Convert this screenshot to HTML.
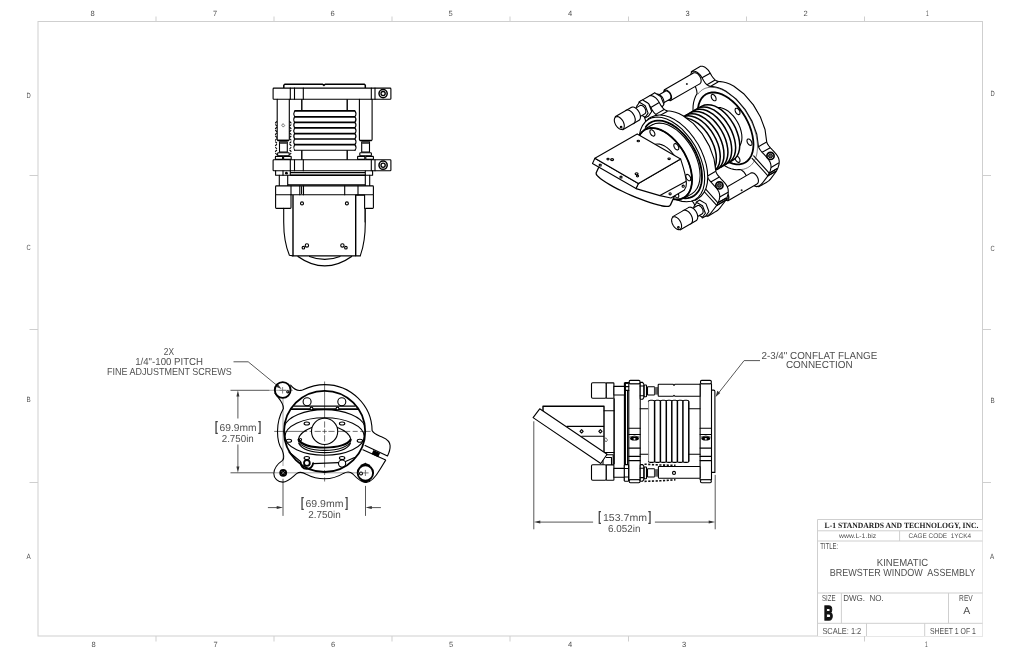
<!DOCTYPE html>
<html lang="en"><head><meta charset="utf-8"><title>Kinematic Brewster Window Assembly</title>
<style>
html,body{margin:0;padding:0;background:#fff;}
body{width:1020px;height:660px;overflow:hidden;}
svg{display:block;will-change:transform;}
text{font-family:"Liberation Sans",sans-serif;fill:#505050;text-rendering:geometricPrecision;}
text.b{font-weight:bold;fill:#111;}
text.br{fill:#333;stroke:#333;stroke-width:0.35;}
text.serif{font-family:"Liberation Serif",serif;font-weight:bold;fill:#222;}
.k{fill:none;stroke:#000;stroke-width:1.1;stroke-linecap:round;stroke-linejoin:round;}
.k2{fill:none;stroke:#000;stroke-width:1.8;stroke-linecap:round;stroke-linejoin:round;}
.t{fill:none;stroke:#222;stroke-width:0.6;stroke-linecap:round;stroke-linejoin:round;}
.w{fill:#fff;stroke:#000;stroke-width:1.1;stroke-linecap:round;stroke-linejoin:round;}
.d{fill:none;stroke:#444;stroke-width:0.9;}
.f{fill:none;stroke:#cfcfcf;stroke-width:1;}
.a{fill:#333;stroke:none;}
</style></head>
<body>
<svg width="1020" height="660" viewBox="0 0 1020 660">
<rect x="0" y="0" width="1020" height="660" fill="#fff"/>
<g id="frame">
<rect class="f" x="38" y="21.5" width="944.5" height="614.5"/>
<path class="f" d="M156 16.5V21.5M274 16.5V21.5M392 16.5V21.5M510 16.5V21.5M628.5 16.5V21.5M746.5 16.5V21.5M864.5 16.5V21.5"/>
<path class="f" d="M156 636V641.5M274 636V641.5M392 636V641.5M510 636V641.5M628.5 636V641.5M864.5 636V641.5"/>
<path class="f" d="M29.5 175.5H38M29.5 329.5H38M29.5 482.5H38M982.5 175.5H991M982.5 329.5H991M982.5 482.5H991"/>
<g>
<text transform="translate(90.40 15.70) scale(0.7554 0.7558)" font-size="10" xml:space="preserve">8</text><text transform="translate(212.90 15.70) scale(0.7554 0.7558)" font-size="10" xml:space="preserve">7</text><text transform="translate(330.40 15.70) scale(0.7554 0.7558)" font-size="10" xml:space="preserve">6</text><text transform="translate(448.40 15.70) scale(0.7554 0.7558)" font-size="10" xml:space="preserve">5</text>
<text transform="translate(567.90 15.70) scale(0.7554 0.7558)" font-size="10" xml:space="preserve">4</text><text transform="translate(685.40 15.70) scale(0.7554 0.7558)" font-size="10" xml:space="preserve">3</text><text transform="translate(803.40 15.70) scale(0.7554 0.7558)" font-size="10" xml:space="preserve">2</text><text transform="translate(926.10 15.90) scale(0.4856 0.7849)" font-size="10" xml:space="preserve">1</text>
<text transform="translate(91.40 646.70) scale(0.7554 0.7558)" font-size="10" xml:space="preserve">8</text><text transform="translate(213.40 646.70) scale(0.7554 0.7558)" font-size="10" xml:space="preserve">7</text><text transform="translate(330.90 646.70) scale(0.7554 0.7558)" font-size="10" xml:space="preserve">6</text><text transform="translate(448.90 646.70) scale(0.7554 0.7558)" font-size="10" xml:space="preserve">5</text>
<text transform="translate(567.90 646.70) scale(0.7554 0.7558)" font-size="10" xml:space="preserve">4</text><text transform="translate(681.90 646.70) scale(0.7554 0.7558)" font-size="10" xml:space="preserve">3</text><text transform="translate(925.10 647.30) scale(0.4856 0.7849)" font-size="10" xml:space="preserve">1</text>
<text transform="translate(26.40 97.70) scale(0.5817 0.7558)" font-size="10" xml:space="preserve">D</text><text transform="translate(26.40 250.20) scale(0.5817 0.7558)" font-size="10" xml:space="preserve">C</text><text transform="translate(26.40 401.70) scale(0.6297 0.7558)" font-size="10" xml:space="preserve">B</text><text transform="translate(26.40 559.20) scale(0.6297 0.7558)" font-size="10" xml:space="preserve">A</text>
<text transform="translate(990.40 95.70) scale(0.5817 0.7558)" font-size="10" xml:space="preserve">D</text><text transform="translate(990.40 251.20) scale(0.5817 0.7558)" font-size="10" xml:space="preserve">C</text><text transform="translate(990.40 402.70) scale(0.6297 0.7558)" font-size="10" xml:space="preserve">B</text><text transform="translate(989.90 558.70) scale(0.6297 0.7558)" font-size="10" xml:space="preserve">A</text>
</g>

</g>
<g id="title">
<rect x="817.5" y="519.5" width="165" height="116.5" fill="#fff" stroke="none"/>
<path class="f" d="M817.5 636V519.5H982.5M817.5 530.8H982.5M817.5 541H982.5M817.5 593H982.5M817.5 623.3H982.5M899.6 530.8V541M841.4 593V623.3M948.5 593V623.3M866.5 623.3V636M924.7 623.3V636"/>
<text class="serif" transform="translate(824.60 528.00) scale(0.7637 0.8092)" font-size="10" xml:space="preserve">L-1 STANDARDS AND TECHNOLOGY, INC.</text>
<text transform="translate(839.01 538.20) scale(0.6898 0.6686)" font-size="10" xml:space="preserve">www.L-1.biz</text>
<text transform="translate(908.50 538.20) scale(0.6427 0.6686)" font-size="10" xml:space="preserve">CAGE CODE  1YCK4</text>
<text transform="translate(820.20 548.80) scale(0.5998 0.8721)" font-size="10" xml:space="preserve">TITLE:</text>
<text transform="translate(876.80 565.90) scale(0.9570 1.0320)" font-size="10" xml:space="preserve">KINEMATIC</text>
<text transform="translate(829.70 575.80) scale(0.9015 1.0320)" font-size="10" xml:space="preserve">BREWSTER WINDOW  ASSEMBLY</text>
<text transform="translate(822.00 601.40) scale(0.6118 0.8721)" font-size="10" xml:space="preserve">SIZE</text>
<text class="b" transform="translate(824.10 620.30) scale(1.2327 2.0349)" font-size="10" xml:space="preserve" stroke="#111" stroke-width="0.7">B</text>
<text transform="translate(843.20 601.40) scale(0.8032 0.8721)" font-size="10" xml:space="preserve">DWG.  NO.</text>
<text transform="translate(959.10 601.40) scale(0.6615 0.8721)" font-size="10" xml:space="preserve">REV</text>
<text transform="translate(963.20 613.80) scale(1.0495 1.0174)" font-size="10" xml:space="preserve">A</text>
<text transform="translate(822.40 633.50) scale(0.7426 0.8721)" font-size="10" xml:space="preserve">SCALE: 1:2</text>
<text transform="translate(930.00 633.50) scale(0.6902 0.8721)" font-size="10" xml:space="preserve">SHEET 1 OF 1</text>

</g>
<g id="top">
<path d="M283.8 87.9V85.2L284.8 84.3H322.6L323.9 85.4L325.2 84.3H364.4L365.3 85.2V87.9" fill="none" stroke="#000" stroke-width="1.5" stroke-linejoin="round"/>
<rect class="w" x="273.1" y="88.1" width="117.8" height="11.1" rx="0.8"/>
<path class="k" d="M290.3 88.1v11.1M294.5 88.1v11.1M303.3 88.1v11.1M371.3 88.1v11.1M375 88.1v11.1"/>
<circle cx="383.1" cy="93.6" r="4.1" fill="#fff" stroke="#000" stroke-width="1.5"/>
<circle cx="383.1" cy="93.6" r="2.1" fill="#fff" stroke="#000" stroke-width="1.3"/>
<rect class="w" x="273.1" y="159.7" width="117.8" height="11.1" rx="0.8"/>
<path class="k" d="M290.3 159.7v11.1M294.5 159.7v11.1M303.3 159.7v11.1M371.3 159.7v11.1M375 159.7v11.1"/>
<circle cx="383.1" cy="165.2" r="4.1" fill="#fff" stroke="#000" stroke-width="1.5"/>
<circle cx="383.1" cy="165.2" r="2.1" fill="#fff" stroke="#000" stroke-width="1.3"/>
<path class="k" d="M277.2 99.2V139.6Q277.2 140.4 278 140.4H288.5Q289.3 140.4 289.3 139.6V99.2"/>
<path d="M277.6 140.4H288.9M359.8 140.5H371.7" fill="none" stroke="#000" stroke-width="1.5"/>
<path class="k" d="M359.4 99.2V139.6Q359.4 140.5 360.2 140.5H371.3Q372.1 140.5 372.1 139.6V99.2"/>
<path class="t" d="M283.3 123.9L284.7 125.5L283.3 127.1L281.9 125.5Z"/>
<path d="M301.8 99.2V110.9M347.2 99.2V110.9M301.8 150.3V159.7M347.2 150.3V159.7" fill="none" stroke="#000" stroke-width="1.4"/>
<path d="M294.6 110.9H355" fill="none" stroke="#000" stroke-width="1.7"/>
<path d="M294.6 116.8H355" fill="none" stroke="#000" stroke-width="1.7"/>
<path d="M294.6 122.4H355" fill="none" stroke="#000" stroke-width="1.7"/>
<path d="M294.6 127.9H355" fill="none" stroke="#000" stroke-width="1.7"/>
<path d="M294.6 133.6H355" fill="none" stroke="#000" stroke-width="1.7"/>
<path d="M294.6 139H355" fill="none" stroke="#000" stroke-width="1.7"/>
<path d="M294.6 144.6H355" fill="none" stroke="#000" stroke-width="1.7"/>
<path class="k" d="M295 150.3H355"/>
<path class="k" d="M294.6 110.9Q292.9 113.85 294.6 116.8M294.6 116.8Q292.9 119.6 294.6 122.4M294.6 122.4Q292.9 125.15 294.6 127.9M294.6 127.9Q292.9 130.75 294.6 133.6M294.6 133.6Q292.9 136.3 294.6 139M294.6 139Q292.9 141.8 294.6 144.6M294.6 144.6Q292.9 147.45 294.6 150.3"/>
<path class="k" d="M355 110.9Q357 113.85 355 116.8M355 116.8Q357 119.6 355 122.4M355 122.4Q357 125.15 355 127.9M355 127.9Q357 130.75 355 133.6M355 133.6Q357 136.3 355 139M355 139Q357 141.8 355 144.6M355 144.6Q357 147.45 355 150.3"/>
<rect class="k" x="279.5" y="141.7" width="7.8" height="10.3"/>
<rect x="279.79999999999995" y="141.5" width="7.2" height="2.4" fill="#444"/>
<rect class="k" x="277.59999999999997" y="152.7" width="11.6" height="3.2" rx="0.8"/>
<rect class="k" x="275.4" y="156.4" width="7.2" height="3" rx="0.5"/>
<rect class="k" x="283.59999999999997" y="156.4" width="7.6" height="3" rx="0.5"/>
<rect class="k" x="361.70000000000005" y="141.7" width="7.8" height="10.3"/>
<rect x="362.0" y="141.5" width="7.2" height="2.4" fill="#444"/>
<rect class="k" x="359.8" y="152.7" width="11.6" height="3.2" rx="0.8"/>
<rect class="k" x="357.6" y="156.4" width="7.2" height="3" rx="0.5"/>
<rect class="k" x="365.8" y="156.4" width="7.6" height="3" rx="0.5"/>
<path d="M277 121.5Q273.6 123.7 277 126.1M289.5 121.5Q293 123.7 289.5 126.1M277 127.2Q273.6 129.4 277 131.8M289.5 127.2Q293 129.4 289.5 131.8M277 132.9Q273.6 135.1 277 137.5M289.5 132.9Q293 135.1 289.5 137.5M277 138.6Q273.6 140.79999999999998 277 143.2M289.5 138.6Q293 140.79999999999998 289.5 143.2M277 144.3Q273.6 146.5 277 148.9M289.5 144.3Q293 146.5 289.5 148.9M277 150.0Q273.6 152.2 277 154.6M289.5 150.0Q293 152.2 289.5 154.6" fill="none" stroke="#000" stroke-width="1.1" stroke-dasharray="2.4 1.2"/>
<path class="k" d="M275.6 170.9V175.3H372.6V170.9"/>
<path class="k" d="M283 170.9V175.3M290.3 170.9V175.3M365.3 170.9V175.3M291 172.6H365.3"/>
<path d="M290.5 175.2H365.5" fill="none" stroke="#000" stroke-width="1.6"/>
<circle cx="286.4" cy="173.2" r="1.4" fill="#000"/>
<path class="k" d="M279.3 175.3V185.9M287.7 175.3V185.9M369.7 175.3V185.9M365.3 175.3V185.9M288.3 184.9H365.3"/>
<rect class="w" x="275.6" y="185.9" width="97.8" height="8.8" rx="0.8"/>
<path class="k" d="M291 185.9V194.7M299.8 185.9V194.7M303.5 185.9V194.7M344.7 185.9V194.7M358 185.9V194.7"/>
<path class="k" d="M301.6 186.5V193.5"/>
<path class="k" d="M275.6 194.7V207.6Q275.6 208.4 276.4 208.4H290.2Q291 208.4 291 207.6V194.7"/>
<path class="k" d="M373.4 194.7V207.6Q373.4 208.4 372.6 208.4H366"/>
<path d="M293 195.1V255.9H355.7M355.7 195.1V255.9" fill="none" stroke="#000" stroke-width="1.4"/>
<path class="k" d="M355.7 195.1H364.6V208.4"/>
<path class="k" d="M355.7 255.9H360.3"/>
<path class="k" d="M283.7 208.4V222Q283.7 242 289.4 255.2L293 255.9"/>
<path class="k" d="M365.3 208.4V222Q365.3 242 360.4 255.4"/>
<path class="t" d="M364.6 208.4V222"/>
<path d="M297.6 256.2Q324.8 275.6 352 256.2" fill="none" stroke="#000" stroke-width="1.4"/>
<path class="k" d="M309.5 256.4Q324.8 262.4 340 256.4"/>
<circle class="k" cx="302" cy="203.4" r="1.5"/>
<circle class="k" cx="346.9" cy="203.4" r="1.5"/>
<circle class="k" cx="306.9" cy="245.4" r="1.7"/>
<circle class="k" cx="303.4" cy="247.7" r="1.3"/>
<circle class="k" cx="342.40000000000003" cy="245.4" r="1.7"/>
<circle class="k" cx="345.90000000000003" cy="247.7" r="1.3"/>
</g>
<g id="iso">
<path d="M764.1 138.7L763.8 133.4L762.7 127.9L761.0 122.2L758.7 116.5L755.9 110.9L752.5 105.7L748.7 100.8L744.6 96.5L740.3 92.8L735.9 89.9L731.5 87.7L727.2 86.4L723.1 86.0L719.3 86.5L716.0 87.9L713.1 90.1L710.8 93.2L709.1 96.9L708.1 101.3L707.7 106.2L708.1 111.5L709.1 117.0L710.8 122.7L713.1 128.4L716.0 134.0L719.3 139.2L723.1 144.1L727.2 148.4L731.5 152.1L735.9 155.0L740.3 157.1L744.6 158.4L748.7 158.8L752.5 158.4L755.9 157.0L758.7 154.7L761.0 151.7L762.7 148.0L763.8 143.6ZM716.0 87.9L713.4 89.4M755.9 157.0L753.2 158.5" fill="none" stroke="#000" stroke-width="2.2" stroke-linejoin="round" stroke-linecap="round"/>
<path d="M761.5 140.2L761.1 134.9L763.8 133.4L764.1 138.7ZM761.1 134.9L760.1 129.4L762.7 127.9L763.8 133.4ZM760.1 129.4L758.4 123.7L761.0 122.2L762.7 127.9ZM758.4 123.7L756.1 118.0L758.7 116.5L761.0 122.2ZM756.1 118.0L753.2 112.4L755.9 110.9L758.7 116.5ZM753.2 112.4L749.9 107.2L752.5 105.7L755.9 110.9ZM749.9 107.2L746.1 102.3L748.7 100.8L752.5 105.7ZM746.1 102.3L742.0 98.0L744.6 96.5L748.7 100.8ZM742.0 98.0L737.7 94.3L740.3 92.8L744.6 96.5ZM737.7 94.3L733.3 91.4L735.9 89.9L740.3 92.8ZM733.3 91.4L728.9 89.3L731.5 87.7L735.9 89.9ZM728.9 89.3L724.6 88.0L727.2 86.4L731.5 87.7ZM724.6 88.0L720.5 87.6L723.1 86.0L727.2 86.4ZM720.5 87.6L716.7 88.0L719.3 86.5L723.1 86.0ZM716.7 88.0L713.4 89.4L716.0 87.9L719.3 86.5ZM716.0 87.9L713.1 90.1L710.5 91.7L713.4 89.4ZM713.1 90.1L710.8 93.2L708.2 94.7L710.5 91.7ZM710.8 93.2L709.1 96.9L706.5 98.4L708.2 94.7ZM709.1 96.9L708.1 101.3L705.4 102.8L706.5 98.4ZM708.1 101.3L707.7 106.2L705.1 107.7L705.4 102.8ZM707.7 106.2L708.1 111.5L705.4 113.0L705.1 107.7ZM708.1 111.5L709.1 117.0L706.5 118.5L705.4 113.0ZM709.1 117.0L710.8 122.7L708.2 124.2L706.5 118.5ZM710.8 122.7L713.1 128.4L710.5 129.9L708.2 124.2ZM713.1 128.4L716.0 134.0L713.4 135.5L710.5 129.9ZM716.0 134.0L719.3 139.2L716.7 140.7L713.4 135.5ZM719.3 139.2L723.1 144.1L720.5 145.6L716.7 140.7ZM723.1 144.1L727.2 148.4L724.6 149.9L720.5 145.6ZM727.2 148.4L731.5 152.1L728.9 153.6L724.6 149.9ZM731.5 152.1L735.9 155.0L733.3 156.5L728.9 153.6ZM735.9 155.0L740.3 157.1L737.7 158.7L733.3 156.5ZM740.3 157.1L744.6 158.4L742.0 160.0L737.7 158.7ZM744.6 158.4L748.7 158.8L746.1 160.4L742.0 160.0ZM748.7 158.8L752.5 158.4L749.9 159.9L746.1 160.4ZM752.5 158.4L755.9 157.0L753.2 158.5L749.9 159.9ZM753.2 158.5L756.1 156.3L758.7 154.7L755.9 157.0ZM756.1 156.3L758.4 153.2L761.0 151.7L758.7 154.7ZM758.4 153.2L760.1 149.5L762.7 148.0L761.0 151.7ZM760.1 149.5L761.1 145.1L763.8 143.6L762.7 148.0ZM761.1 145.1L761.5 140.2L764.1 138.7L763.8 143.6ZM763.8 143.6L762.7 148.0L761.0 151.7L758.7 154.7L755.9 157.0L752.5 158.4L748.7 158.8L744.6 158.4L740.3 157.1L735.9 155.0L731.5 152.1L727.2 148.4L723.1 144.1L719.3 139.2L716.0 134.0L713.1 128.4L710.8 122.7L709.1 117.0L708.1 111.5L707.7 106.2L708.1 101.3L709.1 96.9L710.8 93.2L713.1 90.1L716.0 87.9L719.3 86.5L723.1 86.0L727.2 86.4L731.5 87.7L735.9 89.9L740.3 92.8L744.6 96.5L748.7 100.8L752.5 105.7L755.9 110.9L758.7 116.5L761.0 122.2L762.7 127.9L763.8 133.4L764.1 138.7ZM761.1 145.1L760.1 149.5L758.4 153.2L756.1 156.3L753.2 158.5L749.9 159.9L746.1 160.4L742.0 160.0L737.7 158.7L733.3 156.5L728.9 153.6L724.6 149.9L720.5 145.6L716.7 140.7L713.4 135.5L710.5 129.9L708.2 124.2L706.5 118.5L705.4 113.0L705.1 107.7L705.4 102.8L706.5 98.4L708.2 94.7L710.5 91.7L713.4 89.4L716.7 88.0L720.5 87.6L724.6 88.0L728.9 89.3L733.3 91.4L737.7 94.3L742.0 98.0L746.1 102.3L749.9 107.2L753.2 112.4L756.1 118.0L758.4 123.7L760.1 129.4L761.1 134.9L761.5 140.2Z" fill="#fff" stroke="none" fill-rule="nonzero"/>
<path d="M761.5 140.2L761.1 134.9L760.1 129.4L758.4 123.7L756.1 118.0L753.2 112.4L749.9 107.2L746.1 102.3L742.0 98.0L737.7 94.3L733.3 91.4L728.9 89.3L724.6 88.0L720.5 87.6L716.7 88.0L713.4 89.4L710.5 91.7L708.2 94.7L706.5 98.4L705.4 102.8L705.1 107.7L705.4 113.0L706.5 118.5L708.2 124.2L710.5 129.9L713.4 135.5L716.7 140.7L720.5 145.6L724.6 149.9L728.9 153.6L733.3 156.5L737.7 158.7L742.0 160.0L746.1 160.4L749.9 159.9L753.2 158.5L756.1 156.3L758.4 153.2L760.1 149.5L761.1 145.1Z" fill="#fff" stroke="#000" stroke-width="1.1" stroke-linejoin="round"/>
<path d="M698.9 73.6L700.4 76.9L702.0 80.1L703.5 83.3L704.4 86.3L704.7 89.2L703.3 91.8L702.1 94.7L701.3 97.9L700.8 101.4L700.7 105.1L700.8 108.8L701.3 112.4L701.9 115.8L702.8 118.8L703.7 121.3L704.3 123.7L704.7 125.9L704.9 127.9L704.7 129.5L704.2 130.4L702.4 130.9L700.8 131.7L699.5 133.0L698.5 134.8L698.1 137.2L698.4 139.7L699.3 142.1L700.6 144.4L702.4 146.3L704.3 147.8L706.5 148.6L708.5 148.7L710.3 148.1L712.1 147.3L713.9 146.5L715.1 146.5L716.5 147.0L717.8 148.0L719.2 149.3L720.5 150.8L723.0 153.5L725.4 156.0L728.0 158.2L730.6 160.2L733.3 161.9L736.1 163.3L738.9 164.4L741.5 165.0L744.0 165.2L746.3 165.1L747.7 165.2L749.0 165.6L750.4 166.5L751.7 167.8L752.9 169.4L754.5 172.2L756.2 175.1L758.0 177.7L760.0 179.9L762.1 181.5L764.4 182.1L766.5 181.7L768.4 180.4L770.2 178.6L771.7 176.5L775.6 171.4L776.9 168.8L777.5 167.5L778.0 166.0L778.4 164.5L778.6 163.0L778.7 161.4L778.4 159.5L777.8 157.7L776.7 155.8L775.3 153.9L773.4 151.8L771.5 149.8L769.8 147.9L768.3 146.1L767.0 144.2L766.2 142.2L764.5 129.7L759.8 117.0L752.7 104.9L743.7 94.4L733.3 86.5L729.5 84.6L726.1 83.3L723.1 82.6L720.4 82.2L718.0 82.0L716.3 81.4L714.7 80.3L713.0 78.6L711.4 76.3L709.7 73.4L708.7 71.7L707.6 70.3L706.5 69.2L705.4 68.3L704.3 67.5L702.4 66.8L700.8 66.8L699.6 67.5L698.8 68.9L698.5 70.8L698.5 71.3L698.6 71.9L698.6 72.5L698.7 73.0ZM704.2 130.4L696.5 134.8M700.8 131.7L693.1 136.2M766.5 181.7L758.8 186.1M699.6 67.5L691.9 72.0M709.7 73.4L702.0 77.8M714.7 80.3L707.0 84.8M718.0 82.0L710.3 86.4M766.2 142.2L758.5 146.7M769.8 147.9L762.1 152.3M778.6 163.0L771.0 167.4M776.9 168.8L769.2 173.2M775.6 171.4L767.9 175.8" fill="none" stroke="#000" stroke-width="2.2" stroke-linejoin="round" stroke-linecap="round"/>
<path d="M698.9 73.6L700.4 76.9L692.8 81.4L691.2 78.0ZM700.4 76.9L702.0 80.1L694.4 84.6L692.8 81.4ZM702.0 80.1L703.5 83.3L695.8 87.7L694.4 84.6ZM703.5 83.3L704.4 86.3L696.7 90.7L695.8 87.7ZM704.4 86.3L704.7 89.2L697.1 93.6L696.7 90.7ZM704.7 89.2L703.3 91.8L695.6 96.2L697.1 93.6ZM703.3 91.8L702.1 94.7L694.5 99.1L695.6 96.2ZM702.1 94.7L701.3 97.9L693.6 102.4L694.5 99.1ZM701.3 97.9L700.8 101.4L693.1 105.9L693.6 102.4ZM700.8 101.4L700.7 105.1L693.0 109.6L693.1 105.9ZM700.7 105.1L700.8 108.8L693.1 113.2L693.0 109.6ZM700.8 108.8L701.3 112.4L693.6 116.8L693.1 113.2ZM701.3 112.4L701.9 115.8L694.2 120.2L693.6 116.8ZM701.9 115.8L702.8 118.8L695.1 123.2L694.2 120.2ZM702.8 118.8L703.7 121.3L696.0 125.7L695.1 123.2ZM703.7 121.3L704.3 123.7L696.6 128.1L696.0 125.7ZM704.3 123.7L704.7 125.9L697.0 130.4L696.6 128.1ZM704.7 125.9L704.9 127.9L697.2 132.4L697.0 130.4ZM704.9 127.9L704.7 129.5L697.0 133.9L697.2 132.4ZM704.7 129.5L704.2 130.4L696.5 134.8L697.0 133.9ZM696.5 134.8L694.7 135.3L702.4 130.9L704.2 130.4ZM694.7 135.3L693.1 136.2L700.8 131.7L702.4 130.9ZM700.8 131.7L699.5 133.0L691.8 137.5L693.1 136.2ZM699.5 133.0L698.5 134.8L690.9 139.3L691.8 137.5ZM698.5 134.8L698.1 137.2L690.4 141.7L690.9 139.3ZM698.1 137.2L698.4 139.7L690.7 144.2L690.4 141.7ZM698.4 139.7L699.3 142.1L691.6 146.6L690.7 144.2ZM699.3 142.1L700.6 144.4L692.9 148.8L691.6 146.6ZM700.6 144.4L702.4 146.3L694.7 150.8L692.9 148.8ZM702.4 146.3L704.3 147.8L696.6 152.2L694.7 150.8ZM704.3 147.8L706.5 148.6L698.9 153.1L696.6 152.2ZM706.5 148.6L708.5 148.7L700.8 153.1L698.9 153.1ZM708.5 148.7L710.3 148.1L702.7 152.6L700.8 153.1ZM710.3 148.1L712.1 147.3L704.4 151.7L702.7 152.6ZM712.1 147.3L713.9 146.5L706.2 151.0L704.4 151.7ZM713.9 146.5L715.1 146.5L707.5 151.0L706.2 151.0ZM715.1 146.5L716.5 147.0L708.8 151.5L707.5 151.0ZM716.5 147.0L717.8 148.0L710.1 152.4L708.8 151.5ZM717.8 148.0L719.2 149.3L711.5 153.7L710.1 152.4ZM719.2 149.3L720.5 150.8L712.9 155.3L711.5 153.7ZM720.5 150.8L723.0 153.5L715.3 158.0L712.9 155.3ZM723.0 153.5L725.4 156.0L717.8 160.4L715.3 158.0ZM725.4 156.0L728.0 158.2L720.3 162.7L717.8 160.4ZM728.0 158.2L730.6 160.2L722.9 164.6L720.3 162.7ZM730.6 160.2L733.3 161.9L725.6 166.3L722.9 164.6ZM733.3 161.9L736.1 163.3L728.4 167.8L725.6 166.3ZM736.1 163.3L738.9 164.4L731.2 168.8L728.4 167.8ZM738.9 164.4L741.5 165.0L733.8 169.4L731.2 168.8ZM741.5 165.0L744.0 165.2L736.3 169.7L733.8 169.4ZM744.0 165.2L746.3 165.1L738.6 169.5L736.3 169.7ZM746.3 165.1L747.7 165.2L740.0 169.6L738.6 169.5ZM747.7 165.2L749.0 165.6L741.4 170.1L740.0 169.6ZM749.0 165.6L750.4 166.5L742.7 171.0L741.4 170.1ZM750.4 166.5L751.7 167.8L744.0 172.2L742.7 171.0ZM751.7 167.8L752.9 169.4L745.2 173.8L744.0 172.2ZM752.9 169.4L754.5 172.2L746.8 176.7L745.2 173.8ZM754.5 172.2L756.2 175.1L748.5 179.5L746.8 176.7ZM756.2 175.1L758.0 177.7L750.4 182.1L748.5 179.5ZM758.0 177.7L760.0 179.9L752.3 184.3L750.4 182.1ZM760.0 179.9L762.1 181.5L754.4 185.9L752.3 184.3ZM762.1 181.5L764.4 182.1L756.7 186.6L754.4 185.9ZM764.4 182.1L766.5 181.7L758.8 186.1L756.7 186.6ZM758.8 186.1L760.7 184.8L768.4 180.4L766.5 181.7ZM760.7 184.8L762.5 183.0L770.2 178.6L768.4 180.4ZM762.5 183.0L764.1 180.9L771.7 176.5L770.2 178.6ZM764.1 180.9L767.9 175.8L775.6 171.4L771.7 176.5ZM767.9 175.8L769.2 173.2L776.9 168.8L775.6 171.4ZM769.2 173.2L769.8 171.9L777.5 167.5L776.9 168.8ZM769.8 171.9L770.4 170.4L778.0 166.0L777.5 167.5ZM770.4 170.4L770.7 168.9L778.4 164.5L778.0 166.0ZM770.7 168.9L771.0 167.4L778.6 163.0L778.4 164.5ZM771.0 167.4L771.0 165.9L778.7 161.4L778.6 163.0ZM771.0 165.9L770.7 164.0L778.4 159.5L778.7 161.4ZM770.7 164.0L770.1 162.1L777.8 157.7L778.4 159.5ZM770.1 162.1L769.0 160.3L776.7 155.8L777.8 157.7ZM769.0 160.3L767.6 158.3L775.3 153.9L776.7 155.8ZM767.6 158.3L765.7 156.2L773.4 151.8L775.3 153.9ZM765.7 156.2L763.9 154.2L771.5 149.8L773.4 151.8ZM763.9 154.2L762.1 152.3L769.8 147.9L771.5 149.8ZM762.1 152.3L760.6 150.5L768.3 146.1L769.8 147.9ZM760.6 150.5L759.3 148.6L767.0 144.2L768.3 146.1ZM759.3 148.6L758.5 146.7L766.2 142.2L767.0 144.2ZM758.5 146.7L756.8 134.2L764.5 129.7L766.2 142.2ZM756.8 134.2L752.1 121.4L759.8 117.0L764.5 129.7ZM752.1 121.4L745.0 109.3L752.7 104.9L759.8 117.0ZM745.0 109.3L736.0 98.9L743.7 94.4L752.7 104.9ZM736.0 98.9L725.6 91.0L733.3 86.5L743.7 94.4ZM725.6 91.0L721.8 89.0L729.5 84.6L733.3 86.5ZM721.8 89.0L718.4 87.8L726.1 83.3L729.5 84.6ZM718.4 87.8L715.4 87.0L723.1 82.6L726.1 83.3ZM715.4 87.0L712.7 86.6L720.4 82.2L723.1 82.6ZM712.7 86.6L710.3 86.4L718.0 82.0L720.4 82.2ZM710.3 86.4L708.6 85.9L716.3 81.4L718.0 82.0ZM708.6 85.9L707.0 84.8L714.7 80.3L716.3 81.4ZM707.0 84.8L705.3 83.1L713.0 78.6L714.7 80.3ZM705.3 83.1L703.7 80.8L711.4 76.3L713.0 78.6ZM703.7 80.8L702.0 77.8L709.7 73.4L711.4 76.3ZM702.0 77.8L701.0 76.1L708.7 71.7L709.7 73.4ZM701.0 76.1L699.9 74.7L707.6 70.3L708.7 71.7ZM699.9 74.7L698.8 73.6L706.5 69.2L707.6 70.3ZM698.8 73.6L697.7 72.7L705.4 68.3L706.5 69.2ZM697.7 72.7L696.6 72.0L704.3 67.5L705.4 68.3ZM696.6 72.0L694.7 71.2L702.4 66.8L704.3 67.5ZM694.7 71.2L693.1 71.3L700.8 66.8L702.4 66.8ZM699.6 67.5L698.8 68.9L691.1 73.3L691.9 72.0ZM698.8 68.9L698.5 70.8L690.8 75.2L691.1 73.3ZM698.5 70.8L698.5 71.3L690.8 75.8L690.8 75.2ZM698.5 71.3L698.6 71.9L690.9 76.3L690.8 75.8ZM698.6 71.9L698.6 72.5L691.0 76.9L690.9 76.3ZM698.6 72.5L698.7 73.0L691.1 77.5L691.0 76.9ZM698.7 73.0L698.9 73.6L691.2 78.0L691.1 77.5ZM698.7 73.0L698.6 72.5L698.6 71.9L698.5 71.3L698.5 70.8L698.8 68.9L699.6 67.5L700.8 66.8L702.4 66.8L704.3 67.5L705.4 68.3L706.5 69.2L707.6 70.3L708.7 71.7L709.7 73.4L711.4 76.3L713.0 78.6L714.7 80.3L716.3 81.4L718.0 82.0L720.4 82.2L723.1 82.6L726.1 83.3L729.5 84.6L733.3 86.5L743.7 94.4L752.7 104.9L759.8 117.0L764.5 129.7L766.2 142.2L767.0 144.2L768.3 146.1L769.8 147.9L771.5 149.8L773.4 151.8L775.3 153.9L776.7 155.8L777.8 157.7L778.4 159.5L778.7 161.4L778.6 163.0L778.4 164.5L778.0 166.0L777.5 167.5L776.9 168.8L775.6 171.4L771.7 176.5L770.2 178.6L768.4 180.4L766.5 181.7L764.4 182.1L762.1 181.5L760.0 179.9L758.0 177.7L756.2 175.1L754.5 172.2L752.9 169.4L751.7 167.8L750.4 166.5L749.0 165.6L747.7 165.2L746.3 165.1L744.0 165.2L741.5 165.0L738.9 164.4L736.1 163.3L733.3 161.9L730.6 160.2L728.0 158.2L725.4 156.0L723.0 153.5L720.5 150.8L719.2 149.3L717.8 148.0L716.5 147.0L715.1 146.5L713.9 146.5L712.1 147.3L710.3 148.1L708.5 148.7L706.5 148.6L704.3 147.8L702.4 146.3L700.6 144.4L699.3 142.1L698.4 139.7L698.1 137.2L698.5 134.8L699.5 133.0L700.8 131.7L702.4 130.9L704.2 130.4L704.7 129.5L704.9 127.9L704.7 125.9L704.3 123.7L703.7 121.3L702.8 118.8L701.9 115.8L701.3 112.4L700.8 108.8L700.7 105.1L700.8 101.4L701.3 97.9L702.1 94.7L703.3 91.8L704.7 89.2L704.4 86.3L703.5 83.3L702.0 80.1L700.4 76.9L698.9 73.6ZM691.1 77.5L691.0 76.9L690.9 76.3L690.8 75.8L690.8 75.2L691.1 73.3L691.9 72.0L693.1 71.3L694.7 71.2L696.6 72.0L697.7 72.7L698.8 73.6L699.9 74.7L701.0 76.1L702.0 77.8L703.7 80.8L705.3 83.1L707.0 84.8L708.6 85.9L710.3 86.4L712.7 86.6L715.4 87.0L718.4 87.8L721.8 89.0L725.6 91.0L736.0 98.9L745.0 109.3L752.1 121.4L756.8 134.2L758.5 146.7L759.3 148.6L760.6 150.5L762.1 152.3L763.9 154.2L765.7 156.2L767.6 158.3L769.0 160.3L770.1 162.1L770.7 164.0L771.0 165.9L771.0 167.4L770.7 168.9L770.4 170.4L769.8 171.9L769.2 173.2L767.9 175.8L764.1 180.9L762.5 183.0L760.7 184.8L758.8 186.1L756.7 186.6L754.4 185.9L752.3 184.3L750.4 182.1L748.5 179.5L746.8 176.7L745.2 173.8L744.0 172.2L742.7 171.0L741.4 170.1L740.0 169.6L738.6 169.5L736.3 169.7L733.8 169.4L731.2 168.8L728.4 167.8L725.6 166.3L722.9 164.6L720.3 162.7L717.8 160.4L715.3 158.0L712.9 155.3L711.5 153.7L710.1 152.4L708.8 151.5L707.5 151.0L706.2 151.0L704.4 151.7L702.7 152.6L700.8 153.1L698.9 153.1L696.6 152.2L694.7 150.8L692.9 148.8L691.6 146.6L690.7 144.2L690.4 141.7L690.9 139.3L691.8 137.5L693.1 136.2L694.7 135.3L696.5 134.8L697.0 133.9L697.2 132.4L697.0 130.4L696.6 128.1L696.0 125.7L695.1 123.2L694.2 120.2L693.6 116.8L693.1 113.2L693.0 109.6L693.1 105.9L693.6 102.4L694.5 99.1L695.6 96.2L697.1 93.6L696.7 90.7L695.8 87.7L694.4 84.6L692.8 81.4L691.2 78.0Z" fill="#fff" stroke="none" fill-rule="nonzero"/>
<path class="k" d="M709.7 73.4L702.0 77.8M714.7 80.3L707.0 84.8M718.0 82.0L710.3 86.4M766.2 142.2L758.5 146.7M769.8 147.9L762.1 152.3M778.6 163.0L771.0 167.4M776.9 168.8L769.2 173.2M775.6 171.4L767.9 175.8"/>
<path d="M691.2 78.0L692.8 81.4L694.4 84.6L695.8 87.7L696.7 90.7L697.1 93.6L695.6 96.2L694.5 99.1L693.6 102.4L693.1 105.9L693.0 109.6L693.1 113.2L693.6 116.8L694.2 120.2L695.1 123.2L696.0 125.7L696.6 128.1L697.0 130.4L697.2 132.4L697.0 133.9L696.5 134.8L694.7 135.3L693.1 136.2L691.8 137.5L690.9 139.3L690.4 141.7L690.7 144.2L691.6 146.6L692.9 148.8L694.7 150.8L696.6 152.2L698.9 153.1L700.8 153.1L702.7 152.6L704.4 151.7L706.2 151.0L707.5 151.0L708.8 151.5L710.1 152.4L711.5 153.7L712.9 155.3L715.3 158.0L717.8 160.4L720.3 162.7L722.9 164.6L725.6 166.3L728.4 167.8L731.2 168.8L733.8 169.4L736.3 169.7L738.6 169.5L740.0 169.6L741.4 170.1L742.7 171.0L744.0 172.2L745.2 173.8L746.8 176.7L748.5 179.5L750.4 182.1L752.3 184.3L754.4 185.9L756.7 186.6L758.8 186.1L760.7 184.8L762.5 183.0L764.1 180.9L767.9 175.8L769.2 173.2L769.8 171.9L770.4 170.4L770.7 168.9L771.0 167.4L771.0 165.9L770.7 164.0L770.1 162.1L769.0 160.3L767.6 158.3L765.7 156.2L763.9 154.2L762.1 152.3L760.6 150.5L759.3 148.6L758.5 146.7L756.8 134.2L752.1 121.4L745.0 109.3L736.0 98.9L725.6 91.0L721.8 89.0L718.4 87.8L715.4 87.0L712.7 86.6L710.3 86.4L708.6 85.9L707.0 84.8L705.3 83.1L703.7 80.8L702.0 77.8L701.0 76.1L699.9 74.7L698.8 73.6L697.7 72.7L696.6 72.0L694.7 71.2L693.1 71.3L691.9 72.0L691.1 73.3L690.8 75.2L690.8 75.8L690.9 76.3L691.0 76.9L691.1 77.5Z" fill="#fff" stroke="#000" stroke-width="1.1" stroke-linejoin="round"/>
<path class="k" d="M753.7 155.8L769.2 173.2"/>
<path class="k" d="M752.1 158.4L767.9 175.8"/>
<path class="k" d="M769.2 173.2L776.9 168.8"/>
<path class="k" d="M767.9 175.8L775.6 171.4"/>
<circle cx="770.5" cy="155.9" r="3.6" fill="#fff" stroke="#000" stroke-width="1.7"/>
<circle cx="770.5" cy="155.9" r="2.0" fill="#555" stroke="#000" stroke-width="0.9"/>
<path class="t" d="M741.5 169.5L743.6 169.2L745.5 168.6L747.4 167.8L749.1 166.8L750.7 165.6L752.1 164.1L753.4 162.5L754.5 160.6L755.4 158.6L756.2 156.4L756.8 154.0L757.2 151.4L757.4 148.8L757.5 146.0L757.3 143.1L757.0 140.1L756.5 137.1L755.8 134.0L754.9 130.9L753.9 127.7L752.7 124.6L751.3 121.5L749.8 118.4L748.1 115.4L746.3 112.4L744.4 109.6L742.4 106.9L740.3 104.3L738.1 101.8L735.8 99.5L733.5 97.3L731.1 95.4L728.7 93.6L726.3 92.0L723.9 90.7L721.4 89.5L719.0 88.6L716.7 87.9L714.4 87.5L712.1 87.3L710.0 87.3L707.9 87.6L705.9 88.1L704.1 88.8L702.3 89.8L700.7 91.0L699.3 92.4L698.0 94.1"/>
<path class="k2" d="M753.5 144.5L753.2 140.1L752.5 135.6L751.3 130.9L749.7 126.2L747.7 121.6L745.3 117.0L742.6 112.7L739.5 108.6L736.3 104.8L732.8 101.5L729.2 98.6L725.6 96.2L722.0 94.4L718.4 93.2L714.9 92.5L711.7 92.5L708.6 93.1L705.9 94.3L703.5 96.1L701.5 98.4L699.9 101.2L698.7 104.5L698.0 108.3L697.7 112.3L698.0 116.7L698.7 121.2L699.9 125.9L701.5 130.6L703.5 135.2L705.9 139.8L708.6 144.1L711.7 148.2L714.9 152.0L718.4 155.3L722.0 158.2L725.6 160.6L729.2 162.4L732.8 163.6L736.3 164.3L739.5 164.3L742.6 163.7L745.3 162.5L747.7 160.7L749.7 158.4L751.3 155.6L752.5 152.3L753.2 148.5L753.5 144.5Z"/>
<path class="w" d="M752.0 143.6L751.9 142.7L751.5 141.7L751.0 140.7L750.3 139.9L749.5 139.3L748.7 139.0L748.0 139.0L747.5 139.3L747.1 139.9L747.0 140.8L747.1 141.7L747.5 142.7L748.0 143.7L748.7 144.5L749.5 145.1L750.3 145.4L751.0 145.4L751.5 145.1L751.9 144.5L752.0 143.6Z"/>
<path class="w" d="M740.0 112.8L739.9 111.9L739.6 110.9L739.0 109.9L738.3 109.1L737.6 108.5L736.8 108.2L736.1 108.2L735.5 108.5L735.2 109.1L735.1 110.0L735.2 110.9L735.5 111.9L736.1 112.9L736.8 113.7L737.6 114.3L738.3 114.6L739.0 114.6L739.6 114.3L739.9 113.7L740.0 112.8Z"/>
<path class="w" d="M716.1 99.0L716.0 98.1L715.7 97.1L715.1 96.1L714.4 95.3L713.6 94.7L712.9 94.4L712.2 94.4L711.6 94.7L711.3 95.3L711.2 96.2L711.3 97.1L711.6 98.1L712.2 99.1L712.9 99.9L713.6 100.5L714.4 100.8L715.1 100.8L715.7 100.5L716.0 99.9L716.1 99.0Z"/>
<path class="w" d="M704.2 116.0L704.1 115.1L703.7 114.1L703.2 113.1L702.5 112.3L701.7 111.7L700.9 111.4L700.2 111.4L699.7 111.7L699.3 112.3L699.2 113.2L699.3 114.1L699.7 115.1L700.2 116.1L700.9 116.9L701.7 117.5L702.5 117.8L703.2 117.8L703.7 117.5L704.1 116.9L704.2 116.0Z"/>
<path class="w" d="M716.1 146.8L716.0 145.9L715.7 144.9L715.1 143.9L714.4 143.1L713.6 142.5L712.9 142.2L712.2 142.2L711.6 142.5L711.3 143.1L711.2 144.0L711.3 144.9L711.6 145.9L712.2 146.9L712.9 147.7L713.6 148.3L714.4 148.6L715.1 148.6L715.7 148.3L716.0 147.7L716.1 146.8Z"/>
<path class="w" d="M740.0 160.6L739.9 159.7L739.6 158.7L739.0 157.7L738.3 156.9L737.6 156.3L736.8 156.0L736.1 156.0L735.5 156.3L735.2 156.9L735.1 157.8L735.2 158.7L735.5 159.7L736.1 160.7L736.8 161.5L737.6 162.1L738.3 162.4L739.0 162.4L739.6 162.1L739.9 161.5L740.0 160.6Z"/>
<path d="M700.0 146.8L699.9 145.8L699.6 144.7L699.1 143.7L698.5 142.7L697.7 141.9L696.9 141.4L696.1 141.0L695.4 140.9L694.7 141.1L694.2 141.6L693.9 142.3L693.8 143.2L693.9 144.2L694.2 145.2L694.7 146.2L695.4 147.2L696.1 148.0L696.9 148.6L697.7 148.9L698.5 149.0L699.1 148.8L699.6 148.3L699.9 147.6ZM694.7 141.1L651.5 166.1M699.1 148.8L655.9 173.7" fill="none" stroke="#000" stroke-width="2.2" stroke-linejoin="round" stroke-linecap="round"/>
<path d="M656.8 171.7L656.7 170.7L699.9 145.8L700.0 146.8ZM656.7 170.7L656.4 169.7L699.6 144.7L699.9 145.8ZM656.4 169.7L655.9 168.6L699.1 143.7L699.6 144.7ZM655.9 168.6L655.2 167.7L698.5 142.7L699.1 143.7ZM655.2 167.7L654.5 166.9L697.7 141.9L698.5 142.7ZM654.5 166.9L653.7 166.3L696.9 141.4L697.7 141.9ZM653.7 166.3L652.9 166.0L696.1 141.0L696.9 141.4ZM652.9 166.0L652.1 165.9L695.4 140.9L696.1 141.0ZM652.1 165.9L651.5 166.1L694.7 141.1L695.4 140.9ZM694.7 141.1L694.2 141.6L651.0 166.6L651.5 166.1ZM694.2 141.6L693.9 142.3L650.7 167.2L651.0 166.6ZM693.9 142.3L693.8 143.2L650.6 168.1L650.7 167.2ZM693.8 143.2L693.9 144.2L650.7 169.1L650.6 168.1ZM693.9 144.2L694.2 145.2L651.0 170.2L650.7 169.1ZM694.2 145.2L694.7 146.2L651.5 171.2L651.0 170.2ZM694.7 146.2L695.4 147.2L652.1 172.1L651.5 171.2ZM695.4 147.2L696.1 148.0L652.9 172.9L652.1 172.1ZM696.1 148.0L696.9 148.6L653.7 173.5L652.9 172.9ZM696.9 148.6L697.7 148.9L654.5 173.9L653.7 173.5ZM697.7 148.9L698.5 149.0L655.2 173.9L654.5 173.9ZM698.5 149.0L699.1 148.8L655.9 173.7L655.2 173.9ZM655.9 173.7L656.4 173.3L699.6 148.3L699.1 148.8ZM656.4 173.3L656.7 172.6L699.9 147.6L699.6 148.3ZM656.7 172.6L656.8 171.7L700.0 146.8L699.9 147.6ZM699.9 147.6L699.6 148.3L699.1 148.8L698.5 149.0L697.7 148.9L696.9 148.6L696.1 148.0L695.4 147.2L694.7 146.2L694.2 145.2L693.9 144.2L693.8 143.2L693.9 142.3L694.2 141.6L694.7 141.1L695.4 140.9L696.1 141.0L696.9 141.4L697.7 141.9L698.5 142.7L699.1 143.7L699.6 144.7L699.9 145.8L700.0 146.8ZM656.7 172.6L656.4 173.3L655.9 173.7L655.2 173.9L654.5 173.9L653.7 173.5L652.9 172.9L652.1 172.1L651.5 171.2L651.0 170.2L650.7 169.1L650.6 168.1L650.7 167.2L651.0 166.6L651.5 166.1L652.1 165.9L652.9 166.0L653.7 166.3L654.5 166.9L655.2 167.7L655.9 168.6L656.4 169.7L656.7 170.7L656.8 171.7Z" fill="#fff" stroke="none" fill-rule="nonzero"/>
<path d="M656.8 171.7L656.7 170.7L656.4 169.7L655.9 168.6L655.2 167.7L654.5 166.9L653.7 166.3L652.9 166.0L652.1 165.9L651.5 166.1L651.0 166.6L650.7 167.2L650.6 168.1L650.7 169.1L651.0 170.2L651.5 171.2L652.1 172.1L652.9 172.9L653.7 173.5L654.5 173.9L655.2 173.9L655.9 173.7L656.4 173.3L656.7 172.6Z" fill="#fff" stroke="#000" stroke-width="1.1" stroke-linejoin="round"/>
<path d="M700.6 80.8L700.5 79.8L700.3 78.8L699.9 77.8L699.4 76.8L698.8 75.9L698.1 75.0L697.4 74.3L696.6 73.8L695.8 73.4L695.0 73.3L694.3 73.3L693.7 73.5L693.2 73.9L692.9 74.5L692.6 75.3L692.6 76.1L692.6 77.1L692.9 78.1L693.2 79.1L693.7 80.1L694.3 81.0L695.0 81.8L695.8 82.5L696.6 83.1L697.4 83.4L698.1 83.6L698.8 83.6L699.4 83.4L699.9 82.9L700.3 82.4L700.5 81.6ZM693.7 73.5L664.7 90.3M699.4 83.4L670.4 100.1" fill="none" stroke="#000" stroke-width="2.2" stroke-linejoin="round" stroke-linecap="round"/>
<path d="M671.6 97.5L671.5 96.6L700.5 79.8L700.6 80.8ZM671.5 96.6L671.3 95.6L700.3 78.8L700.5 79.8ZM671.3 95.6L670.9 94.6L699.9 77.8L700.3 78.8ZM670.9 94.6L670.4 93.6L699.4 76.8L699.9 77.8ZM670.4 93.6L669.8 92.6L698.8 75.9L699.4 76.8ZM669.8 92.6L669.1 91.8L698.1 75.0L698.8 75.9ZM669.1 91.8L668.3 91.1L697.4 74.3L698.1 75.0ZM668.3 91.1L667.5 90.6L696.6 73.8L697.4 74.3ZM667.5 90.6L666.8 90.2L695.8 73.4L696.6 73.8ZM666.8 90.2L666.0 90.0L695.0 73.3L695.8 73.4ZM666.0 90.0L665.3 90.1L694.3 73.3L695.0 73.3ZM665.3 90.1L664.7 90.3L693.7 73.5L694.3 73.3ZM693.7 73.5L693.2 73.9L664.2 90.7L664.7 90.3ZM693.2 73.9L692.9 74.5L663.8 91.3L664.2 90.7ZM692.9 74.5L692.6 75.3L663.6 92.0L663.8 91.3ZM692.6 75.3L692.6 76.1L663.5 92.9L663.6 92.0ZM692.6 76.1L692.6 77.1L663.6 93.8L663.5 92.9ZM692.6 77.1L692.9 78.1L663.8 94.8L663.6 93.8ZM692.9 78.1L693.2 79.1L664.2 95.8L663.8 94.8ZM693.2 79.1L693.7 80.1L664.7 96.8L664.2 95.8ZM693.7 80.1L694.3 81.0L665.3 97.8L664.7 96.8ZM694.3 81.0L695.0 81.8L666.0 98.6L665.3 97.8ZM695.0 81.8L695.8 82.5L666.8 99.3L666.0 98.6ZM695.8 82.5L696.6 83.1L667.5 99.8L666.8 99.3ZM696.6 83.1L697.4 83.4L668.3 100.2L667.5 99.8ZM697.4 83.4L698.1 83.6L669.1 100.4L668.3 100.2ZM698.1 83.6L698.8 83.6L669.8 100.3L669.1 100.4ZM698.8 83.6L699.4 83.4L670.4 100.1L669.8 100.3ZM670.4 100.1L670.9 99.7L699.9 82.9L699.4 83.4ZM670.9 99.7L671.3 99.1L700.3 82.4L699.9 82.9ZM671.3 99.1L671.5 98.4L700.5 81.6L700.3 82.4ZM671.5 98.4L671.6 97.5L700.6 80.8L700.5 81.6ZM700.5 81.6L700.3 82.4L699.9 82.9L699.4 83.4L698.8 83.6L698.1 83.6L697.4 83.4L696.6 83.1L695.8 82.5L695.0 81.8L694.3 81.0L693.7 80.1L693.2 79.1L692.9 78.1L692.6 77.1L692.6 76.1L692.6 75.3L692.9 74.5L693.2 73.9L693.7 73.5L694.3 73.3L695.0 73.3L695.8 73.4L696.6 73.8L697.4 74.3L698.1 75.0L698.8 75.9L699.4 76.8L699.9 77.8L700.3 78.8L700.5 79.8L700.6 80.8ZM671.5 98.4L671.3 99.1L670.9 99.7L670.4 100.1L669.8 100.3L669.1 100.4L668.3 100.2L667.5 99.8L666.8 99.3L666.0 98.6L665.3 97.8L664.7 96.8L664.2 95.8L663.8 94.8L663.6 93.8L663.5 92.9L663.6 92.0L663.8 91.3L664.2 90.7L664.7 90.3L665.3 90.1L666.0 90.0L666.8 90.2L667.5 90.6L668.3 91.1L669.1 91.8L669.8 92.6L670.4 93.6L670.9 94.6L671.3 95.6L671.5 96.6L671.6 97.5Z" fill="#fff" stroke="none" fill-rule="nonzero"/>
<path d="M671.6 97.5L671.5 96.6L671.3 95.6L670.9 94.6L670.4 93.6L669.8 92.6L669.1 91.8L668.3 91.1L667.5 90.6L666.8 90.2L666.0 90.0L665.3 90.1L664.7 90.3L664.2 90.7L663.8 91.3L663.6 92.0L663.5 92.9L663.6 93.8L663.8 94.8L664.2 95.8L664.7 96.8L665.3 97.8L666.0 98.6L666.8 99.3L667.5 99.8L668.3 100.2L669.1 100.4L669.8 100.3L670.4 100.1L670.9 99.7L671.3 99.1L671.5 98.4Z" fill="#fff" stroke="#000" stroke-width="1.1" stroke-linejoin="round"/>
<path d="M670.4 96.8L670.3 95.9L670.0 95.0L669.6 94.0L669.0 93.2L668.3 92.5L667.5 91.9L666.8 91.6L666.1 91.5L665.5 91.7L665.1 92.1L664.8 92.8L664.7 93.6L664.8 94.5L665.1 95.4L665.5 96.4L666.1 97.2L666.8 97.9L667.5 98.5L668.3 98.8L669.0 98.9L669.6 98.7L670.0 98.3L670.3 97.6ZM665.5 91.7L658.1 96.0M669.6 98.7L662.1 103.0" fill="none" stroke="#000" stroke-width="2.2" stroke-linejoin="round" stroke-linecap="round"/>
<path d="M663.0 101.1L662.9 100.2L670.3 95.9L670.4 96.8ZM662.9 100.2L662.6 99.3L670.0 95.0L670.3 95.9ZM662.6 99.3L662.1 98.3L669.6 94.0L670.0 95.0ZM662.1 98.3L661.6 97.5L669.0 93.2L669.6 94.0ZM661.6 97.5L660.9 96.7L668.3 92.5L669.0 93.2ZM660.9 96.7L660.1 96.2L667.5 91.9L668.3 92.5ZM660.1 96.2L659.4 95.9L666.8 91.6L667.5 91.9ZM659.4 95.9L658.7 95.8L666.1 91.5L666.8 91.6ZM658.7 95.8L658.1 96.0L665.5 91.7L666.1 91.5ZM665.5 91.7L665.1 92.1L657.7 96.4L658.1 96.0ZM665.1 92.1L664.8 92.8L657.4 97.0L657.7 96.4ZM664.8 92.8L664.7 93.6L657.3 97.8L657.4 97.0ZM664.7 93.6L664.8 94.5L657.4 98.7L657.3 97.8ZM664.8 94.5L665.1 95.4L657.7 99.7L657.4 98.7ZM665.1 95.4L665.5 96.4L658.1 100.6L657.7 99.7ZM665.5 96.4L666.1 97.2L658.7 101.5L658.1 100.6ZM666.1 97.2L666.8 97.9L659.4 102.2L658.7 101.5ZM666.8 97.9L667.5 98.5L660.1 102.8L659.4 102.2ZM667.5 98.5L668.3 98.8L660.9 103.1L660.1 102.8ZM668.3 98.8L669.0 98.9L661.6 103.1L660.9 103.1ZM669.0 98.9L669.6 98.7L662.1 103.0L661.6 103.1ZM662.1 103.0L662.6 102.5L670.0 98.3L669.6 98.7ZM662.6 102.5L662.9 101.9L670.3 97.6L670.0 98.3ZM662.9 101.9L663.0 101.1L670.4 96.8L670.3 97.6ZM670.3 97.6L670.0 98.3L669.6 98.7L669.0 98.9L668.3 98.8L667.5 98.5L666.8 97.9L666.1 97.2L665.5 96.4L665.1 95.4L664.8 94.5L664.7 93.6L664.8 92.8L665.1 92.1L665.5 91.7L666.1 91.5L666.8 91.6L667.5 91.9L668.3 92.5L669.0 93.2L669.6 94.0L670.0 95.0L670.3 95.9L670.4 96.8ZM662.9 101.9L662.6 102.5L662.1 103.0L661.6 103.1L660.9 103.1L660.1 102.8L659.4 102.2L658.7 101.5L658.1 100.6L657.7 99.7L657.4 98.7L657.3 97.8L657.4 97.0L657.7 96.4L658.1 96.0L658.7 95.8L659.4 95.9L660.1 96.2L660.9 96.7L661.6 97.5L662.1 98.3L662.6 99.3L662.9 100.2L663.0 101.1Z" fill="#fff" stroke="none" fill-rule="nonzero"/>
<path d="M663.0 101.1L662.9 100.2L662.6 99.3L662.1 98.3L661.6 97.5L660.9 96.7L660.1 96.2L659.4 95.9L658.7 95.8L658.1 96.0L657.7 96.4L657.4 97.0L657.3 97.8L657.4 98.7L657.7 99.7L658.1 100.6L658.7 101.5L659.4 102.2L660.1 102.8L660.9 103.1L661.6 103.1L662.1 103.0L662.6 102.5L662.9 101.9Z" fill="#fff" stroke="#000" stroke-width="1.1" stroke-linejoin="round"/>
<path d="M663.5 102.3L663.3 101.0L662.9 99.6L662.3 98.3L661.4 97.0L660.4 96.0L659.4 95.2L658.3 94.8L657.3 94.7L656.5 94.9L655.8 95.5L655.4 96.4L655.3 97.6L655.4 98.9L655.8 100.2L656.5 101.6L657.3 102.8L658.3 103.9L659.4 104.6L660.4 105.1L661.4 105.2L662.3 104.9L662.9 104.3L663.3 103.4ZM656.5 94.9L655.0 95.8M662.3 104.9L660.7 105.8" fill="none" stroke="#000" stroke-width="2.2" stroke-linejoin="round" stroke-linecap="round"/>
<path d="M661.9 103.2L661.8 101.9L663.3 101.0L663.5 102.3ZM661.8 101.9L661.4 100.5L662.9 99.6L663.3 101.0ZM661.4 100.5L660.7 99.1L662.3 98.3L662.9 99.6ZM660.7 99.1L659.9 97.9L661.4 97.0L662.3 98.3ZM659.9 97.9L658.9 96.9L660.4 96.0L661.4 97.0ZM658.9 96.9L657.8 96.1L659.4 95.2L660.4 96.0ZM657.8 96.1L656.8 95.6L658.3 94.8L659.4 95.2ZM656.8 95.6L655.8 95.5L657.3 94.7L658.3 94.8ZM655.8 95.5L655.0 95.8L656.5 94.9L657.3 94.7ZM656.5 94.9L655.8 95.5L654.3 96.4L655.0 95.8ZM655.8 95.5L655.4 96.4L653.9 97.3L654.3 96.4ZM655.4 96.4L655.3 97.6L653.8 98.4L653.9 97.3ZM655.3 97.6L655.4 98.9L653.9 99.7L653.8 98.4ZM655.4 98.9L655.8 100.2L654.3 101.1L653.9 99.7ZM655.8 100.2L656.5 101.6L655.0 102.5L654.3 101.1ZM656.5 101.6L657.3 102.8L655.8 103.7L655.0 102.5ZM657.3 102.8L658.3 103.9L656.8 104.7L655.8 103.7ZM658.3 103.9L659.4 104.6L657.8 105.5L656.8 104.7ZM659.4 104.6L660.4 105.1L658.9 106.0L657.8 105.5ZM660.4 105.1L661.4 105.2L659.9 106.1L658.9 106.0ZM661.4 105.2L662.3 104.9L660.7 105.8L659.9 106.1ZM660.7 105.8L661.4 105.2L662.9 104.3L662.3 104.9ZM661.4 105.2L661.8 104.3L663.3 103.4L662.9 104.3ZM661.8 104.3L661.9 103.2L663.5 102.3L663.3 103.4ZM663.3 103.4L662.9 104.3L662.3 104.9L661.4 105.2L660.4 105.1L659.4 104.6L658.3 103.9L657.3 102.8L656.5 101.6L655.8 100.2L655.4 98.9L655.3 97.6L655.4 96.4L655.8 95.5L656.5 94.9L657.3 94.7L658.3 94.8L659.4 95.2L660.4 96.0L661.4 97.0L662.3 98.3L662.9 99.6L663.3 101.0L663.5 102.3ZM661.8 104.3L661.4 105.2L660.7 105.8L659.9 106.1L658.9 106.0L657.8 105.5L656.8 104.7L655.8 103.7L655.0 102.5L654.3 101.1L653.9 99.7L653.8 98.4L653.9 97.3L654.3 96.4L655.0 95.8L655.8 95.5L656.8 95.6L657.8 96.1L658.9 96.9L659.9 97.9L660.7 99.1L661.4 100.5L661.8 101.9L661.9 103.2Z" fill="#fff" stroke="none" fill-rule="nonzero"/>
<path d="M661.9 103.2L661.8 101.9L661.4 100.5L660.7 99.1L659.9 97.9L658.9 96.9L657.8 96.1L656.8 95.6L655.8 95.5L655.0 95.8L654.3 96.4L653.9 97.3L653.8 98.4L653.9 99.7L654.3 101.1L655.0 102.5L655.8 103.7L656.8 104.7L657.8 105.5L658.9 106.0L659.9 106.1L660.7 105.8L661.4 105.2L661.8 104.3Z" fill="#fff" stroke="#000" stroke-width="1.1" stroke-linejoin="round"/>
<path d="M663.3 104.3L660.4 96.9L654.7 93.5L651.8 97.6L654.7 105.1L660.4 108.4ZM654.7 93.5L650.5 96.0M660.4 108.4L656.2 110.8" fill="none" stroke="#000" stroke-width="2.2" stroke-linejoin="round" stroke-linecap="round"/>
<path d="M659.1 106.7L656.2 99.3L660.4 96.9L663.3 104.3ZM656.2 99.3L650.5 96.0L654.7 93.5L660.4 96.9ZM654.7 93.5L651.8 97.6L647.6 100.1L650.5 96.0ZM651.8 97.6L654.7 105.1L650.5 107.5L647.6 100.1ZM654.7 105.1L660.4 108.4L656.2 110.8L650.5 107.5ZM656.2 110.8L659.1 106.7L663.3 104.3L660.4 108.4ZM660.4 108.4L654.7 105.1L651.8 97.6L654.7 93.5L660.4 96.9L663.3 104.3ZM656.2 110.8L650.5 107.5L647.6 100.1L650.5 96.0L656.2 99.3L659.1 106.7Z" fill="#fff" stroke="none" fill-rule="nonzero"/>
<path d="M659.1 106.7L656.2 99.3L650.5 96.0L647.6 100.1L650.5 107.5L656.2 110.8Z" fill="#fff" stroke="#000" stroke-width="1.1" stroke-linejoin="round"/>
<circle cx="686.9" cy="83.9" r="1" fill="#222"/>
<path d="M741.4 137.5L741.2 134.6L740.6 131.4L739.7 128.2L738.4 125.1L736.8 122.0L734.9 119.0L732.8 116.3L730.5 113.9L728.1 111.8L725.6 110.2L723.1 109.0L720.7 108.2L718.4 108.0L716.3 108.3L714.4 109.1L712.8 110.3L711.5 112.0L710.6 114.1L710.0 116.5L709.8 119.3L710.0 122.2L710.6 125.4L711.5 128.6L712.8 131.7L714.4 134.8L716.3 137.8L718.4 140.5L720.7 142.9L723.1 145.0L725.6 146.6L728.1 147.8L730.5 148.6L732.8 148.8L734.9 148.5L736.8 147.7L738.4 146.5L739.7 144.8L740.6 142.7L741.2 140.3ZM714.4 109.1L706.1 113.9M736.8 147.7L728.5 152.5" fill="none" stroke="#000" stroke-width="2.2" stroke-linejoin="round" stroke-linecap="round"/>
<path d="M733.1 142.3L732.9 139.4L741.2 134.6L741.4 137.5ZM732.9 139.4L732.3 136.2L740.6 131.4L741.2 134.6ZM732.3 136.2L731.4 133.0L739.7 128.2L740.6 131.4ZM731.4 133.0L730.1 129.9L738.4 125.1L739.7 128.2ZM730.1 129.9L728.5 126.8L736.8 122.0L738.4 125.1ZM728.5 126.8L726.6 123.8L734.9 119.0L736.8 122.0ZM726.6 123.8L724.5 121.1L732.8 116.3L734.9 119.0ZM724.5 121.1L722.2 118.7L730.5 113.9L732.8 116.3ZM722.2 118.7L719.8 116.6L728.1 111.8L730.5 113.9ZM719.8 116.6L717.3 115.0L725.6 110.2L728.1 111.8ZM717.3 115.0L714.8 113.8L723.1 109.0L725.6 110.2ZM714.8 113.8L712.4 113.0L720.7 108.2L723.1 109.0ZM712.4 113.0L710.1 112.8L718.4 108.0L720.7 108.2ZM710.1 112.8L708.0 113.1L716.3 108.3L718.4 108.0ZM708.0 113.1L706.1 113.9L714.4 109.1L716.3 108.3ZM714.4 109.1L712.8 110.3L704.5 115.1L706.1 113.9ZM712.8 110.3L711.5 112.0L703.2 116.8L704.5 115.1ZM711.5 112.0L710.6 114.1L702.3 118.9L703.2 116.8ZM710.6 114.1L710.0 116.5L701.7 121.3L702.3 118.9ZM710.0 116.5L709.8 119.3L701.5 124.1L701.7 121.3ZM709.8 119.3L710.0 122.2L701.7 127.0L701.5 124.1ZM710.0 122.2L710.6 125.4L702.3 130.2L701.7 127.0ZM710.6 125.4L711.5 128.6L703.2 133.4L702.3 130.2ZM711.5 128.6L712.8 131.7L704.5 136.5L703.2 133.4ZM712.8 131.7L714.4 134.8L706.1 139.6L704.5 136.5ZM714.4 134.8L716.3 137.8L708.0 142.6L706.1 139.6ZM716.3 137.8L718.4 140.5L710.1 145.3L708.0 142.6ZM718.4 140.5L720.7 142.9L712.4 147.7L710.1 145.3ZM720.7 142.9L723.1 145.0L714.8 149.8L712.4 147.7ZM723.1 145.0L725.6 146.6L717.3 151.4L714.8 149.8ZM725.6 146.6L728.1 147.8L719.8 152.6L717.3 151.4ZM728.1 147.8L730.5 148.6L722.2 153.4L719.8 152.6ZM730.5 148.6L732.8 148.8L724.5 153.6L722.2 153.4ZM732.8 148.8L734.9 148.5L726.6 153.3L724.5 153.6ZM734.9 148.5L736.8 147.7L728.5 152.5L726.6 153.3ZM728.5 152.5L730.1 151.3L738.4 146.5L736.8 147.7ZM730.1 151.3L731.4 149.6L739.7 144.8L738.4 146.5ZM731.4 149.6L732.3 147.5L740.6 142.7L739.7 144.8ZM732.3 147.5L732.9 145.1L741.2 140.3L740.6 142.7ZM732.9 145.1L733.1 142.3L741.4 137.5L741.2 140.3ZM741.2 140.3L740.6 142.7L739.7 144.8L738.4 146.5L736.8 147.7L734.9 148.5L732.8 148.8L730.5 148.6L728.1 147.8L725.6 146.6L723.1 145.0L720.7 142.9L718.4 140.5L716.3 137.8L714.4 134.8L712.8 131.7L711.5 128.6L710.6 125.4L710.0 122.2L709.8 119.3L710.0 116.5L710.6 114.1L711.5 112.0L712.8 110.3L714.4 109.1L716.3 108.3L718.4 108.0L720.7 108.2L723.1 109.0L725.6 110.2L728.1 111.8L730.5 113.9L732.8 116.3L734.9 119.0L736.8 122.0L738.4 125.1L739.7 128.2L740.6 131.4L741.2 134.6L741.4 137.5ZM732.9 145.1L732.3 147.5L731.4 149.6L730.1 151.3L728.5 152.5L726.6 153.3L724.5 153.6L722.2 153.4L719.8 152.6L717.3 151.4L714.8 149.8L712.4 147.7L710.1 145.3L708.0 142.6L706.1 139.6L704.5 136.5L703.2 133.4L702.3 130.2L701.7 127.0L701.5 124.1L701.7 121.3L702.3 118.9L703.2 116.8L704.5 115.1L706.1 113.9L708.0 113.1L710.1 112.8L712.4 113.0L714.8 113.8L717.3 115.0L719.8 116.6L722.2 118.7L724.5 121.1L726.6 123.8L728.5 126.8L730.1 129.9L731.4 133.0L732.3 136.2L732.9 139.4L733.1 142.3Z" fill="#fff" stroke="none" fill-rule="nonzero"/>
<path d="M733.1 142.3L732.9 139.4L732.3 136.2L731.4 133.0L730.1 129.9L728.5 126.8L726.6 123.8L724.5 121.1L722.2 118.7L719.8 116.6L717.3 115.0L714.8 113.8L712.4 113.0L710.1 112.8L708.0 113.1L706.1 113.9L704.5 115.1L703.2 116.8L702.3 118.9L701.7 121.3L701.5 124.1L701.7 127.0L702.3 130.2L703.2 133.4L704.5 136.5L706.1 139.6L708.0 142.6L710.1 145.3L712.4 147.7L714.8 149.8L717.3 151.4L719.8 152.6L722.2 153.4L724.5 153.6L726.6 153.3L728.5 152.5L730.1 151.3L731.4 149.6L732.3 147.5L732.9 145.1Z" fill="#fff" stroke="#000" stroke-width="1.1" stroke-linejoin="round"/>
<path d="M739.0 145.5L738.7 141.4L737.9 137.2L736.6 132.9L734.9 128.5L732.7 124.3L730.1 120.3L727.2 116.6L724.1 113.3L720.9 110.5L717.5 108.3L714.1 106.6L710.9 105.7L707.7 105.4L704.9 105.7L702.3 106.8L700.1 108.5L698.4 110.8L697.1 113.6L696.3 117.0L696.0 120.7L696.3 124.7L697.1 129.0L698.4 133.3L700.1 137.6L702.3 141.8L704.9 145.9L707.7 149.5L710.9 152.8L714.1 155.6L717.5 157.9L720.9 159.5L724.1 160.5L727.2 160.8L730.1 160.4L732.7 159.4L734.9 157.7L736.6 155.4L737.9 152.5L738.7 149.2ZM702.3 106.8L698.2 109.1M732.7 159.4L728.6 161.7" fill="none" stroke="#000" stroke-width="3.0" stroke-linejoin="round" stroke-linecap="round"/>
<path d="M734.9 147.8L734.6 143.8L738.7 141.4L739.0 145.5ZM734.6 143.8L733.8 139.6L737.9 137.2L738.7 141.4ZM733.8 139.6L732.5 135.2L736.6 132.9L737.9 137.2ZM732.5 135.2L730.8 130.9L734.9 128.5L736.6 132.9ZM730.8 130.9L728.6 126.7L732.7 124.3L734.9 128.5ZM728.6 126.7L726.0 122.7L730.1 120.3L732.7 124.3ZM726.0 122.7L723.2 119.0L727.2 116.6L730.1 120.3ZM723.2 119.0L720.0 115.7L724.1 113.3L727.2 116.6ZM720.0 115.7L716.8 112.9L720.9 110.5L724.1 113.3ZM716.8 112.9L713.4 110.6L717.5 108.3L720.9 110.5ZM713.4 110.6L710.0 109.0L714.1 106.6L717.5 108.3ZM710.0 109.0L706.8 108.0L710.9 105.7L714.1 106.6ZM706.8 108.0L703.7 107.7L707.7 105.4L710.9 105.7ZM703.7 107.7L700.8 108.1L704.9 105.7L707.7 105.4ZM700.8 108.1L698.2 109.1L702.3 106.8L704.9 105.7ZM702.3 106.8L700.1 108.5L696.0 110.8L698.2 109.1ZM700.1 108.5L698.4 110.8L694.3 113.1L696.0 110.8ZM698.4 110.8L697.1 113.6L693.0 116.0L694.3 113.1ZM697.1 113.6L696.3 117.0L692.2 119.3L693.0 116.0ZM696.3 117.0L696.0 120.7L691.9 123.0L692.2 119.3ZM696.0 120.7L696.3 124.7L692.2 127.1L691.9 123.0ZM696.3 124.7L697.1 129.0L693.0 131.3L692.2 127.1ZM697.1 129.0L698.4 133.3L694.3 135.7L693.0 131.3ZM698.4 133.3L700.1 137.6L696.0 140.0L694.3 135.7ZM700.1 137.6L702.3 141.8L698.2 144.2L696.0 140.0ZM702.3 141.8L704.9 145.9L700.8 148.2L698.2 144.2ZM704.9 145.9L707.7 149.5L703.7 151.9L700.8 148.2ZM707.7 149.5L710.9 152.8L706.8 155.2L703.7 151.9ZM710.9 152.8L714.1 155.6L710.0 158.0L706.8 155.2ZM714.1 155.6L717.5 157.9L713.4 160.2L710.0 158.0ZM717.5 157.9L720.9 159.5L716.8 161.9L713.4 160.2ZM720.9 159.5L724.1 160.5L720.0 162.9L716.8 161.9ZM724.1 160.5L727.2 160.8L723.2 163.2L720.0 162.9ZM727.2 160.8L730.1 160.4L726.0 162.8L723.2 163.2ZM730.1 160.4L732.7 159.4L728.6 161.7L726.0 162.8ZM728.6 161.7L730.8 160.0L734.9 157.7L732.7 159.4ZM730.8 160.0L732.5 157.7L736.6 155.4L734.9 157.7ZM732.5 157.7L733.8 154.9L737.9 152.5L736.6 155.4ZM733.8 154.9L734.6 151.6L738.7 149.2L737.9 152.5ZM734.6 151.6L734.9 147.8L739.0 145.5L738.7 149.2ZM738.7 149.2L737.9 152.5L736.6 155.4L734.9 157.7L732.7 159.4L730.1 160.4L727.2 160.8L724.1 160.5L720.9 159.5L717.5 157.9L714.1 155.6L710.9 152.8L707.7 149.5L704.9 145.9L702.3 141.8L700.1 137.6L698.4 133.3L697.1 129.0L696.3 124.7L696.0 120.7L696.3 117.0L697.1 113.6L698.4 110.8L700.1 108.5L702.3 106.8L704.9 105.7L707.7 105.4L710.9 105.7L714.1 106.6L717.5 108.3L720.9 110.5L724.1 113.3L727.2 116.6L730.1 120.3L732.7 124.3L734.9 128.5L736.6 132.9L737.9 137.2L738.7 141.4L739.0 145.5ZM734.6 151.6L733.8 154.9L732.5 157.7L730.8 160.0L728.6 161.7L726.0 162.8L723.2 163.2L720.0 162.9L716.8 161.9L713.4 160.2L710.0 158.0L706.8 155.2L703.7 151.9L700.8 148.2L698.2 144.2L696.0 140.0L694.3 135.7L693.0 131.3L692.2 127.1L691.9 123.0L692.2 119.3L693.0 116.0L694.3 113.1L696.0 110.8L698.2 109.1L700.8 108.1L703.7 107.7L706.8 108.0L710.0 109.0L713.4 110.6L716.8 112.9L720.0 115.7L723.2 119.0L726.0 122.7L728.6 126.7L730.8 130.9L732.5 135.2L733.8 139.6L734.6 143.8L734.9 147.8Z" fill="#fff" stroke="none" fill-rule="nonzero"/>
<path d="M734.9 147.8L734.6 143.8L733.8 139.6L732.5 135.2L730.8 130.9L728.6 126.7L726.0 122.7L723.2 119.0L720.0 115.7L716.8 112.9L713.4 110.6L710.0 109.0L706.8 108.0L703.7 107.7L700.8 108.1L698.2 109.1L696.0 110.8L694.3 113.1L693.0 116.0L692.2 119.3L691.9 123.0L692.2 127.1L693.0 131.3L694.3 135.7L696.0 140.0L698.2 144.2L700.8 148.2L703.7 151.9L706.8 155.2L710.0 158.0L713.4 160.2L716.8 161.9L720.0 162.9L723.2 163.2L726.0 162.8L728.6 161.7L730.8 160.0L732.5 157.7L733.8 154.9L734.6 151.6Z" fill="#fff" stroke="#000" stroke-width="1.5" stroke-linejoin="round"/>
<path d="M734.9 147.8L734.6 143.8L733.8 139.6L732.5 135.2L730.8 130.9L728.6 126.7L726.0 122.7L723.2 119.0L720.0 115.7L716.8 112.9L713.4 110.6L710.0 109.0L706.8 108.0L703.7 107.7L700.8 108.1L698.2 109.1L696.0 110.8L694.3 113.1L693.0 116.0L692.2 119.3L691.9 123.0L692.2 127.1L693.0 131.3L694.3 135.7L696.0 140.0L698.2 144.2L700.8 148.2L703.7 151.9L706.8 155.2L710.0 158.0L713.4 160.2L716.8 161.9L720.0 162.9L723.2 163.2L726.0 162.8L728.6 161.7L730.8 160.0L732.5 157.7L733.8 154.9L734.6 151.6ZM698.2 109.1L694.3 111.4M728.6 161.7L724.7 164.0" fill="none" stroke="#000" stroke-width="3.0" stroke-linejoin="round" stroke-linecap="round"/>
<path d="M731.0 150.1L730.7 146.0L734.6 143.8L734.9 147.8ZM730.7 146.0L730.0 141.8L733.8 139.6L734.6 143.8ZM730.0 141.8L728.7 137.5L732.5 135.2L733.8 139.6ZM728.7 137.5L726.9 133.1L730.8 130.9L732.5 135.2ZM726.9 133.1L724.7 128.9L728.6 126.7L730.8 130.9ZM724.7 128.9L722.2 124.9L726.0 122.7L728.6 126.7ZM722.2 124.9L719.3 121.2L723.2 119.0L726.0 122.7ZM719.3 121.2L716.2 117.9L720.0 115.7L723.2 119.0ZM716.2 117.9L712.9 115.1L716.8 112.9L720.0 115.7ZM712.9 115.1L709.5 112.9L713.4 110.6L716.8 112.9ZM709.5 112.9L706.2 111.2L710.0 109.0L713.4 110.6ZM706.2 111.2L702.9 110.3L706.8 108.0L710.0 109.0ZM702.9 110.3L699.8 110.0L703.7 107.7L706.8 108.0ZM699.8 110.0L696.9 110.3L700.8 108.1L703.7 107.7ZM696.9 110.3L694.3 111.4L698.2 109.1L700.8 108.1ZM698.2 109.1L696.0 110.8L692.2 113.1L694.3 111.4ZM696.0 110.8L694.3 113.1L690.4 115.4L692.2 113.1ZM694.3 113.1L693.0 116.0L689.1 118.2L690.4 115.4ZM693.0 116.0L692.2 119.3L688.3 121.6L689.1 118.2ZM692.2 119.3L691.9 123.0L688.1 125.3L688.3 121.6ZM691.9 123.0L692.2 127.1L688.3 129.3L688.1 125.3ZM692.2 127.1L693.0 131.3L689.1 133.6L688.3 129.3ZM693.0 131.3L694.3 135.7L690.4 137.9L689.1 133.6ZM694.3 135.7L696.0 140.0L692.2 142.2L690.4 137.9ZM696.0 140.0L698.2 144.2L694.3 146.4L692.2 142.2ZM698.2 144.2L700.8 148.2L696.9 150.5L694.3 146.4ZM700.8 148.2L703.7 151.9L699.8 154.1L696.9 150.5ZM703.7 151.9L706.8 155.2L702.9 157.4L699.8 154.1ZM706.8 155.2L710.0 158.0L706.2 160.2L702.9 157.4ZM710.0 158.0L713.4 160.2L709.5 162.5L706.2 160.2ZM713.4 160.2L716.8 161.9L712.9 164.1L709.5 162.5ZM716.8 161.9L720.0 162.9L716.2 165.1L712.9 164.1ZM720.0 162.9L723.2 163.2L719.3 165.4L716.2 165.1ZM723.2 163.2L726.0 162.8L722.2 165.0L719.3 165.4ZM726.0 162.8L728.6 161.7L724.7 164.0L722.2 165.0ZM724.7 164.0L726.9 162.3L730.8 160.0L728.6 161.7ZM726.9 162.3L728.7 160.0L732.5 157.7L730.8 160.0ZM728.7 160.0L730.0 157.1L733.8 154.9L732.5 157.7ZM730.0 157.1L730.7 153.8L734.6 151.6L733.8 154.9ZM730.7 153.8L731.0 150.1L734.9 147.8L734.6 151.6ZM734.6 151.6L733.8 154.9L732.5 157.7L730.8 160.0L728.6 161.7L726.0 162.8L723.2 163.2L720.0 162.9L716.8 161.9L713.4 160.2L710.0 158.0L706.8 155.2L703.7 151.9L700.8 148.2L698.2 144.2L696.0 140.0L694.3 135.7L693.0 131.3L692.2 127.1L691.9 123.0L692.2 119.3L693.0 116.0L694.3 113.1L696.0 110.8L698.2 109.1L700.8 108.1L703.7 107.7L706.8 108.0L710.0 109.0L713.4 110.6L716.8 112.9L720.0 115.7L723.2 119.0L726.0 122.7L728.6 126.7L730.8 130.9L732.5 135.2L733.8 139.6L734.6 143.8L734.9 147.8ZM730.7 153.8L730.0 157.1L728.7 160.0L726.9 162.3L724.7 164.0L722.2 165.0L719.3 165.4L716.2 165.1L712.9 164.1L709.5 162.5L706.2 160.2L702.9 157.4L699.8 154.1L696.9 150.5L694.3 146.4L692.2 142.2L690.4 137.9L689.1 133.6L688.3 129.3L688.1 125.3L688.3 121.6L689.1 118.2L690.4 115.4L692.2 113.1L694.3 111.4L696.9 110.3L699.8 110.0L702.9 110.3L706.2 111.2L709.5 112.9L712.9 115.1L716.2 117.9L719.3 121.2L722.2 124.9L724.7 128.9L726.9 133.1L728.7 137.5L730.0 141.8L730.7 146.0L731.0 150.1Z" fill="#fff" stroke="none" fill-rule="nonzero"/>
<path d="M731.0 150.1L730.7 146.0L730.0 141.8L728.7 137.5L726.9 133.1L724.7 128.9L722.2 124.9L719.3 121.2L716.2 117.9L712.9 115.1L709.5 112.9L706.2 111.2L702.9 110.3L699.8 110.0L696.9 110.3L694.3 111.4L692.2 113.1L690.4 115.4L689.1 118.2L688.3 121.6L688.1 125.3L688.3 129.3L689.1 133.6L690.4 137.9L692.2 142.2L694.3 146.4L696.9 150.5L699.8 154.1L702.9 157.4L706.2 160.2L709.5 162.5L712.9 164.1L716.2 165.1L719.3 165.4L722.2 165.0L724.7 164.0L726.9 162.3L728.7 160.0L730.0 157.1L730.7 153.8Z" fill="#fff" stroke="#000" stroke-width="1.5" stroke-linejoin="round"/>
<path d="M731.0 150.1L730.7 146.0L730.0 141.8L728.7 137.5L726.9 133.1L724.7 128.9L722.2 124.9L719.3 121.2L716.2 117.9L712.9 115.1L709.5 112.9L706.2 111.2L702.9 110.3L699.8 110.0L696.9 110.3L694.3 111.4L692.2 113.1L690.4 115.4L689.1 118.2L688.3 121.6L688.1 125.3L688.3 129.3L689.1 133.6L690.4 137.9L692.2 142.2L694.3 146.4L696.9 150.5L699.8 154.1L702.9 157.4L706.2 160.2L709.5 162.5L712.9 164.1L716.2 165.1L719.3 165.4L722.2 165.0L724.7 164.0L726.9 162.3L728.7 160.0L730.0 157.1L730.7 153.8ZM694.3 111.4L690.5 113.6M724.7 164.0L720.9 166.2" fill="none" stroke="#000" stroke-width="3.0" stroke-linejoin="round" stroke-linecap="round"/>
<path d="M727.2 152.3L726.9 148.2L730.7 146.0L731.0 150.1ZM726.9 148.2L726.1 144.0L730.0 141.8L730.7 146.0ZM726.1 144.0L724.9 139.7L728.7 137.5L730.0 141.8ZM724.9 139.7L723.1 135.3L726.9 133.1L728.7 137.5ZM723.1 135.3L720.9 131.1L724.7 128.9L726.9 133.1ZM720.9 131.1L718.3 127.1L722.2 124.9L724.7 128.9ZM718.3 127.1L715.5 123.4L719.3 121.2L722.2 124.9ZM715.5 123.4L712.4 120.1L716.2 117.9L719.3 121.2ZM712.4 120.1L709.1 117.3L712.9 115.1L716.2 117.9ZM709.1 117.3L705.7 115.1L709.5 112.9L712.9 115.1ZM705.7 115.1L702.4 113.4L706.2 111.2L709.5 112.9ZM702.4 113.4L699.1 112.5L702.9 110.3L706.2 111.2ZM699.1 112.5L696.0 112.2L699.8 110.0L702.9 110.3ZM696.0 112.2L693.1 112.5L696.9 110.3L699.8 110.0ZM693.1 112.5L690.5 113.6L694.3 111.4L696.9 110.3ZM694.3 111.4L692.2 113.1L688.3 115.3L690.5 113.6ZM692.2 113.1L690.4 115.4L686.6 117.6L688.3 115.3ZM690.4 115.4L689.1 118.2L685.3 120.4L686.6 117.6ZM689.1 118.2L688.3 121.6L684.5 123.8L685.3 120.4ZM688.3 121.6L688.1 125.3L684.2 127.5L684.5 123.8ZM688.1 125.3L688.3 129.3L684.5 131.5L684.2 127.5ZM688.3 129.3L689.1 133.6L685.3 135.8L684.5 131.5ZM689.1 133.6L690.4 137.9L686.6 140.1L685.3 135.8ZM690.4 137.9L692.2 142.2L688.3 144.4L686.6 140.1ZM692.2 142.2L694.3 146.4L690.5 148.6L688.3 144.4ZM694.3 146.4L696.9 150.5L693.1 152.7L690.5 148.6ZM696.9 150.5L699.8 154.1L696.0 156.3L693.1 152.7ZM699.8 154.1L702.9 157.4L699.1 159.6L696.0 156.3ZM702.9 157.4L706.2 160.2L702.4 162.4L699.1 159.6ZM706.2 160.2L709.5 162.5L705.7 164.7L702.4 162.4ZM709.5 162.5L712.9 164.1L709.1 166.3L705.7 164.7ZM712.9 164.1L716.2 165.1L712.4 167.3L709.1 166.3ZM716.2 165.1L719.3 165.4L715.5 167.6L712.4 167.3ZM719.3 165.4L722.2 165.0L718.3 167.2L715.5 167.6ZM722.2 165.0L724.7 164.0L720.9 166.2L718.3 167.2ZM720.9 166.2L723.1 164.5L726.9 162.3L724.7 164.0ZM723.1 164.5L724.9 162.2L728.7 160.0L726.9 162.3ZM724.9 162.2L726.1 159.3L730.0 157.1L728.7 160.0ZM726.1 159.3L726.9 156.0L730.7 153.8L730.0 157.1ZM726.9 156.0L727.2 152.3L731.0 150.1L730.7 153.8ZM730.7 153.8L730.0 157.1L728.7 160.0L726.9 162.3L724.7 164.0L722.2 165.0L719.3 165.4L716.2 165.1L712.9 164.1L709.5 162.5L706.2 160.2L702.9 157.4L699.8 154.1L696.9 150.5L694.3 146.4L692.2 142.2L690.4 137.9L689.1 133.6L688.3 129.3L688.1 125.3L688.3 121.6L689.1 118.2L690.4 115.4L692.2 113.1L694.3 111.4L696.9 110.3L699.8 110.0L702.9 110.3L706.2 111.2L709.5 112.9L712.9 115.1L716.2 117.9L719.3 121.2L722.2 124.9L724.7 128.9L726.9 133.1L728.7 137.5L730.0 141.8L730.7 146.0L731.0 150.1ZM726.9 156.0L726.1 159.3L724.9 162.2L723.1 164.5L720.9 166.2L718.3 167.2L715.5 167.6L712.4 167.3L709.1 166.3L705.7 164.7L702.4 162.4L699.1 159.6L696.0 156.3L693.1 152.7L690.5 148.6L688.3 144.4L686.6 140.1L685.3 135.8L684.5 131.5L684.2 127.5L684.5 123.8L685.3 120.4L686.6 117.6L688.3 115.3L690.5 113.6L693.1 112.5L696.0 112.2L699.1 112.5L702.4 113.4L705.7 115.1L709.1 117.3L712.4 120.1L715.5 123.4L718.3 127.1L720.9 131.1L723.1 135.3L724.9 139.7L726.1 144.0L726.9 148.2L727.2 152.3Z" fill="#fff" stroke="none" fill-rule="nonzero"/>
<path d="M727.2 152.3L726.9 148.2L726.1 144.0L724.9 139.7L723.1 135.3L720.9 131.1L718.3 127.1L715.5 123.4L712.4 120.1L709.1 117.3L705.7 115.1L702.4 113.4L699.1 112.5L696.0 112.2L693.1 112.5L690.5 113.6L688.3 115.3L686.6 117.6L685.3 120.4L684.5 123.8L684.2 127.5L684.5 131.5L685.3 135.8L686.6 140.1L688.3 144.4L690.5 148.6L693.1 152.7L696.0 156.3L699.1 159.6L702.4 162.4L705.7 164.7L709.1 166.3L712.4 167.3L715.5 167.6L718.3 167.2L720.9 166.2L723.1 164.5L724.9 162.2L726.1 159.3L726.9 156.0Z" fill="#fff" stroke="#000" stroke-width="1.5" stroke-linejoin="round"/>
<path d="M727.2 152.3L726.9 148.2L726.1 144.0L724.9 139.7L723.1 135.3L720.9 131.1L718.3 127.1L715.5 123.4L712.4 120.1L709.1 117.3L705.7 115.1L702.4 113.4L699.1 112.5L696.0 112.2L693.1 112.5L690.5 113.6L688.3 115.3L686.6 117.6L685.3 120.4L684.5 123.8L684.2 127.5L684.5 131.5L685.3 135.8L686.6 140.1L688.3 144.4L690.5 148.6L693.1 152.7L696.0 156.3L699.1 159.6L702.4 162.4L705.7 164.7L709.1 166.3L712.4 167.3L715.5 167.6L718.3 167.2L720.9 166.2L723.1 164.5L724.9 162.2L726.1 159.3L726.9 156.0ZM690.5 113.6L686.6 115.9M720.9 166.2L717.0 168.5" fill="none" stroke="#000" stroke-width="3.0" stroke-linejoin="round" stroke-linecap="round"/>
<path d="M723.2 154.6L723.0 150.5L726.9 148.2L727.2 152.3ZM723.0 150.5L722.2 146.3L726.1 144.0L726.9 148.2ZM722.2 146.3L720.9 141.9L724.9 139.7L726.1 144.0ZM720.9 141.9L719.1 137.6L723.1 135.3L724.9 139.7ZM719.1 137.6L717.0 133.4L720.9 131.1L723.1 135.3ZM717.0 133.4L714.4 129.4L718.3 127.1L720.9 131.1ZM714.4 129.4L711.5 125.7L715.5 123.4L718.3 127.1ZM711.5 125.7L708.4 122.4L712.4 120.1L715.5 123.4ZM708.4 122.4L705.1 119.6L709.1 117.3L712.4 120.1ZM705.1 119.6L701.8 117.4L705.7 115.1L709.1 117.3ZM701.8 117.4L698.4 115.7L702.4 113.4L705.7 115.1ZM698.4 115.7L695.1 114.7L699.1 112.5L702.4 113.4ZM695.1 114.7L692.0 114.4L696.0 112.2L699.1 112.5ZM692.0 114.4L689.1 114.8L693.1 112.5L696.0 112.2ZM689.1 114.8L686.6 115.9L690.5 113.6L693.1 112.5ZM690.5 113.6L688.3 115.3L684.4 117.6L686.6 115.9ZM688.3 115.3L686.6 117.6L682.6 119.9L684.4 117.6ZM686.6 117.6L685.3 120.4L681.3 122.7L682.6 119.9ZM685.3 120.4L684.5 123.8L680.6 126.0L681.3 122.7ZM684.5 123.8L684.2 127.5L680.3 129.8L680.6 126.0ZM684.2 127.5L684.5 131.5L680.6 133.8L680.3 129.8ZM684.5 131.5L685.3 135.8L681.3 138.0L680.6 133.8ZM685.3 135.8L686.6 140.1L682.6 142.4L681.3 138.0ZM686.6 140.1L688.3 144.4L684.4 146.7L682.6 142.4ZM688.3 144.4L690.5 148.6L686.6 150.9L684.4 146.7ZM690.5 148.6L693.1 152.7L689.1 154.9L686.6 150.9ZM693.1 152.7L696.0 156.3L692.0 158.6L689.1 154.9ZM696.0 156.3L699.1 159.6L695.1 161.9L692.0 158.6ZM699.1 159.6L702.4 162.4L698.4 164.7L695.1 161.9ZM702.4 162.4L705.7 164.7L701.8 167.0L698.4 164.7ZM705.7 164.7L709.1 166.3L705.1 168.6L701.8 167.0ZM709.1 166.3L712.4 167.3L708.4 169.6L705.1 168.6ZM712.4 167.3L715.5 167.6L711.5 169.9L708.4 169.6ZM715.5 167.6L718.3 167.2L714.4 169.5L711.5 169.9ZM718.3 167.2L720.9 166.2L717.0 168.5L714.4 169.5ZM717.0 168.5L719.1 166.8L723.1 164.5L720.9 166.2ZM719.1 166.8L720.9 164.5L724.9 162.2L723.1 164.5ZM720.9 164.5L722.2 161.6L726.1 159.3L724.9 162.2ZM722.2 161.6L723.0 158.3L726.9 156.0L726.1 159.3ZM723.0 158.3L723.2 154.6L727.2 152.3L726.9 156.0ZM726.9 156.0L726.1 159.3L724.9 162.2L723.1 164.5L720.9 166.2L718.3 167.2L715.5 167.6L712.4 167.3L709.1 166.3L705.7 164.7L702.4 162.4L699.1 159.6L696.0 156.3L693.1 152.7L690.5 148.6L688.3 144.4L686.6 140.1L685.3 135.8L684.5 131.5L684.2 127.5L684.5 123.8L685.3 120.4L686.6 117.6L688.3 115.3L690.5 113.6L693.1 112.5L696.0 112.2L699.1 112.5L702.4 113.4L705.7 115.1L709.1 117.3L712.4 120.1L715.5 123.4L718.3 127.1L720.9 131.1L723.1 135.3L724.9 139.7L726.1 144.0L726.9 148.2L727.2 152.3ZM723.0 158.3L722.2 161.6L720.9 164.5L719.1 166.8L717.0 168.5L714.4 169.5L711.5 169.9L708.4 169.6L705.1 168.6L701.8 167.0L698.4 164.7L695.1 161.9L692.0 158.6L689.1 154.9L686.6 150.9L684.4 146.7L682.6 142.4L681.3 138.0L680.6 133.8L680.3 129.8L680.6 126.0L681.3 122.7L682.6 119.9L684.4 117.6L686.6 115.9L689.1 114.8L692.0 114.4L695.1 114.7L698.4 115.7L701.8 117.4L705.1 119.6L708.4 122.4L711.5 125.7L714.4 129.4L717.0 133.4L719.1 137.6L720.9 141.9L722.2 146.3L723.0 150.5L723.2 154.6Z" fill="#fff" stroke="none" fill-rule="nonzero"/>
<path d="M723.2 154.6L723.0 150.5L722.2 146.3L720.9 141.9L719.1 137.6L717.0 133.4L714.4 129.4L711.5 125.7L708.4 122.4L705.1 119.6L701.8 117.4L698.4 115.7L695.1 114.7L692.0 114.4L689.1 114.8L686.6 115.9L684.4 117.6L682.6 119.9L681.3 122.7L680.6 126.0L680.3 129.8L680.6 133.8L681.3 138.0L682.6 142.4L684.4 146.7L686.6 150.9L689.1 154.9L692.0 158.6L695.1 161.9L698.4 164.7L701.8 167.0L705.1 168.6L708.4 169.6L711.5 169.9L714.4 169.5L717.0 168.5L719.1 166.8L720.9 164.5L722.2 161.6L723.0 158.3Z" fill="#fff" stroke="#000" stroke-width="1.5" stroke-linejoin="round"/>
<path d="M723.2 154.6L723.0 150.5L722.2 146.3L720.9 141.9L719.1 137.6L717.0 133.4L714.4 129.4L711.5 125.7L708.4 122.4L705.1 119.6L701.8 117.4L698.4 115.7L695.1 114.7L692.0 114.4L689.1 114.8L686.6 115.9L684.4 117.6L682.6 119.9L681.3 122.7L680.6 126.0L680.3 129.8L680.6 133.8L681.3 138.0L682.6 142.4L684.4 146.7L686.6 150.9L689.1 154.9L692.0 158.6L695.1 161.9L698.4 164.7L701.8 167.0L705.1 168.6L708.4 169.6L711.5 169.9L714.4 169.5L717.0 168.5L719.1 166.8L720.9 164.5L722.2 161.6L723.0 158.3ZM686.6 115.9L682.8 118.0M717.0 168.5L713.2 170.6" fill="none" stroke="#000" stroke-width="3.0" stroke-linejoin="round" stroke-linecap="round"/>
<path d="M719.5 156.7L719.2 152.7L723.0 150.5L723.2 154.6ZM719.2 152.7L718.5 148.4L722.2 146.3L723.0 150.5ZM718.5 148.4L717.2 144.1L720.9 141.9L722.2 146.3ZM717.2 144.1L715.4 139.8L719.1 137.6L720.9 141.9ZM715.4 139.8L713.2 135.6L717.0 133.4L719.1 137.6ZM713.2 135.6L710.7 131.5L714.4 129.4L717.0 133.4ZM710.7 131.5L707.8 127.9L711.5 125.7L714.4 129.4ZM707.8 127.9L704.7 124.6L708.4 122.4L711.5 125.7ZM704.7 124.6L701.4 121.8L705.1 119.6L708.4 122.4ZM701.4 121.8L698.0 119.5L701.8 117.4L705.1 119.6ZM698.0 119.5L694.7 117.9L698.4 115.7L701.8 117.4ZM694.7 117.9L691.4 116.9L695.1 114.7L698.4 115.7ZM691.4 116.9L688.3 116.6L692.0 114.4L695.1 114.7ZM688.3 116.6L685.4 117.0L689.1 114.8L692.0 114.4ZM685.4 117.0L682.8 118.0L686.6 115.9L689.1 114.8ZM686.6 115.9L684.4 117.6L680.7 119.7L682.8 118.0ZM684.4 117.6L682.6 119.9L678.9 122.0L680.7 119.7ZM682.6 119.9L681.3 122.7L677.6 124.9L678.9 122.0ZM681.3 122.7L680.6 126.0L676.8 128.2L677.6 124.9ZM680.6 126.0L680.3 129.8L676.5 131.9L676.8 128.2ZM680.3 129.8L680.6 133.8L676.8 136.0L676.5 131.9ZM680.6 133.8L681.3 138.0L677.6 140.2L676.8 136.0ZM681.3 138.0L682.6 142.4L678.9 144.5L677.6 140.2ZM682.6 142.4L684.4 146.7L680.7 148.9L678.9 144.5ZM684.4 146.7L686.6 150.9L682.8 153.1L680.7 148.9ZM686.6 150.9L689.1 154.9L685.4 157.1L682.8 153.1ZM689.1 154.9L692.0 158.6L688.3 160.8L685.4 157.1ZM692.0 158.6L695.1 161.9L691.4 164.1L688.3 160.8ZM695.1 161.9L698.4 164.7L694.7 166.9L691.4 164.1ZM698.4 164.7L701.8 167.0L698.0 169.1L694.7 166.9ZM701.8 167.0L705.1 168.6L701.4 170.8L698.0 169.1ZM705.1 168.6L708.4 169.6L704.7 171.7L701.4 170.8ZM708.4 169.6L711.5 169.9L707.8 172.0L704.7 171.7ZM711.5 169.9L714.4 169.5L710.7 171.7L707.8 172.0ZM714.4 169.5L717.0 168.5L713.2 170.6L710.7 171.7ZM713.2 170.6L715.4 168.9L719.1 166.8L717.0 168.5ZM715.4 168.9L717.2 166.6L720.9 164.5L719.1 166.8ZM717.2 166.6L718.5 163.8L722.2 161.6L720.9 164.5ZM718.5 163.8L719.2 160.4L723.0 158.3L722.2 161.6ZM719.2 160.4L719.5 156.7L723.2 154.6L723.0 158.3ZM723.0 158.3L722.2 161.6L720.9 164.5L719.1 166.8L717.0 168.5L714.4 169.5L711.5 169.9L708.4 169.6L705.1 168.6L701.8 167.0L698.4 164.7L695.1 161.9L692.0 158.6L689.1 154.9L686.6 150.9L684.4 146.7L682.6 142.4L681.3 138.0L680.6 133.8L680.3 129.8L680.6 126.0L681.3 122.7L682.6 119.9L684.4 117.6L686.6 115.9L689.1 114.8L692.0 114.4L695.1 114.7L698.4 115.7L701.8 117.4L705.1 119.6L708.4 122.4L711.5 125.7L714.4 129.4L717.0 133.4L719.1 137.6L720.9 141.9L722.2 146.3L723.0 150.5L723.2 154.6ZM719.2 160.4L718.5 163.8L717.2 166.6L715.4 168.9L713.2 170.6L710.7 171.7L707.8 172.0L704.7 171.7L701.4 170.8L698.0 169.1L694.7 166.9L691.4 164.1L688.3 160.8L685.4 157.1L682.8 153.1L680.7 148.9L678.9 144.5L677.6 140.2L676.8 136.0L676.5 131.9L676.8 128.2L677.6 124.9L678.9 122.0L680.7 119.7L682.8 118.0L685.4 117.0L688.3 116.6L691.4 116.9L694.7 117.9L698.0 119.5L701.4 121.8L704.7 124.6L707.8 127.9L710.7 131.5L713.2 135.6L715.4 139.8L717.2 144.1L718.5 148.4L719.2 152.7L719.5 156.7Z" fill="#fff" stroke="none" fill-rule="nonzero"/>
<path d="M719.5 156.7L719.2 152.7L718.5 148.4L717.2 144.1L715.4 139.8L713.2 135.6L710.7 131.5L707.8 127.9L704.7 124.6L701.4 121.8L698.0 119.5L694.7 117.9L691.4 116.9L688.3 116.6L685.4 117.0L682.8 118.0L680.7 119.7L678.9 122.0L677.6 124.9L676.8 128.2L676.5 131.9L676.8 136.0L677.6 140.2L678.9 144.5L680.7 148.9L682.8 153.1L685.4 157.1L688.3 160.8L691.4 164.1L694.7 166.9L698.0 169.1L701.4 170.8L704.7 171.7L707.8 172.0L710.7 171.7L713.2 170.6L715.4 168.9L717.2 166.6L718.5 163.8L719.2 160.4Z" fill="#fff" stroke="#000" stroke-width="1.5" stroke-linejoin="round"/>
<path d="M719.5 156.7L719.2 152.7L718.5 148.4L717.2 144.1L715.4 139.8L713.2 135.6L710.7 131.5L707.8 127.9L704.7 124.6L701.4 121.8L698.0 119.5L694.7 117.9L691.4 116.9L688.3 116.6L685.4 117.0L682.8 118.0L680.7 119.7L678.9 122.0L677.6 124.9L676.8 128.2L676.5 131.9L676.8 136.0L677.6 140.2L678.9 144.5L680.7 148.9L682.8 153.1L685.4 157.1L688.3 160.8L691.4 164.1L694.7 166.9L698.0 169.1L701.4 170.8L704.7 171.7L707.8 172.0L710.7 171.7L713.2 170.6L715.4 168.9L717.2 166.6L718.5 163.8L719.2 160.4ZM682.8 118.0L679.0 120.3M713.2 170.6L709.3 172.9" fill="none" stroke="#000" stroke-width="3.0" stroke-linejoin="round" stroke-linecap="round"/>
<path d="M715.6 159.0L715.4 154.9L719.2 152.7L719.5 156.7ZM715.4 154.9L714.6 150.7L718.5 148.4L719.2 152.7ZM714.6 150.7L713.3 146.3L717.2 144.1L718.5 148.4ZM713.3 146.3L711.5 142.0L715.4 139.8L717.2 144.1ZM711.5 142.0L709.3 137.8L713.2 135.6L715.4 139.8ZM709.3 137.8L706.8 133.8L710.7 131.5L713.2 135.6ZM706.8 133.8L703.9 130.1L707.8 127.9L710.7 131.5ZM703.9 130.1L700.8 126.8L704.7 124.6L707.8 127.9ZM700.8 126.8L697.5 124.0L701.4 121.8L704.7 124.6ZM697.5 124.0L694.1 121.8L698.0 119.5L701.4 121.8ZM694.1 121.8L690.8 120.1L694.7 117.9L698.0 119.5ZM690.8 120.1L687.5 119.1L691.4 116.9L694.7 117.9ZM687.5 119.1L684.4 118.8L688.3 116.6L691.4 116.9ZM684.4 118.8L681.5 119.2L685.4 117.0L688.3 116.6ZM681.5 119.2L679.0 120.3L682.8 118.0L685.4 117.0ZM682.8 118.0L680.7 119.7L676.8 122.0L679.0 120.3ZM680.7 119.7L678.9 122.0L675.0 124.3L676.8 122.0ZM678.9 122.0L677.6 124.9L673.7 127.1L675.0 124.3ZM677.6 124.9L676.8 128.2L672.9 130.4L673.7 127.1ZM676.8 128.2L676.5 131.9L672.7 134.2L672.9 130.4ZM676.5 131.9L676.8 136.0L672.9 138.2L672.7 134.2ZM676.8 136.0L677.6 140.2L673.7 142.4L672.9 138.2ZM677.6 140.2L678.9 144.5L675.0 146.8L673.7 142.4ZM678.9 144.5L680.7 148.9L676.8 151.1L675.0 146.8ZM680.7 148.9L682.8 153.1L679.0 155.3L676.8 151.1ZM682.8 153.1L685.4 157.1L681.5 159.3L679.0 155.3ZM685.4 157.1L688.3 160.8L684.4 163.0L681.5 159.3ZM688.3 160.8L691.4 164.1L687.5 166.3L684.4 163.0ZM691.4 164.1L694.7 166.9L690.8 169.1L687.5 166.3ZM694.7 166.9L698.0 169.1L694.1 171.4L690.8 169.1ZM698.0 169.1L701.4 170.8L697.5 173.0L694.1 171.4ZM701.4 170.8L704.7 171.7L700.8 174.0L697.5 173.0ZM704.7 171.7L707.8 172.0L703.9 174.3L700.8 174.0ZM707.8 172.0L710.7 171.7L706.8 173.9L703.9 174.3ZM710.7 171.7L713.2 170.6L709.3 172.9L706.8 173.9ZM709.3 172.9L711.5 171.2L715.4 168.9L713.2 170.6ZM711.5 171.2L713.3 168.9L717.2 166.6L715.4 168.9ZM713.3 168.9L714.6 166.0L718.5 163.8L717.2 166.6ZM714.6 166.0L715.4 162.7L719.2 160.4L718.5 163.8ZM715.4 162.7L715.6 159.0L719.5 156.7L719.2 160.4ZM719.2 160.4L718.5 163.8L717.2 166.6L715.4 168.9L713.2 170.6L710.7 171.7L707.8 172.0L704.7 171.7L701.4 170.8L698.0 169.1L694.7 166.9L691.4 164.1L688.3 160.8L685.4 157.1L682.8 153.1L680.7 148.9L678.9 144.5L677.6 140.2L676.8 136.0L676.5 131.9L676.8 128.2L677.6 124.9L678.9 122.0L680.7 119.7L682.8 118.0L685.4 117.0L688.3 116.6L691.4 116.9L694.7 117.9L698.0 119.5L701.4 121.8L704.7 124.6L707.8 127.9L710.7 131.5L713.2 135.6L715.4 139.8L717.2 144.1L718.5 148.4L719.2 152.7L719.5 156.7ZM715.4 162.7L714.6 166.0L713.3 168.9L711.5 171.2L709.3 172.9L706.8 173.9L703.9 174.3L700.8 174.0L697.5 173.0L694.1 171.4L690.8 169.1L687.5 166.3L684.4 163.0L681.5 159.3L679.0 155.3L676.8 151.1L675.0 146.8L673.7 142.4L672.9 138.2L672.7 134.2L672.9 130.4L673.7 127.1L675.0 124.3L676.8 122.0L679.0 120.3L681.5 119.2L684.4 118.8L687.5 119.1L690.8 120.1L694.1 121.8L697.5 124.0L700.8 126.8L703.9 130.1L706.8 133.8L709.3 137.8L711.5 142.0L713.3 146.3L714.6 150.7L715.4 154.9L715.6 159.0Z" fill="#fff" stroke="none" fill-rule="nonzero"/>
<path d="M715.6 159.0L715.4 154.9L714.6 150.7L713.3 146.3L711.5 142.0L709.3 137.8L706.8 133.8L703.9 130.1L700.8 126.8L697.5 124.0L694.1 121.8L690.8 120.1L687.5 119.1L684.4 118.8L681.5 119.2L679.0 120.3L676.8 122.0L675.0 124.3L673.7 127.1L672.9 130.4L672.7 134.2L672.9 138.2L673.7 142.4L675.0 146.8L676.8 151.1L679.0 155.3L681.5 159.3L684.4 163.0L687.5 166.3L690.8 169.1L694.1 171.4L697.5 173.0L700.8 174.0L703.9 174.3L706.8 173.9L709.3 172.9L711.5 171.2L713.3 168.9L714.6 166.0L715.4 162.7Z" fill="#fff" stroke="#000" stroke-width="1.5" stroke-linejoin="round"/>
<path d="M715.6 159.0L715.4 154.9L714.6 150.7L713.3 146.3L711.5 142.0L709.3 137.8L706.8 133.8L703.9 130.1L700.8 126.8L697.5 124.0L694.1 121.8L690.8 120.1L687.5 119.1L684.4 118.8L681.5 119.2L679.0 120.3L676.8 122.0L675.0 124.3L673.7 127.1L672.9 130.4L672.7 134.2L672.9 138.2L673.7 142.4L675.0 146.8L676.8 151.1L679.0 155.3L681.5 159.3L684.4 163.0L687.5 166.3L690.8 169.1L694.1 171.4L697.5 173.0L700.8 174.0L703.9 174.3L706.8 173.9L709.3 172.9L711.5 171.2L713.3 168.9L714.6 166.0L715.4 162.7ZM679.0 120.3L675.0 122.5M709.3 172.9L705.4 175.1" fill="none" stroke="#000" stroke-width="3.0" stroke-linejoin="round" stroke-linecap="round"/>
<path d="M711.7 161.2L711.4 157.2L715.4 154.9L715.6 159.0ZM711.4 157.2L710.6 153.0L714.6 150.7L715.4 154.9ZM710.6 153.0L709.3 148.6L713.3 146.3L714.6 150.7ZM709.3 148.6L707.6 144.3L711.5 142.0L713.3 146.3ZM707.6 144.3L705.4 140.1L709.3 137.8L711.5 142.0ZM705.4 140.1L702.8 136.1L706.8 133.8L709.3 137.8ZM702.8 136.1L699.9 132.4L703.9 130.1L706.8 133.8ZM699.9 132.4L696.8 129.1L700.8 126.8L703.9 130.1ZM696.8 129.1L693.6 126.3L697.5 124.0L700.8 126.8ZM693.6 126.3L690.2 124.0L694.1 121.8L697.5 124.0ZM690.2 124.0L686.8 122.4L690.8 120.1L694.1 121.8ZM686.8 122.4L683.6 121.4L687.5 119.1L690.8 120.1ZM683.6 121.4L680.4 121.1L684.4 118.8L687.5 119.1ZM680.4 121.1L677.6 121.5L681.5 119.2L684.4 118.8ZM677.6 121.5L675.0 122.5L679.0 120.3L681.5 119.2ZM679.0 120.3L676.8 122.0L672.8 124.2L675.0 122.5ZM676.8 122.0L675.0 124.3L671.1 126.5L672.8 124.2ZM675.0 124.3L673.7 127.1L669.8 129.4L671.1 126.5ZM673.7 127.1L672.9 130.4L669.0 132.7L669.8 129.4ZM672.9 130.4L672.7 134.2L668.7 136.4L669.0 132.7ZM672.7 134.2L672.9 138.2L669.0 140.5L668.7 136.4ZM672.9 138.2L673.7 142.4L669.8 144.7L669.0 140.5ZM673.7 142.4L675.0 146.8L671.1 149.1L669.8 144.7ZM675.0 146.8L676.8 151.1L672.8 153.4L671.1 149.1ZM676.8 151.1L679.0 155.3L675.0 157.6L672.8 153.4ZM679.0 155.3L681.5 159.3L677.6 161.6L675.0 157.6ZM681.5 159.3L684.4 163.0L680.4 165.3L677.6 161.6ZM684.4 163.0L687.5 166.3L683.6 168.6L680.4 165.3ZM687.5 166.3L690.8 169.1L686.8 171.4L683.6 168.6ZM690.8 169.1L694.1 171.4L690.2 173.6L686.8 171.4ZM694.1 171.4L697.5 173.0L693.6 175.3L690.2 173.6ZM697.5 173.0L700.8 174.0L696.8 176.3L693.6 175.3ZM700.8 174.0L703.9 174.3L699.9 176.6L696.8 176.3ZM703.9 174.3L706.8 173.9L702.8 176.2L699.9 176.6ZM706.8 173.9L709.3 172.9L705.4 175.1L702.8 176.2ZM705.4 175.1L707.6 173.4L711.5 171.2L709.3 172.9ZM707.6 173.4L709.3 171.1L713.3 168.9L711.5 171.2ZM709.3 171.1L710.6 168.3L714.6 166.0L713.3 168.9ZM710.6 168.3L711.4 165.0L715.4 162.7L714.6 166.0ZM711.4 165.0L711.7 161.2L715.6 159.0L715.4 162.7ZM715.4 162.7L714.6 166.0L713.3 168.9L711.5 171.2L709.3 172.9L706.8 173.9L703.9 174.3L700.8 174.0L697.5 173.0L694.1 171.4L690.8 169.1L687.5 166.3L684.4 163.0L681.5 159.3L679.0 155.3L676.8 151.1L675.0 146.8L673.7 142.4L672.9 138.2L672.7 134.2L672.9 130.4L673.7 127.1L675.0 124.3L676.8 122.0L679.0 120.3L681.5 119.2L684.4 118.8L687.5 119.1L690.8 120.1L694.1 121.8L697.5 124.0L700.8 126.8L703.9 130.1L706.8 133.8L709.3 137.8L711.5 142.0L713.3 146.3L714.6 150.7L715.4 154.9L715.6 159.0ZM711.4 165.0L710.6 168.3L709.3 171.1L707.6 173.4L705.4 175.1L702.8 176.2L699.9 176.6L696.8 176.3L693.6 175.3L690.2 173.6L686.8 171.4L683.6 168.6L680.4 165.3L677.6 161.6L675.0 157.6L672.8 153.4L671.1 149.1L669.8 144.7L669.0 140.5L668.7 136.4L669.0 132.7L669.8 129.4L671.1 126.5L672.8 124.2L675.0 122.5L677.6 121.5L680.4 121.1L683.6 121.4L686.8 122.4L690.2 124.0L693.6 126.3L696.8 129.1L699.9 132.4L702.8 136.1L705.4 140.1L707.6 144.3L709.3 148.6L710.6 153.0L711.4 157.2L711.7 161.2Z" fill="#fff" stroke="none" fill-rule="nonzero"/>
<path d="M711.7 161.2L711.4 157.2L710.6 153.0L709.3 148.6L707.6 144.3L705.4 140.1L702.8 136.1L699.9 132.4L696.8 129.1L693.6 126.3L690.2 124.0L686.8 122.4L683.6 121.4L680.4 121.1L677.6 121.5L675.0 122.5L672.8 124.2L671.1 126.5L669.8 129.4L669.0 132.7L668.7 136.4L669.0 140.5L669.8 144.7L671.1 149.1L672.8 153.4L675.0 157.6L677.6 161.6L680.4 165.3L683.6 168.6L686.8 171.4L690.2 173.6L693.6 175.3L696.8 176.3L699.9 176.6L702.8 176.2L705.4 175.1L707.6 173.4L709.3 171.1L710.6 168.3L711.4 165.0Z" fill="#fff" stroke="#000" stroke-width="1.5" stroke-linejoin="round"/>
<path d="M706.0 158.0L705.8 155.0L705.2 151.9L704.3 148.7L703.0 145.5L701.4 142.4L699.5 139.4L697.4 136.7L695.1 134.3L692.7 132.3L690.2 130.6L687.7 129.4L685.3 128.7L683.0 128.4L680.9 128.7L679.0 129.5L677.4 130.7L676.1 132.4L675.2 134.5L674.6 137.0L674.4 139.7L674.6 142.7L675.2 145.8L676.1 149.0L677.4 152.2L679.0 155.3L680.9 158.2L683.0 161.0L685.3 163.4L687.7 165.4L690.2 167.1L692.7 168.3L695.1 169.0L697.4 169.2L699.5 169.0L701.4 168.2L703.0 166.9L704.3 165.2L705.2 163.2L705.8 160.7ZM679.0 129.5L671.2 134.0M701.4 168.2L693.5 172.7" fill="none" stroke="#000" stroke-width="2.2" stroke-linejoin="round" stroke-linecap="round"/>
<path d="M698.2 162.5L698.0 159.5L705.8 155.0L706.0 158.0ZM698.0 159.5L697.4 156.4L705.2 151.9L705.8 155.0ZM697.4 156.4L696.4 153.2L704.3 148.7L705.2 151.9ZM696.4 153.2L695.1 150.0L703.0 145.5L704.3 148.7ZM695.1 150.0L693.5 146.9L701.4 142.4L703.0 145.5ZM693.5 146.9L691.7 144.0L699.5 139.4L701.4 142.4ZM691.7 144.0L689.5 141.2L697.4 136.7L699.5 139.4ZM689.5 141.2L687.3 138.8L695.1 134.3L697.4 136.7ZM687.3 138.8L684.8 136.8L692.7 132.3L695.1 134.3ZM684.8 136.8L682.4 135.1L690.2 130.6L692.7 132.3ZM682.4 135.1L679.9 133.9L687.7 129.4L690.2 130.6ZM679.9 133.9L677.5 133.2L685.3 128.7L687.7 129.4ZM677.5 133.2L675.2 133.0L683.0 128.4L685.3 128.7ZM675.2 133.0L673.1 133.2L680.9 128.7L683.0 128.4ZM673.1 133.2L671.2 134.0L679.0 129.5L680.9 128.7ZM679.0 129.5L677.4 130.7L669.6 135.3L671.2 134.0ZM677.4 130.7L676.1 132.4L668.3 137.0L669.6 135.3ZM676.1 132.4L675.2 134.5L667.3 139.0L668.3 137.0ZM675.2 134.5L674.6 137.0L666.8 141.5L667.3 139.0ZM674.6 137.0L674.4 139.7L666.6 144.2L666.8 141.5ZM674.4 139.7L674.6 142.7L666.8 147.2L666.6 144.2ZM674.6 142.7L675.2 145.8L667.3 150.3L666.8 147.2ZM675.2 145.8L676.1 149.0L668.3 153.5L667.3 150.3ZM676.1 149.0L677.4 152.2L669.6 156.7L668.3 153.5ZM677.4 152.2L679.0 155.3L671.2 159.8L669.6 156.7ZM679.0 155.3L680.9 158.2L673.1 162.8L671.2 159.8ZM680.9 158.2L683.0 161.0L675.2 165.5L673.1 162.8ZM683.0 161.0L685.3 163.4L677.5 167.9L675.2 165.5ZM685.3 163.4L687.7 165.4L679.9 169.9L677.5 167.9ZM687.7 165.4L690.2 167.1L682.4 171.6L679.9 169.9ZM690.2 167.1L692.7 168.3L684.8 172.8L682.4 171.6ZM692.7 168.3L695.1 169.0L687.3 173.5L684.8 172.8ZM695.1 169.0L697.4 169.2L689.5 173.8L687.3 173.5ZM697.4 169.2L699.5 169.0L691.7 173.5L689.5 173.8ZM699.5 169.0L701.4 168.2L693.5 172.7L691.7 173.5ZM693.5 172.7L695.1 171.5L703.0 166.9L701.4 168.2ZM695.1 171.5L696.4 169.8L704.3 165.2L703.0 166.9ZM696.4 169.8L697.4 167.7L705.2 163.2L704.3 165.2ZM697.4 167.7L698.0 165.2L705.8 160.7L705.2 163.2ZM698.0 165.2L698.2 162.5L706.0 158.0L705.8 160.7ZM705.8 160.7L705.2 163.2L704.3 165.2L703.0 166.9L701.4 168.2L699.5 169.0L697.4 169.2L695.1 169.0L692.7 168.3L690.2 167.1L687.7 165.4L685.3 163.4L683.0 161.0L680.9 158.2L679.0 155.3L677.4 152.2L676.1 149.0L675.2 145.8L674.6 142.7L674.4 139.7L674.6 137.0L675.2 134.5L676.1 132.4L677.4 130.7L679.0 129.5L680.9 128.7L683.0 128.4L685.3 128.7L687.7 129.4L690.2 130.6L692.7 132.3L695.1 134.3L697.4 136.7L699.5 139.4L701.4 142.4L703.0 145.5L704.3 148.7L705.2 151.9L705.8 155.0L706.0 158.0ZM698.0 165.2L697.4 167.7L696.4 169.8L695.1 171.5L693.5 172.7L691.7 173.5L689.5 173.8L687.3 173.5L684.8 172.8L682.4 171.6L679.9 169.9L677.5 167.9L675.2 165.5L673.1 162.8L671.2 159.8L669.6 156.7L668.3 153.5L667.3 150.3L666.8 147.2L666.6 144.2L666.8 141.5L667.3 139.0L668.3 137.0L669.6 135.3L671.2 134.0L673.1 133.2L675.2 133.0L677.5 133.2L679.9 133.9L682.4 135.1L684.8 136.8L687.3 138.8L689.5 141.2L691.7 144.0L693.5 146.9L695.1 150.0L696.4 153.2L697.4 156.4L698.0 159.5L698.2 162.5Z" fill="#fff" stroke="none" fill-rule="nonzero"/>
<path d="M698.2 162.5L698.0 159.5L697.4 156.4L696.4 153.2L695.1 150.0L693.5 146.9L691.7 144.0L689.5 141.2L687.3 138.8L684.8 136.8L682.4 135.1L679.9 133.9L677.5 133.2L675.2 133.0L673.1 133.2L671.2 134.0L669.6 135.3L668.3 137.0L667.3 139.0L666.8 141.5L666.6 144.2L666.8 147.2L667.3 150.3L668.3 153.5L669.6 156.7L671.2 159.8L673.1 162.8L675.2 165.5L677.5 167.9L679.9 169.9L682.4 171.6L684.8 172.8L687.3 173.5L689.5 173.8L691.7 173.5L693.5 172.7L695.1 171.5L696.4 169.8L697.4 167.7L698.0 165.2Z" fill="#fff" stroke="#000" stroke-width="1.1" stroke-linejoin="round"/>
<path d="M757.9 180.9L757.8 179.9L757.6 178.9L757.2 177.9L756.7 176.9L756.1 176.0L755.4 175.2L754.7 174.5L753.9 173.9L753.1 173.6L752.3 173.4L751.6 173.4L751.0 173.6L750.5 174.1L750.2 174.6L749.9 175.4L749.8 176.2L749.9 177.2L750.2 178.2L750.5 179.2L751.0 180.2L751.6 181.1L752.3 182.0L753.1 182.7L753.9 183.2L754.7 183.6L755.4 183.7L756.1 183.7L756.7 183.5L757.2 183.1L757.6 182.5L757.8 181.7ZM751.0 173.6L722.0 190.4M756.7 183.5L727.7 200.2" fill="none" stroke="#000" stroke-width="2.2" stroke-linejoin="round" stroke-linecap="round"/>
<path d="M728.9 197.6L728.8 196.7L757.8 179.9L757.9 180.9ZM728.8 196.7L728.6 195.7L757.6 178.9L757.8 179.9ZM728.6 195.7L728.2 194.7L757.2 177.9L757.6 178.9ZM728.2 194.7L727.7 193.7L756.7 176.9L757.2 177.9ZM727.7 193.7L727.1 192.8L756.1 176.0L756.7 176.9ZM727.1 192.8L726.4 191.9L755.4 175.2L756.1 176.0ZM726.4 191.9L725.6 191.2L754.7 174.5L755.4 175.2ZM725.6 191.2L724.8 190.7L753.9 173.9L754.7 174.5ZM724.8 190.7L724.1 190.3L753.1 173.6L753.9 173.9ZM724.1 190.3L723.3 190.1L752.3 173.4L753.1 173.6ZM723.3 190.1L722.6 190.2L751.6 173.4L752.3 173.4ZM722.6 190.2L722.0 190.4L751.0 173.6L751.6 173.4ZM751.0 173.6L750.5 174.1L721.5 190.8L722.0 190.4ZM750.5 174.1L750.2 174.6L721.1 191.4L721.5 190.8ZM750.2 174.6L749.9 175.4L720.9 192.1L721.1 191.4ZM749.9 175.4L749.8 176.2L720.8 193.0L720.9 192.1ZM749.8 176.2L749.9 177.2L720.9 193.9L720.8 193.0ZM749.9 177.2L750.2 178.2L721.1 195.0L720.9 193.9ZM750.2 178.2L750.5 179.2L721.5 196.0L721.1 195.0ZM750.5 179.2L751.0 180.2L722.0 197.0L721.5 196.0ZM751.0 180.2L751.6 181.1L722.6 197.9L722.0 197.0ZM751.6 181.1L752.3 182.0L723.3 198.7L722.6 197.9ZM752.3 182.0L753.1 182.7L724.1 199.4L723.3 198.7ZM753.1 182.7L753.9 183.2L724.8 200.0L724.1 199.4ZM753.9 183.2L754.7 183.6L725.6 200.3L724.8 200.0ZM754.7 183.6L755.4 183.7L726.4 200.5L725.6 200.3ZM755.4 183.7L756.1 183.7L727.1 200.5L726.4 200.5ZM756.1 183.7L756.7 183.5L727.7 200.2L727.1 200.5ZM727.7 200.2L728.2 199.8L757.2 183.1L756.7 183.5ZM728.2 199.8L728.6 199.2L757.6 182.5L757.2 183.1ZM728.6 199.2L728.8 198.5L757.8 181.7L757.6 182.5ZM728.8 198.5L728.9 197.6L757.9 180.9L757.8 181.7ZM757.8 181.7L757.6 182.5L757.2 183.1L756.7 183.5L756.1 183.7L755.4 183.7L754.7 183.6L753.9 183.2L753.1 182.7L752.3 182.0L751.6 181.1L751.0 180.2L750.5 179.2L750.2 178.2L749.9 177.2L749.8 176.2L749.9 175.4L750.2 174.6L750.5 174.1L751.0 173.6L751.6 173.4L752.3 173.4L753.1 173.6L753.9 173.9L754.7 174.5L755.4 175.2L756.1 176.0L756.7 176.9L757.2 177.9L757.6 178.9L757.8 179.9L757.9 180.9ZM728.8 198.5L728.6 199.2L728.2 199.8L727.7 200.2L727.1 200.5L726.4 200.5L725.6 200.3L724.8 200.0L724.1 199.4L723.3 198.7L722.6 197.9L722.0 197.0L721.5 196.0L721.1 195.0L720.9 193.9L720.8 193.0L720.9 192.1L721.1 191.4L721.5 190.8L722.0 190.4L722.6 190.2L723.3 190.1L724.1 190.3L724.8 190.7L725.6 191.2L726.4 191.9L727.1 192.8L727.7 193.7L728.2 194.7L728.6 195.7L728.8 196.7L728.9 197.6Z" fill="#fff" stroke="none" fill-rule="nonzero"/>
<path d="M728.9 197.6L728.8 196.7L728.6 195.7L728.2 194.7L727.7 193.7L727.1 192.8L726.4 191.9L725.6 191.2L724.8 190.7L724.1 190.3L723.3 190.1L722.6 190.2L722.0 190.4L721.5 190.8L721.1 191.4L720.9 192.1L720.8 193.0L720.9 193.9L721.1 195.0L721.5 196.0L722.0 197.0L722.6 197.9L723.3 198.7L724.1 199.4L724.8 200.0L725.6 200.3L726.4 200.5L727.1 200.5L727.7 200.2L728.2 199.8L728.6 199.2L728.8 198.5Z" fill="#fff" stroke="#000" stroke-width="1.1" stroke-linejoin="round"/>
<path d="M727.7 197.0L727.6 196.1L727.3 195.1L726.8 194.2L726.3 193.3L725.6 192.6L724.8 192.0L724.1 191.7L723.4 191.7L722.8 191.8L722.4 192.3L722.1 192.9L722.0 193.7L722.1 194.6L722.4 195.5L722.8 196.5L723.4 197.3L724.1 198.1L724.8 198.6L725.6 198.9L726.3 199.0L726.8 198.8L727.3 198.4L727.6 197.8ZM722.8 191.8L715.4 196.1M726.8 198.8L719.4 203.1" fill="none" stroke="#000" stroke-width="2.2" stroke-linejoin="round" stroke-linecap="round"/>
<path d="M720.3 201.2L720.2 200.3L727.6 196.1L727.7 197.0ZM720.2 200.3L719.9 199.4L727.3 195.1L727.6 196.1ZM719.9 199.4L719.4 198.4L726.8 194.2L727.3 195.1ZM719.4 198.4L718.8 197.6L726.3 193.3L726.8 194.2ZM718.8 197.6L718.2 196.9L725.6 192.6L726.3 193.3ZM718.2 196.9L717.4 196.3L724.8 192.0L725.6 192.6ZM717.4 196.3L716.7 196.0L724.1 191.7L724.8 192.0ZM716.7 196.0L716.0 195.9L723.4 191.7L724.1 191.7ZM716.0 195.9L715.4 196.1L722.8 191.8L723.4 191.7ZM722.8 191.8L722.4 192.3L715.0 196.5L715.4 196.1ZM722.4 192.3L722.1 192.9L714.7 197.2L715.0 196.5ZM722.1 192.9L722.0 193.7L714.6 198.0L714.7 197.2ZM722.0 193.7L722.1 194.6L714.7 198.9L714.6 198.0ZM722.1 194.6L722.4 195.5L715.0 199.8L714.7 198.9ZM722.4 195.5L722.8 196.5L715.4 200.8L715.0 199.8ZM722.8 196.5L723.4 197.3L716.0 201.6L715.4 200.8ZM723.4 197.3L724.1 198.1L716.7 202.3L716.0 201.6ZM724.1 198.1L724.8 198.6L717.4 202.9L716.7 202.3ZM724.8 198.6L725.6 198.9L718.2 203.2L717.4 202.9ZM725.6 198.9L726.3 199.0L718.8 203.3L718.2 203.2ZM726.3 199.0L726.8 198.8L719.4 203.1L718.8 203.3ZM719.4 203.1L719.9 202.7L727.3 198.4L726.8 198.8ZM719.9 202.7L720.2 202.0L727.6 197.8L727.3 198.4ZM720.2 202.0L720.3 201.2L727.7 197.0L727.6 197.8ZM727.6 197.8L727.3 198.4L726.8 198.8L726.3 199.0L725.6 198.9L724.8 198.6L724.1 198.1L723.4 197.3L722.8 196.5L722.4 195.5L722.1 194.6L722.0 193.7L722.1 192.9L722.4 192.3L722.8 191.8L723.4 191.7L724.1 191.7L724.8 192.0L725.6 192.6L726.3 193.3L726.8 194.2L727.3 195.1L727.6 196.1L727.7 197.0ZM720.2 202.0L719.9 202.7L719.4 203.1L718.8 203.3L718.2 203.2L717.4 202.9L716.7 202.3L716.0 201.6L715.4 200.8L715.0 199.8L714.7 198.9L714.6 198.0L714.7 197.2L715.0 196.5L715.4 196.1L716.0 195.9L716.7 196.0L717.4 196.3L718.2 196.9L718.8 197.6L719.4 198.4L719.9 199.4L720.2 200.3L720.3 201.2Z" fill="#fff" stroke="none" fill-rule="nonzero"/>
<path d="M720.3 201.2L720.2 200.3L719.9 199.4L719.4 198.4L718.8 197.6L718.2 196.9L717.4 196.3L716.7 196.0L716.0 195.9L715.4 196.1L715.0 196.5L714.7 197.2L714.6 198.0L714.7 198.9L715.0 199.8L715.4 200.8L716.0 201.6L716.7 202.3L717.4 202.9L718.2 203.2L718.8 203.3L719.4 203.1L719.9 202.7L720.2 202.0Z" fill="#fff" stroke="#000" stroke-width="1.1" stroke-linejoin="round"/>
<path d="M720.8 202.4L720.6 201.1L720.2 199.7L719.6 198.4L718.7 197.1L717.7 196.1L716.7 195.3L715.6 194.9L714.6 194.8L713.8 195.0L713.1 195.6L712.7 196.5L712.6 197.7L712.7 199.0L713.1 200.4L713.8 201.7L714.6 202.9L715.6 204.0L716.7 204.8L717.7 205.2L718.7 205.3L719.6 205.0L720.2 204.4L720.6 203.5ZM713.8 195.0L712.2 195.9M719.6 205.0L718.0 205.9" fill="none" stroke="#000" stroke-width="2.2" stroke-linejoin="round" stroke-linecap="round"/>
<path d="M719.2 203.3L719.1 202.0L720.6 201.1L720.8 202.4ZM719.1 202.0L718.7 200.6L720.2 199.7L720.6 201.1ZM718.7 200.6L718.0 199.3L719.6 198.4L720.2 199.7ZM718.0 199.3L717.2 198.0L718.7 197.1L719.6 198.4ZM717.2 198.0L716.2 197.0L717.7 196.1L718.7 197.1ZM716.2 197.0L715.1 196.2L716.7 195.3L717.7 196.1ZM715.1 196.2L714.1 195.8L715.6 194.9L716.7 195.3ZM714.1 195.8L713.1 195.7L714.6 194.8L715.6 194.9ZM713.1 195.7L712.2 195.9L713.8 195.0L714.6 194.8ZM713.8 195.0L713.1 195.6L711.6 196.5L712.2 195.9ZM713.1 195.6L712.7 196.5L711.2 197.4L711.6 196.5ZM712.7 196.5L712.6 197.7L711.1 198.6L711.2 197.4ZM712.6 197.7L712.7 199.0L711.2 199.9L711.1 198.6ZM712.7 199.0L713.1 200.4L711.6 201.2L711.2 199.9ZM713.1 200.4L713.8 201.7L712.2 202.6L711.6 201.2ZM713.8 201.7L714.6 202.9L713.1 203.8L712.2 202.6ZM714.6 202.9L715.6 204.0L714.1 204.9L713.1 203.8ZM715.6 204.0L716.7 204.8L715.1 205.6L714.1 204.9ZM716.7 204.8L717.7 205.2L716.2 206.1L715.1 205.6ZM717.7 205.2L718.7 205.3L717.2 206.2L716.2 206.1ZM718.7 205.3L719.6 205.0L718.0 205.9L717.2 206.2ZM718.0 205.9L718.7 205.3L720.2 204.4L719.6 205.0ZM718.7 205.3L719.1 204.4L720.6 203.5L720.2 204.4ZM719.1 204.4L719.2 203.3L720.8 202.4L720.6 203.5ZM720.6 203.5L720.2 204.4L719.6 205.0L718.7 205.3L717.7 205.2L716.7 204.8L715.6 204.0L714.6 202.9L713.8 201.7L713.1 200.4L712.7 199.0L712.6 197.7L712.7 196.5L713.1 195.6L713.8 195.0L714.6 194.8L715.6 194.9L716.7 195.3L717.7 196.1L718.7 197.1L719.6 198.4L720.2 199.7L720.6 201.1L720.8 202.4ZM719.1 204.4L718.7 205.3L718.0 205.9L717.2 206.2L716.2 206.1L715.1 205.6L714.1 204.9L713.1 203.8L712.2 202.6L711.6 201.2L711.2 199.9L711.1 198.6L711.2 197.4L711.6 196.5L712.2 195.9L713.1 195.7L714.1 195.8L715.1 196.2L716.2 197.0L717.2 198.0L718.0 199.3L718.7 200.6L719.1 202.0L719.2 203.3Z" fill="#fff" stroke="none" fill-rule="nonzero"/>
<path d="M719.2 203.3L719.1 202.0L718.7 200.6L718.0 199.3L717.2 198.0L716.2 197.0L715.1 196.2L714.1 195.8L713.1 195.7L712.2 195.9L711.6 196.5L711.2 197.4L711.1 198.6L711.2 199.9L711.6 201.2L712.2 202.6L713.1 203.8L714.1 204.9L715.1 205.6L716.2 206.1L717.2 206.2L718.0 205.9L718.7 205.3L719.1 204.4Z" fill="#fff" stroke="#000" stroke-width="1.1" stroke-linejoin="round"/>
<path d="M720.6 204.4L717.7 197.0L712.0 193.7L709.1 197.8L712.0 205.2L717.7 208.5ZM712.0 193.7L707.8 196.1M717.7 208.5L713.5 210.9" fill="none" stroke="#000" stroke-width="2.2" stroke-linejoin="round" stroke-linecap="round"/>
<path d="M716.4 206.8L713.5 199.4L717.7 197.0L720.6 204.4ZM713.5 199.4L707.8 196.1L712.0 193.7L717.7 197.0ZM712.0 193.7L709.1 197.8L704.9 200.2L707.8 196.1ZM709.1 197.8L712.0 205.2L707.8 207.6L704.9 200.2ZM712.0 205.2L717.7 208.5L713.5 210.9L707.8 207.6ZM713.5 210.9L716.4 206.8L720.6 204.4L717.7 208.5ZM717.7 208.5L712.0 205.2L709.1 197.8L712.0 193.7L717.7 197.0L720.6 204.4ZM713.5 210.9L707.8 207.6L704.9 200.2L707.8 196.1L713.5 199.4L716.4 206.8Z" fill="#fff" stroke="none" fill-rule="nonzero"/>
<path d="M716.4 206.8L713.5 199.4L707.8 196.1L704.9 200.2L707.8 207.6L713.5 210.9Z" fill="#fff" stroke="#000" stroke-width="1.1" stroke-linejoin="round"/>
<circle cx="741.6" cy="190.2" r="1" fill="#222"/>
<path d="M647.9 103.0L649.5 106.3L651.1 109.5L652.5 112.7L653.5 115.7L653.8 118.6L652.4 121.2L651.2 124.1L650.4 127.3L649.9 130.8L649.7 134.5L649.9 138.2L650.3 141.8L651.0 145.2L651.8 148.2L652.8 150.7L653.4 153.1L653.8 155.3L653.9 157.3L653.8 158.9L653.3 159.8L651.5 160.3L649.9 161.1L648.6 162.4L647.6 164.2L647.2 166.6L647.5 169.1L648.4 171.5L649.7 173.8L651.4 175.7L653.4 177.2L655.6 178.0L657.6 178.1L659.4 177.5L661.2 176.7L663.0 175.9L664.2 175.9L665.5 176.4L666.9 177.4L668.3 178.7L669.6 180.2L672.1 182.9L674.5 185.4L677.1 187.6L679.7 189.6L682.4 191.3L685.2 192.7L687.9 193.8L690.6 194.4L693.1 194.6L695.4 194.5L696.7 194.6L698.1 195.0L699.5 195.9L700.8 197.2L702.0 198.8L703.6 201.6L705.3 204.5L707.1 207.1L709.1 209.3L711.2 210.9L713.5 211.5L715.6 211.1L717.5 209.8L719.2 208.0L720.8 205.9L724.7 200.8L725.9 198.2L726.6 196.9L727.1 195.4L727.5 193.9L727.7 192.4L727.7 190.8L727.5 188.9L726.8 187.1L725.8 185.2L724.3 183.3L722.5 181.2L720.6 179.2L718.9 177.3L717.3 175.5L716.1 173.6L715.3 171.6L713.5 159.1L708.9 146.4L701.8 134.3L692.8 123.8L682.4 115.9L678.6 114.0L675.2 112.7L672.2 112.0L669.5 111.6L667.1 111.4L665.4 110.8L663.7 109.7L662.1 108.0L660.4 105.7L658.8 102.8L657.7 101.1L656.7 99.7L655.6 98.6L654.5 97.7L653.3 96.9L651.5 96.2L649.9 96.2L648.7 96.9L647.9 98.3L647.6 100.2L647.6 100.7L647.7 101.3L647.7 101.9L647.8 102.4ZM653.3 159.8L645.2 164.4M649.9 161.1L641.9 165.8M715.6 211.1L707.6 215.7M648.7 96.9L640.6 101.6M658.8 102.8L650.8 107.4M663.7 109.7L655.7 114.4M667.1 111.4L659.0 116.0M715.3 171.6L707.2 176.3M718.9 177.3L710.8 181.9M727.7 192.4L719.7 197.0M725.9 198.2L717.9 202.8M724.7 200.8L716.7 205.4" fill="none" stroke="#000" stroke-width="2.2" stroke-linejoin="round" stroke-linecap="round"/>
<path d="M647.9 103.0L649.5 106.3L641.5 111.0L639.9 107.6ZM649.5 106.3L651.1 109.5L643.1 114.2L641.5 111.0ZM651.1 109.5L652.5 112.7L644.5 117.3L643.1 114.2ZM652.5 112.7L653.5 115.7L645.5 120.3L644.5 117.3ZM653.5 115.7L653.8 118.6L645.8 123.2L645.5 120.3ZM653.8 118.6L652.4 121.2L644.3 125.8L645.8 123.2ZM652.4 121.2L651.2 124.1L643.2 128.7L644.3 125.8ZM651.2 124.1L650.4 127.3L642.4 132.0L643.2 128.7ZM650.4 127.3L649.9 130.8L641.9 135.5L642.4 132.0ZM649.9 130.8L649.7 134.5L641.7 139.2L641.9 135.5ZM649.7 134.5L649.9 138.2L641.9 142.8L641.7 139.2ZM649.9 138.2L650.3 141.8L642.3 146.4L641.9 142.8ZM650.3 141.8L651.0 145.2L643.0 149.8L642.3 146.4ZM651.0 145.2L651.8 148.2L643.8 152.8L643.0 149.8ZM651.8 148.2L652.8 150.7L644.8 155.3L643.8 152.8ZM652.8 150.7L653.4 153.1L645.4 157.7L644.8 155.3ZM653.4 153.1L653.8 155.3L645.8 160.0L645.4 157.7ZM653.8 155.3L653.9 157.3L645.9 162.0L645.8 160.0ZM653.9 157.3L653.8 158.9L645.8 163.5L645.9 162.0ZM653.8 158.9L653.3 159.8L645.2 164.4L645.8 163.5ZM645.2 164.4L643.5 164.9L651.5 160.3L653.3 159.8ZM643.5 164.9L641.9 165.8L649.9 161.1L651.5 160.3ZM649.9 161.1L648.6 162.4L640.5 167.1L641.9 165.8ZM648.6 162.4L647.6 164.2L639.6 168.9L640.5 167.1ZM647.6 164.2L647.2 166.6L639.1 171.3L639.6 168.9ZM647.2 166.6L647.5 169.1L639.5 173.8L639.1 171.3ZM647.5 169.1L648.4 171.5L640.3 176.2L639.5 173.8ZM648.4 171.5L649.7 173.8L641.7 178.4L640.3 176.2ZM649.7 173.8L651.4 175.7L643.4 180.4L641.7 178.4ZM651.4 175.7L653.4 177.2L645.4 181.8L643.4 180.4ZM653.4 177.2L655.6 178.0L647.6 182.7L645.4 181.8ZM655.6 178.0L657.6 178.1L649.6 182.7L647.6 182.7ZM657.6 178.1L659.4 177.5L651.4 182.2L649.6 182.7ZM659.4 177.5L661.2 176.7L653.1 181.3L651.4 182.2ZM661.2 176.7L663.0 175.9L654.9 180.6L653.1 181.3ZM663.0 175.9L664.2 175.9L656.2 180.6L654.9 180.6ZM664.2 175.9L665.5 176.4L657.5 181.1L656.2 180.6ZM665.5 176.4L666.9 177.4L658.9 182.0L657.5 181.1ZM666.9 177.4L668.3 178.7L660.2 183.3L658.9 182.0ZM668.3 178.7L669.6 180.2L661.6 184.9L660.2 183.3ZM669.6 180.2L672.1 182.9L664.0 187.6L661.6 184.9ZM672.1 182.9L674.5 185.4L666.5 190.0L664.0 187.6ZM674.5 185.4L677.1 187.6L669.0 192.3L666.5 190.0ZM677.1 187.6L679.7 189.6L671.6 194.2L669.0 192.3ZM679.7 189.6L682.4 191.3L674.3 195.9L671.6 194.2ZM682.4 191.3L685.2 192.7L677.2 197.4L674.3 195.9ZM685.2 192.7L687.9 193.8L679.9 198.4L677.2 197.4ZM687.9 193.8L690.6 194.4L682.5 199.0L679.9 198.4ZM690.6 194.4L693.1 194.6L685.0 199.3L682.5 199.0ZM693.1 194.6L695.4 194.5L687.4 199.1L685.0 199.3ZM695.4 194.5L696.7 194.6L688.7 199.2L687.4 199.1ZM696.7 194.6L698.1 195.0L690.1 199.7L688.7 199.2ZM698.1 195.0L699.5 195.9L691.5 200.6L690.1 199.7ZM699.5 195.9L700.8 197.2L692.8 201.8L691.5 200.6ZM700.8 197.2L702.0 198.8L693.9 203.4L692.8 201.8ZM702.0 198.8L703.6 201.6L695.5 206.3L693.9 203.4ZM703.6 201.6L705.3 204.5L697.3 209.1L695.5 206.3ZM705.3 204.5L707.1 207.1L699.1 211.7L697.3 209.1ZM707.1 207.1L709.1 209.3L701.1 213.9L699.1 211.7ZM709.1 209.3L711.2 210.9L703.2 215.5L701.1 213.9ZM711.2 210.9L713.5 211.5L705.5 216.2L703.2 215.5ZM713.5 211.5L715.6 211.1L707.6 215.7L705.5 216.2ZM707.6 215.7L709.5 214.4L717.5 209.8L715.6 211.1ZM709.5 214.4L711.2 212.6L719.2 208.0L717.5 209.8ZM711.2 212.6L712.8 210.5L720.8 205.9L719.2 208.0ZM712.8 210.5L716.7 205.4L724.7 200.8L720.8 205.9ZM716.7 205.4L717.9 202.8L725.9 198.2L724.7 200.8ZM717.9 202.8L718.6 201.5L726.6 196.9L725.9 198.2ZM718.6 201.5L719.1 200.0L727.1 195.4L726.6 196.9ZM719.1 200.0L719.5 198.5L727.5 193.9L727.1 195.4ZM719.5 198.5L719.7 197.0L727.7 192.4L727.5 193.9ZM719.7 197.0L719.7 195.5L727.7 190.8L727.7 192.4ZM719.7 195.5L719.4 193.6L727.5 188.9L727.7 190.8ZM719.4 193.6L718.8 191.7L726.8 187.1L727.5 188.9ZM718.8 191.7L717.8 189.9L725.8 185.2L726.8 187.1ZM717.8 189.9L716.3 187.9L724.3 183.3L725.8 185.2ZM716.3 187.9L714.4 185.8L722.5 181.2L724.3 183.3ZM714.4 185.8L712.6 183.8L720.6 179.2L722.5 181.2ZM712.6 183.8L710.8 181.9L718.9 177.3L720.6 179.2ZM710.8 181.9L709.3 180.1L717.3 175.5L718.9 177.3ZM709.3 180.1L708.1 178.2L716.1 173.6L717.3 175.5ZM708.1 178.2L707.2 176.3L715.3 171.6L716.1 173.6ZM707.2 176.3L705.5 163.8L713.5 159.1L715.3 171.6ZM705.5 163.8L700.8 151.0L708.9 146.4L713.5 159.1ZM700.8 151.0L693.8 138.9L701.8 134.3L708.9 146.4ZM693.8 138.9L684.8 128.5L692.8 123.8L701.8 134.3ZM684.8 128.5L674.3 120.6L682.4 115.9L692.8 123.8ZM674.3 120.6L670.6 118.6L678.6 114.0L682.4 115.9ZM670.6 118.6L667.2 117.4L675.2 112.7L678.6 114.0ZM667.2 117.4L664.1 116.6L672.2 112.0L675.2 112.7ZM664.1 116.6L661.4 116.2L669.5 111.6L672.2 112.0ZM661.4 116.2L659.0 116.0L667.1 111.4L669.5 111.6ZM659.0 116.0L657.4 115.5L665.4 110.8L667.1 111.4ZM657.4 115.5L655.7 114.4L663.7 109.7L665.4 110.8ZM655.7 114.4L654.0 112.7L662.1 108.0L663.7 109.7ZM654.0 112.7L652.4 110.4L660.4 105.7L662.1 108.0ZM652.4 110.4L650.8 107.4L658.8 102.8L660.4 105.7ZM650.8 107.4L649.7 105.7L657.7 101.1L658.8 102.8ZM649.7 105.7L648.6 104.3L656.7 99.7L657.7 101.1ZM648.6 104.3L647.6 103.2L655.6 98.6L656.7 99.7ZM647.6 103.2L646.4 102.3L654.5 97.7L655.6 98.6ZM646.4 102.3L645.3 101.6L653.3 96.9L654.5 97.7ZM645.3 101.6L643.5 100.8L651.5 96.2L653.3 96.9ZM643.5 100.8L641.9 100.9L649.9 96.2L651.5 96.2ZM648.7 96.9L647.9 98.3L639.8 102.9L640.6 101.6ZM647.9 98.3L647.6 100.2L639.6 104.8L639.8 102.9ZM647.6 100.2L647.6 100.7L639.6 105.4L639.6 104.8ZM647.6 100.7L647.7 101.3L639.6 105.9L639.6 105.4ZM647.7 101.3L647.7 101.9L639.7 106.5L639.6 105.9ZM647.7 101.9L647.8 102.4L639.8 107.1L639.7 106.5ZM647.8 102.4L647.9 103.0L639.9 107.6L639.8 107.1ZM647.8 102.4L647.7 101.9L647.7 101.3L647.6 100.7L647.6 100.2L647.9 98.3L648.7 96.9L649.9 96.2L651.5 96.2L653.3 96.9L654.5 97.7L655.6 98.6L656.7 99.7L657.7 101.1L658.8 102.8L660.4 105.7L662.1 108.0L663.7 109.7L665.4 110.8L667.1 111.4L669.5 111.6L672.2 112.0L675.2 112.7L678.6 114.0L682.4 115.9L692.8 123.8L701.8 134.3L708.9 146.4L713.5 159.1L715.3 171.6L716.1 173.6L717.3 175.5L718.9 177.3L720.6 179.2L722.5 181.2L724.3 183.3L725.8 185.2L726.8 187.1L727.5 188.9L727.7 190.8L727.7 192.4L727.5 193.9L727.1 195.4L726.6 196.9L725.9 198.2L724.7 200.8L720.8 205.9L719.2 208.0L717.5 209.8L715.6 211.1L713.5 211.5L711.2 210.9L709.1 209.3L707.1 207.1L705.3 204.5L703.6 201.6L702.0 198.8L700.8 197.2L699.5 195.9L698.1 195.0L696.7 194.6L695.4 194.5L693.1 194.6L690.6 194.4L687.9 193.8L685.2 192.7L682.4 191.3L679.7 189.6L677.1 187.6L674.5 185.4L672.1 182.9L669.6 180.2L668.3 178.7L666.9 177.4L665.5 176.4L664.2 175.9L663.0 175.9L661.2 176.7L659.4 177.5L657.6 178.1L655.6 178.0L653.4 177.2L651.4 175.7L649.7 173.8L648.4 171.5L647.5 169.1L647.2 166.6L647.6 164.2L648.6 162.4L649.9 161.1L651.5 160.3L653.3 159.8L653.8 158.9L653.9 157.3L653.8 155.3L653.4 153.1L652.8 150.7L651.8 148.2L651.0 145.2L650.3 141.8L649.9 138.2L649.7 134.5L649.9 130.8L650.4 127.3L651.2 124.1L652.4 121.2L653.8 118.6L653.5 115.7L652.5 112.7L651.1 109.5L649.5 106.3L647.9 103.0ZM639.8 107.1L639.7 106.5L639.6 105.9L639.6 105.4L639.6 104.8L639.8 102.9L640.6 101.6L641.9 100.9L643.5 100.8L645.3 101.6L646.4 102.3L647.6 103.2L648.6 104.3L649.7 105.7L650.8 107.4L652.4 110.4L654.0 112.7L655.7 114.4L657.4 115.5L659.0 116.0L661.4 116.2L664.1 116.6L667.2 117.4L670.6 118.6L674.3 120.6L684.8 128.5L693.8 138.9L700.8 151.0L705.5 163.8L707.2 176.3L708.1 178.2L709.3 180.1L710.8 181.9L712.6 183.8L714.4 185.8L716.3 187.9L717.8 189.9L718.8 191.7L719.4 193.6L719.7 195.5L719.7 197.0L719.5 198.5L719.1 200.0L718.6 201.5L717.9 202.8L716.7 205.4L712.8 210.5L711.2 212.6L709.5 214.4L707.6 215.7L705.5 216.2L703.2 215.5L701.1 213.9L699.1 211.7L697.3 209.1L695.5 206.3L693.9 203.4L692.8 201.8L691.5 200.6L690.1 199.7L688.7 199.2L687.4 199.1L685.0 199.3L682.5 199.0L679.9 198.4L677.2 197.4L674.3 195.9L671.6 194.2L669.0 192.3L666.5 190.0L664.0 187.6L661.6 184.9L660.2 183.3L658.9 182.0L657.5 181.1L656.2 180.6L654.9 180.6L653.1 181.3L651.4 182.2L649.6 182.7L647.6 182.7L645.4 181.8L643.4 180.4L641.7 178.4L640.3 176.2L639.5 173.8L639.1 171.3L639.6 168.9L640.5 167.1L641.9 165.8L643.5 164.9L645.2 164.4L645.8 163.5L645.9 162.0L645.8 160.0L645.4 157.7L644.8 155.3L643.8 152.8L643.0 149.8L642.3 146.4L641.9 142.8L641.7 139.2L641.9 135.5L642.4 132.0L643.2 128.7L644.3 125.8L645.8 123.2L645.5 120.3L644.5 117.3L643.1 114.2L641.5 111.0L639.9 107.6Z" fill="#fff" stroke="none" fill-rule="nonzero"/>
<path class="k" d="M658.8 102.8L650.8 107.4M663.7 109.7L655.7 114.4M667.1 111.4L659.0 116.0M715.3 171.6L707.2 176.3M718.9 177.3L710.8 181.9M727.7 192.4L719.7 197.0M725.9 198.2L717.9 202.8M724.7 200.8L716.7 205.4"/>
<path d="M639.9 107.6L641.5 111.0L643.1 114.2L644.5 117.3L645.5 120.3L645.8 123.2L644.3 125.8L643.2 128.7L642.4 132.0L641.9 135.5L641.7 139.2L641.9 142.8L642.3 146.4L643.0 149.8L643.8 152.8L644.8 155.3L645.4 157.7L645.8 160.0L645.9 162.0L645.8 163.5L645.2 164.4L643.5 164.9L641.9 165.8L640.5 167.1L639.6 168.9L639.1 171.3L639.5 173.8L640.3 176.2L641.7 178.4L643.4 180.4L645.4 181.8L647.6 182.7L649.6 182.7L651.4 182.2L653.1 181.3L654.9 180.6L656.2 180.6L657.5 181.1L658.9 182.0L660.2 183.3L661.6 184.9L664.0 187.6L666.5 190.0L669.0 192.3L671.6 194.2L674.3 195.9L677.2 197.4L679.9 198.4L682.5 199.0L685.0 199.3L687.4 199.1L688.7 199.2L690.1 199.7L691.5 200.6L692.8 201.8L693.9 203.4L695.5 206.3L697.3 209.1L699.1 211.7L701.1 213.9L703.2 215.5L705.5 216.2L707.6 215.7L709.5 214.4L711.2 212.6L712.8 210.5L716.7 205.4L717.9 202.8L718.6 201.5L719.1 200.0L719.5 198.5L719.7 197.0L719.7 195.5L719.4 193.6L718.8 191.7L717.8 189.9L716.3 187.9L714.4 185.8L712.6 183.8L710.8 181.9L709.3 180.1L708.1 178.2L707.2 176.3L705.5 163.8L700.8 151.0L693.8 138.9L684.8 128.5L674.3 120.6L670.6 118.6L667.2 117.4L664.1 116.6L661.4 116.2L659.0 116.0L657.4 115.5L655.7 114.4L654.0 112.7L652.4 110.4L650.8 107.4L649.7 105.7L648.6 104.3L647.6 103.2L646.4 102.3L645.3 101.6L643.5 100.8L641.9 100.9L640.6 101.6L639.8 102.9L639.6 104.8L639.6 105.4L639.6 105.9L639.7 106.5L639.8 107.1Z" fill="#fff" stroke="#000" stroke-width="1.1" stroke-linejoin="round"/>
<path class="k" d="M702.4 185.4L717.9 202.8"/>
<path class="k" d="M700.9 188.0L716.7 205.4"/>
<path class="k" d="M717.9 202.8L725.9 198.2"/>
<path class="k" d="M716.7 205.4L724.7 200.8"/>
<circle cx="719.4" cy="185.4" r="3.6" fill="#fff" stroke="#000" stroke-width="1.7"/>
<circle cx="719.4" cy="185.4" r="2.0" fill="#555" stroke="#000" stroke-width="0.9"/>
<path d="M707.2 177.0L706.8 170.8L705.6 164.3L703.6 157.7L700.9 151.1L697.6 144.6L693.6 138.5L689.2 132.8L684.5 127.8L679.5 123.5L674.3 120.1L669.2 117.6L664.2 116.1L659.4 115.6L655.0 116.2L651.1 117.8L647.8 120.4L645.1 123.9L643.1 128.3L641.9 133.3L641.5 139.0L641.9 145.2L643.1 151.7L645.1 158.3L647.8 164.9L651.1 171.4L655.0 177.5L659.4 183.2L664.2 188.2L669.2 192.5L674.3 195.9L679.5 198.4L684.5 199.9L689.2 200.4L693.6 199.8L697.6 198.2L700.9 195.6L703.6 192.1L705.6 187.7L706.8 182.7ZM651.1 117.8L648.6 119.2M697.6 198.2L695.1 199.7" fill="none" stroke="#000" stroke-width="2.2" stroke-linejoin="round" stroke-linecap="round"/>
<path d="M704.7 178.4L704.3 172.2L706.8 170.8L707.2 177.0ZM704.3 172.2L703.1 165.8L705.6 164.3L706.8 170.8ZM703.1 165.8L701.1 159.1L703.6 157.7L705.6 164.3ZM701.1 159.1L698.4 152.5L700.9 151.1L703.6 157.7ZM698.4 152.5L695.1 146.0L697.6 144.6L700.9 151.1ZM695.1 146.0L691.1 139.9L693.6 138.5L697.6 144.6ZM691.1 139.9L686.7 134.3L689.2 132.8L693.6 138.5ZM686.7 134.3L682.0 129.2L684.5 127.8L689.2 132.8ZM682.0 129.2L677.0 125.0L679.5 123.5L684.5 127.8ZM677.0 125.0L671.8 121.5L674.3 120.1L679.5 123.5ZM671.8 121.5L666.7 119.0L669.2 117.6L674.3 120.1ZM666.7 119.0L661.7 117.5L664.2 116.1L669.2 117.6ZM661.7 117.5L656.9 117.0L659.4 115.6L664.2 116.1ZM656.9 117.0L652.5 117.6L655.0 116.2L659.4 115.6ZM652.5 117.6L648.6 119.2L651.1 117.8L655.0 116.2ZM651.1 117.8L647.8 120.4L645.3 121.8L648.6 119.2ZM647.8 120.4L645.1 123.9L642.6 125.3L645.3 121.8ZM645.1 123.9L643.1 128.3L640.6 129.7L642.6 125.3ZM643.1 128.3L641.9 133.3L639.4 134.8L640.6 129.7ZM641.9 133.3L641.5 139.0L639.0 140.5L639.4 134.8ZM641.5 139.0L641.9 145.2L639.4 146.6L639.0 140.5ZM641.9 145.2L643.1 151.7L640.6 153.1L639.4 146.6ZM643.1 151.7L645.1 158.3L642.6 159.8L640.6 153.1ZM645.1 158.3L647.8 164.9L645.3 166.4L642.6 159.8ZM647.8 164.9L651.1 171.4L648.6 172.8L645.3 166.4ZM651.1 171.4L655.0 177.5L652.5 179.0L648.6 172.8ZM655.0 177.5L659.4 183.2L656.9 184.6L652.5 179.0ZM659.4 183.2L664.2 188.2L661.7 189.6L656.9 184.6ZM664.2 188.2L669.2 192.5L666.7 193.9L661.7 189.6ZM669.2 192.5L674.3 195.9L671.8 197.4L666.7 193.9ZM674.3 195.9L679.5 198.4L677.0 199.9L671.8 197.4ZM679.5 198.4L684.5 199.9L682.0 201.4L677.0 199.9ZM684.5 199.9L689.2 200.4L686.7 201.8L682.0 201.4ZM689.2 200.4L693.6 199.8L691.1 201.3L686.7 201.8ZM693.6 199.8L697.6 198.2L695.1 199.7L691.1 201.3ZM695.1 199.7L698.4 197.1L700.9 195.6L697.6 198.2ZM698.4 197.1L701.1 193.5L703.6 192.1L700.9 195.6ZM701.1 193.5L703.1 189.2L705.6 187.7L703.6 192.1ZM703.1 189.2L704.3 184.1L706.8 182.7L705.6 187.7ZM704.3 184.1L704.7 178.4L707.2 177.0L706.8 182.7ZM706.8 182.7L705.6 187.7L703.6 192.1L700.9 195.6L697.6 198.2L693.6 199.8L689.2 200.4L684.5 199.9L679.5 198.4L674.3 195.9L669.2 192.5L664.2 188.2L659.4 183.2L655.0 177.5L651.1 171.4L647.8 164.9L645.1 158.3L643.1 151.7L641.9 145.2L641.5 139.0L641.9 133.3L643.1 128.3L645.1 123.9L647.8 120.4L651.1 117.8L655.0 116.2L659.4 115.6L664.2 116.1L669.2 117.6L674.3 120.1L679.5 123.5L684.5 127.8L689.2 132.8L693.6 138.5L697.6 144.6L700.9 151.1L703.6 157.7L705.6 164.3L706.8 170.8L707.2 177.0ZM704.3 184.1L703.1 189.2L701.1 193.5L698.4 197.1L695.1 199.7L691.1 201.3L686.7 201.8L682.0 201.4L677.0 199.9L671.8 197.4L666.7 193.9L661.7 189.6L656.9 184.6L652.5 179.0L648.6 172.8L645.3 166.4L642.6 159.8L640.6 153.1L639.4 146.6L639.0 140.5L639.4 134.8L640.6 129.7L642.6 125.3L645.3 121.8L648.6 119.2L652.5 117.6L656.9 117.0L661.7 117.5L666.7 119.0L671.8 121.5L677.0 125.0L682.0 129.2L686.7 134.3L691.1 139.9L695.1 146.0L698.4 152.5L701.1 159.1L703.1 165.8L704.3 172.2L704.7 178.4Z" fill="#fff" stroke="none" fill-rule="nonzero"/>
<path d="M704.7 178.4L704.3 172.2L703.1 165.8L701.1 159.1L698.4 152.5L695.1 146.0L691.1 139.9L686.7 134.3L682.0 129.2L677.0 125.0L671.8 121.5L666.7 119.0L661.7 117.5L656.9 117.0L652.5 117.6L648.6 119.2L645.3 121.8L642.6 125.3L640.6 129.7L639.4 134.8L639.0 140.5L639.4 146.6L640.6 153.1L642.6 159.8L645.3 166.4L648.6 172.8L652.5 179.0L656.9 184.6L661.7 189.6L666.7 193.9L671.8 197.4L677.0 199.9L682.0 201.4L686.7 201.8L691.1 201.3L695.1 199.7L698.4 197.1L701.1 193.5L703.1 189.2L704.3 184.1Z" fill="#fff" stroke="#000" stroke-width="1.1" stroke-linejoin="round"/>
<path class="k2" d="M666.6 190.7L669.3 192.7L672.1 194.4L674.8 195.8L677.5 196.9L680.2 197.7L682.8 198.2L685.3 198.3L687.7 198.2L689.9 197.7L692.0 196.9L694.0 195.8L695.7 194.4L697.3 192.7L698.7 190.8L699.8 188.6L700.7 186.1L701.4 183.4L701.8 180.5L702.0 177.5L701.9 174.3L701.6 170.9L701.0 167.5L700.2 164.0L699.2 160.5L697.9 157.0L696.4 153.5L694.7 150.0L692.8 146.6L690.8 143.3L688.6 140.2L686.2 137.2L683.8 134.4L681.2 131.8L678.6 129.4L675.9 127.3L673.2 125.4L670.4 123.9L667.7 122.6L665.0 121.6L662.4 120.9L659.8 120.6L657.3 120.6L655.0 120.9L652.8 121.5L650.8 122.4L648.9 123.6L647.2 125.2L645.7 127.0"/>
<path d="M699.6 175.4L699.2 170.2L698.2 164.8L696.5 159.2L694.3 153.6L691.4 148.1L688.1 143.0L684.4 138.2L680.4 134.0L676.2 130.3L671.8 127.4L667.5 125.3L663.3 124.1L659.3 123.7L655.6 124.1L652.2 125.5L649.4 127.7L647.1 130.7L645.5 134.3L644.5 138.6L644.1 143.4L644.5 148.6L645.5 154.1L647.1 159.7L649.4 165.3L652.2 170.8L655.6 175.9L659.3 180.7L663.3 184.9L667.5 188.5L671.8 191.4L676.2 193.5L680.4 194.8L684.4 195.2L688.1 194.7L691.4 193.4L694.3 191.2L696.5 188.2L698.2 184.5L699.2 180.2ZM652.2 125.5L644.8 129.8M691.4 193.4L684.0 197.7" fill="none" stroke="#000" stroke-width="2.2" stroke-linejoin="round" stroke-linecap="round"/>
<path d="M692.1 179.8L691.7 174.6L699.2 170.2L699.6 175.4ZM691.7 174.6L690.7 169.1L698.2 164.8L699.2 170.2ZM690.7 169.1L689.0 163.5L696.5 159.2L698.2 164.8ZM689.0 163.5L686.8 157.9L694.3 153.6L696.5 159.2ZM686.8 157.9L684.0 152.4L691.4 148.1L694.3 153.6ZM684.0 152.4L680.6 147.3L688.1 143.0L691.4 148.1ZM680.6 147.3L676.9 142.5L684.4 138.2L688.1 143.0ZM676.9 142.5L672.9 138.3L680.4 134.0L684.4 138.2ZM672.9 138.3L668.7 134.7L676.2 130.3L680.4 134.0ZM668.7 134.7L664.4 131.8L671.8 127.4L676.2 130.3ZM664.4 131.8L660.0 129.7L667.5 125.3L671.8 127.4ZM660.0 129.7L655.8 128.4L663.3 124.1L667.5 125.3ZM655.8 128.4L651.8 128.0L659.3 123.7L663.3 124.1ZM651.8 128.0L648.1 128.5L655.6 124.1L659.3 123.7ZM648.1 128.5L644.8 129.8L652.2 125.5L655.6 124.1ZM652.2 125.5L649.4 127.7L641.9 132.0L644.8 129.8ZM649.4 127.7L647.1 130.7L639.7 135.0L641.9 132.0ZM647.1 130.7L645.5 134.3L638.0 138.7L639.7 135.0ZM645.5 134.3L644.5 138.6L637.0 143.0L638.0 138.7ZM644.5 138.6L644.1 143.4L636.6 147.8L637.0 143.0ZM644.1 143.4L644.5 148.6L637.0 153.0L636.6 147.8ZM644.5 148.6L645.5 154.1L638.0 158.4L637.0 153.0ZM645.5 154.1L647.1 159.7L639.7 164.0L638.0 158.4ZM647.1 159.7L649.4 165.3L641.9 169.6L639.7 164.0ZM649.4 165.3L652.2 170.8L644.8 175.1L641.9 169.6ZM652.2 170.8L655.6 175.9L648.1 180.2L644.8 175.1ZM655.6 175.9L659.3 180.7L651.8 185.0L648.1 180.2ZM659.3 180.7L663.3 184.9L655.8 189.2L651.8 185.0ZM663.3 184.9L667.5 188.5L660.0 192.9L655.8 189.2ZM667.5 188.5L671.8 191.4L664.4 195.8L660.0 192.9ZM671.8 191.4L676.2 193.5L668.7 197.9L664.4 195.8ZM676.2 193.5L680.4 194.8L672.9 199.1L668.7 197.9ZM680.4 194.8L684.4 195.2L676.9 199.5L672.9 199.1ZM684.4 195.2L688.1 194.7L680.6 199.1L676.9 199.5ZM688.1 194.7L691.4 193.4L684.0 197.7L680.6 199.1ZM684.0 197.7L686.8 195.5L694.3 191.2L691.4 193.4ZM686.8 195.5L689.0 192.5L696.5 188.2L694.3 191.2ZM689.0 192.5L690.7 188.9L698.2 184.5L696.5 188.2ZM690.7 188.9L691.7 184.6L699.2 180.2L698.2 184.5ZM691.7 184.6L692.1 179.8L699.6 175.4L699.2 180.2ZM699.2 180.2L698.2 184.5L696.5 188.2L694.3 191.2L691.4 193.4L688.1 194.7L684.4 195.2L680.4 194.8L676.2 193.5L671.8 191.4L667.5 188.5L663.3 184.9L659.3 180.7L655.6 175.9L652.2 170.8L649.4 165.3L647.1 159.7L645.5 154.1L644.5 148.6L644.1 143.4L644.5 138.6L645.5 134.3L647.1 130.7L649.4 127.7L652.2 125.5L655.6 124.1L659.3 123.7L663.3 124.1L667.5 125.3L671.8 127.4L676.2 130.3L680.4 134.0L684.4 138.2L688.1 143.0L691.4 148.1L694.3 153.6L696.5 159.2L698.2 164.8L699.2 170.2L699.6 175.4ZM691.7 184.6L690.7 188.9L689.0 192.5L686.8 195.5L684.0 197.7L680.6 199.1L676.9 199.5L672.9 199.1L668.7 197.9L664.4 195.8L660.0 192.9L655.8 189.2L651.8 185.0L648.1 180.2L644.8 175.1L641.9 169.6L639.7 164.0L638.0 158.4L637.0 153.0L636.6 147.8L637.0 143.0L638.0 138.7L639.7 135.0L641.9 132.0L644.8 129.8L648.1 128.5L651.8 128.0L655.8 128.4L660.0 129.7L664.4 131.8L668.7 134.7L672.9 138.3L676.9 142.5L680.6 147.3L684.0 152.4L686.8 157.9L689.0 163.5L690.7 169.1L691.7 174.6L692.1 179.8Z" fill="#fff" stroke="none" fill-rule="nonzero"/>
<path d="M692.1 179.8L691.7 174.6L690.7 169.1L689.0 163.5L686.8 157.9L684.0 152.4L680.6 147.3L676.9 142.5L672.9 138.3L668.7 134.7L664.4 131.8L660.0 129.7L655.8 128.4L651.8 128.0L648.1 128.5L644.8 129.8L641.9 132.0L639.7 135.0L638.0 138.7L637.0 143.0L636.6 147.8L637.0 153.0L638.0 158.4L639.7 164.0L641.9 169.6L644.8 175.1L648.1 180.2L651.8 185.0L655.8 189.2L660.0 192.9L664.4 195.8L668.7 197.9L672.9 199.1L676.9 199.5L680.6 199.1L684.0 197.7L686.8 195.5L689.0 192.5L690.7 188.9L691.7 184.6Z" fill="#fff" stroke="#000" stroke-width="1.1" stroke-linejoin="round"/>
<path class="k2" d="M692.1 179.8L691.8 175.4L691.1 170.9L690.0 166.3L688.4 161.6L686.3 157.0L684.0 152.4L681.2 148.1L678.2 144.0L675.0 140.3L671.5 137.0L668.0 134.1L664.4 131.8L660.7 129.9L657.2 128.7L653.8 128.1L650.5 128.0L647.5 128.6L644.8 129.8L642.4 131.6L640.4 133.9L638.8 136.7L637.6 140.0L636.9 143.7L636.6 147.8L636.9 152.1L637.6 156.6L638.8 161.2L640.4 165.9L642.4 170.5L644.8 175.1L647.5 179.4L650.5 183.5L653.8 187.2L657.2 190.5L660.7 193.4L664.4 195.8L668.0 197.6L671.5 198.8L675.0 199.4L678.2 199.5L681.2 198.9L684.0 197.7L686.3 195.9L688.4 193.6L690.0 190.8L691.1 187.5L691.8 183.8L692.1 179.8Z"/>
<path class="w" d="M690.8 179.0L690.6 178.0L690.3 177.0L689.7 176.1L689.0 175.3L688.3 174.7L687.5 174.4L686.8 174.4L686.2 174.7L685.9 175.3L685.8 176.1L685.9 177.1L686.2 178.1L686.8 179.0L687.5 179.9L688.3 180.4L689.0 180.7L689.7 180.7L690.3 180.4L690.6 179.8L690.8 179.0Z"/>
<path class="w" d="M678.8 148.2L678.7 147.2L678.3 146.2L677.8 145.3L677.1 144.5L676.3 143.9L675.5 143.6L674.8 143.6L674.3 143.9L673.9 144.5L673.8 145.3L673.9 146.3L674.3 147.3L674.8 148.2L675.5 149.1L676.3 149.6L677.1 149.9L677.8 149.9L678.3 149.6L678.7 149.0L678.8 148.2Z"/>
<path class="w" d="M654.9 134.4L654.8 133.4L654.4 132.4L653.9 131.5L653.2 130.7L652.4 130.1L651.6 129.8L650.9 129.8L650.4 130.1L650.0 130.7L649.9 131.5L650.0 132.5L650.4 133.5L650.9 134.4L651.6 135.3L652.4 135.8L653.2 136.1L653.9 136.1L654.4 135.8L654.8 135.2L654.9 134.4Z"/>
<path class="w" d="M642.9 151.4L642.8 150.4L642.5 149.4L641.9 148.5L641.2 147.7L640.5 147.1L639.7 146.8L639.0 146.8L638.4 147.1L638.1 147.7L638.0 148.5L638.1 149.5L638.4 150.5L639.0 151.4L639.7 152.3L640.5 152.8L641.2 153.1L641.9 153.1L642.5 152.8L642.8 152.2L642.9 151.4Z"/>
<path class="w" d="M654.9 182.2L654.8 181.2L654.4 180.2L653.9 179.3L653.2 178.5L652.4 177.9L651.6 177.6L650.9 177.6L650.4 177.9L650.0 178.5L649.9 179.3L650.0 180.3L650.4 181.3L650.9 182.2L651.6 183.1L652.4 183.6L653.2 183.9L653.9 183.9L654.4 183.6L654.8 183.0L654.9 182.2Z"/>
<path class="w" d="M678.8 196.0L678.7 195.0L678.3 194.0L677.8 193.1L677.1 192.3L676.3 191.7L675.5 191.4L674.8 191.4L674.3 191.7L673.9 192.3L673.8 193.1L673.9 194.1L674.3 195.1L674.8 196.0L675.5 196.9L676.3 197.4L677.1 197.7L677.8 197.7L678.3 197.4L678.7 196.8L678.8 196.0Z"/>
<path d="M679.3 172.4L679.1 169.6L678.5 166.6L677.6 163.6L676.4 160.6L674.9 157.7L673.1 154.9L671.1 152.3L669.0 150.1L666.7 148.1L664.4 146.6L662.0 145.4L659.8 144.7L657.6 144.5L655.6 144.8L653.8 145.5L652.3 146.7L651.1 148.3L650.2 150.3L649.6 152.6L649.5 155.2L649.6 158.0L650.2 160.9L651.1 163.9L652.3 166.9L653.8 169.8L655.6 172.6L657.6 175.2L659.8 177.5L662.0 179.4L664.4 181.0L666.7 182.1L669.0 182.8L671.1 183.0L673.1 182.7L674.9 182.0L676.4 180.8L677.6 179.2L678.5 177.3L679.1 174.9ZM653.8 145.5L648.6 148.6M674.9 182.0L669.6 185.0" fill="none" stroke="#000" stroke-width="2.2" stroke-linejoin="round" stroke-linecap="round"/>
<path d="M674.0 175.4L673.8 172.6L679.1 169.6L679.3 172.4ZM673.8 172.6L673.3 169.7L678.5 166.6L679.1 169.6ZM673.3 169.7L672.4 166.7L677.6 163.6L678.5 166.6ZM672.4 166.7L671.1 163.6L676.4 160.6L677.6 163.6ZM671.1 163.6L669.6 160.7L674.9 157.7L676.4 160.6ZM669.6 160.7L667.8 157.9L673.1 154.9L674.9 157.7ZM667.8 157.9L665.9 155.4L671.1 152.3L673.1 154.9ZM665.9 155.4L663.7 153.1L669.0 150.1L671.1 152.3ZM663.7 153.1L661.4 151.2L666.7 148.1L669.0 150.1ZM661.4 151.2L659.1 149.6L664.4 146.6L666.7 148.1ZM659.1 149.6L656.8 148.5L662.0 145.4L664.4 146.6ZM656.8 148.5L654.5 147.8L659.8 144.7L662.0 145.4ZM654.5 147.8L652.3 147.6L657.6 144.5L659.8 144.7ZM652.3 147.6L650.3 147.8L655.6 144.8L657.6 144.5ZM650.3 147.8L648.6 148.6L653.8 145.5L655.6 144.8ZM653.8 145.5L652.3 146.7L647.0 149.7L648.6 148.6ZM652.3 146.7L651.1 148.3L645.8 151.3L647.0 149.7ZM651.1 148.3L650.2 150.3L644.9 153.3L645.8 151.3ZM650.2 150.3L649.6 152.6L644.4 155.6L644.9 153.3ZM649.6 152.6L649.5 155.2L644.2 158.2L644.4 155.6ZM649.5 155.2L649.6 158.0L644.4 161.0L644.2 158.2ZM649.6 158.0L650.2 160.9L644.9 163.9L644.4 161.0ZM650.2 160.9L651.1 163.9L645.8 166.9L644.9 163.9ZM651.1 163.9L652.3 166.9L647.0 170.0L645.8 166.9ZM652.3 166.9L653.8 169.8L648.6 172.9L647.0 170.0ZM653.8 169.8L655.6 172.6L650.3 175.7L648.6 172.9ZM655.6 172.6L657.6 175.2L652.3 178.2L650.3 175.7ZM657.6 175.2L659.8 177.5L654.5 180.5L652.3 178.2ZM659.8 177.5L662.0 179.4L656.8 182.4L654.5 180.5ZM662.0 179.4L664.4 181.0L659.1 184.0L656.8 182.4ZM664.4 181.0L666.7 182.1L661.4 185.1L659.1 184.0ZM666.7 182.1L669.0 182.8L663.7 185.8L661.4 185.1ZM669.0 182.8L671.1 183.0L665.9 186.0L663.7 185.8ZM671.1 183.0L673.1 182.7L667.8 185.8L665.9 186.0ZM673.1 182.7L674.9 182.0L669.6 185.0L667.8 185.8ZM669.6 185.0L671.1 183.9L676.4 180.8L674.9 182.0ZM671.1 183.9L672.4 182.3L677.6 179.2L676.4 180.8ZM672.4 182.3L673.3 180.3L678.5 177.3L677.6 179.2ZM673.3 180.3L673.8 178.0L679.1 174.9L678.5 177.3ZM673.8 178.0L674.0 175.4L679.3 172.4L679.1 174.9ZM679.1 174.9L678.5 177.3L677.6 179.2L676.4 180.8L674.9 182.0L673.1 182.7L671.1 183.0L669.0 182.8L666.7 182.1L664.4 181.0L662.0 179.4L659.8 177.5L657.6 175.2L655.6 172.6L653.8 169.8L652.3 166.9L651.1 163.9L650.2 160.9L649.6 158.0L649.5 155.2L649.6 152.6L650.2 150.3L651.1 148.3L652.3 146.7L653.8 145.5L655.6 144.8L657.6 144.5L659.8 144.7L662.0 145.4L664.4 146.6L666.7 148.1L669.0 150.1L671.1 152.3L673.1 154.9L674.9 157.7L676.4 160.6L677.6 163.6L678.5 166.6L679.1 169.6L679.3 172.4ZM673.8 178.0L673.3 180.3L672.4 182.3L671.1 183.9L669.6 185.0L667.8 185.8L665.9 186.0L663.7 185.8L661.4 185.1L659.1 184.0L656.8 182.4L654.5 180.5L652.3 178.2L650.3 175.7L648.6 172.9L647.0 170.0L645.8 166.9L644.9 163.9L644.4 161.0L644.2 158.2L644.4 155.6L644.9 153.3L645.8 151.3L647.0 149.7L648.6 148.6L650.3 147.8L652.3 147.6L654.5 147.8L656.8 148.5L659.1 149.6L661.4 151.2L663.7 153.1L665.9 155.4L667.8 157.9L669.6 160.7L671.1 163.6L672.4 166.7L673.3 169.7L673.8 172.6L674.0 175.4Z" fill="#fff" stroke="none" fill-rule="nonzero"/>
<path d="M674.0 175.4L673.8 172.6L673.3 169.7L672.4 166.7L671.1 163.6L669.6 160.7L667.8 157.9L665.9 155.4L663.7 153.1L661.4 151.2L659.1 149.6L656.8 148.5L654.5 147.8L652.3 147.6L650.3 147.8L648.6 148.6L647.0 149.7L645.8 151.3L644.9 153.3L644.4 155.6L644.2 158.2L644.4 161.0L644.9 163.9L645.8 166.9L647.0 170.0L648.6 172.9L650.3 175.7L652.3 178.2L654.5 180.5L656.8 182.4L659.1 184.0L661.4 185.1L663.7 185.8L665.9 186.0L667.8 185.8L669.6 185.0L671.1 183.9L672.4 182.3L673.3 180.3L673.8 178.0Z" fill="#fff" stroke="#000" stroke-width="1.1" stroke-linejoin="round"/>
<path d="M651.1 111.4L648.2 103.9L642.4 100.6L639.6 104.7L642.4 112.1L648.2 115.5ZM642.4 100.6L639.5 102.3M648.2 115.5L645.2 117.2" fill="none" stroke="#000" stroke-width="2.2" stroke-linejoin="round" stroke-linecap="round"/>
<path d="M648.1 113.1L645.2 105.7L648.2 103.9L651.1 111.4ZM645.2 105.7L639.5 102.3L642.4 100.6L648.2 103.9ZM642.4 100.6L639.6 104.7L636.6 106.4L639.5 102.3ZM639.6 104.7L642.4 112.1L639.5 113.9L636.6 106.4ZM642.4 112.1L648.2 115.5L645.2 117.2L639.5 113.9ZM645.2 117.2L648.1 113.1L651.1 111.4L648.2 115.5ZM648.2 115.5L642.4 112.1L639.6 104.7L642.4 100.6L648.2 103.9L651.1 111.4ZM645.2 117.2L639.5 113.9L636.6 106.4L639.5 102.3L645.2 105.7L648.1 113.1Z" fill="#fff" stroke="none" fill-rule="nonzero"/>
<path d="M648.1 113.1L645.2 105.7L639.5 102.3L636.6 106.4L639.5 113.9L645.2 117.2Z" fill="#fff" stroke="#000" stroke-width="1.1" stroke-linejoin="round"/>
<path d="M645.3 111.5L645.2 110.5L644.9 109.5L644.4 108.5L643.8 107.6L643.1 106.9L642.3 106.3L641.6 106.0L640.8 105.9L640.2 106.1L639.7 106.6L639.4 107.2L639.3 108.0L639.4 109.0L639.7 110.0L640.2 111.0L640.8 111.9L641.6 112.6L642.3 113.2L643.1 113.5L643.8 113.6L644.4 113.4L644.9 113.0L645.2 112.3ZM640.2 106.1L632.8 110.4M644.4 113.4L637.0 117.7" fill="none" stroke="#000" stroke-width="2.2" stroke-linejoin="round" stroke-linecap="round"/>
<path d="M637.9 115.8L637.8 114.8L645.2 110.5L645.3 111.5ZM637.8 114.8L637.5 113.8L644.9 109.5L645.2 110.5ZM637.5 113.8L637.0 112.8L644.4 108.5L644.9 109.5ZM637.0 112.8L636.4 111.9L643.8 107.6L644.4 108.5ZM636.4 111.9L635.7 111.2L643.1 106.9L643.8 107.6ZM635.7 111.2L634.9 110.6L642.3 106.3L643.1 106.9ZM634.9 110.6L634.1 110.3L641.6 106.0L642.3 106.3ZM634.1 110.3L633.4 110.2L640.8 105.9L641.6 106.0ZM633.4 110.2L632.8 110.4L640.2 106.1L640.8 105.9ZM640.2 106.1L639.7 106.6L632.3 110.8L632.8 110.4ZM639.7 106.6L639.4 107.2L632.0 111.5L632.3 110.8ZM639.4 107.2L639.3 108.0L631.9 112.3L632.0 111.5ZM639.3 108.0L639.4 109.0L632.0 113.3L631.9 112.3ZM639.4 109.0L639.7 110.0L632.3 114.3L632.0 113.3ZM639.7 110.0L640.2 111.0L632.8 115.3L632.3 114.3ZM640.2 111.0L640.8 111.9L633.4 116.2L632.8 115.3ZM640.8 111.9L641.6 112.6L634.1 116.9L633.4 116.2ZM641.6 112.6L642.3 113.2L634.9 117.5L634.1 116.9ZM642.3 113.2L643.1 113.5L635.7 117.8L634.9 117.5ZM643.1 113.5L643.8 113.6L636.4 117.9L635.7 117.8ZM643.8 113.6L644.4 113.4L637.0 117.7L636.4 117.9ZM637.0 117.7L637.5 117.2L644.9 113.0L644.4 113.4ZM637.5 117.2L637.8 116.6L645.2 112.3L644.9 113.0ZM637.8 116.6L637.9 115.8L645.3 111.5L645.2 112.3ZM645.2 112.3L644.9 113.0L644.4 113.4L643.8 113.6L643.1 113.5L642.3 113.2L641.6 112.6L640.8 111.9L640.2 111.0L639.7 110.0L639.4 109.0L639.3 108.0L639.4 107.2L639.7 106.6L640.2 106.1L640.8 105.9L641.6 106.0L642.3 106.3L643.1 106.9L643.8 107.6L644.4 108.5L644.9 109.5L645.2 110.5L645.3 111.5ZM637.8 116.6L637.5 117.2L637.0 117.7L636.4 117.9L635.7 117.8L634.9 117.5L634.1 116.9L633.4 116.2L632.8 115.3L632.3 114.3L632.0 113.3L631.9 112.3L632.0 111.5L632.3 110.8L632.8 110.4L633.4 110.2L634.1 110.3L634.9 110.6L635.7 111.2L636.4 111.9L637.0 112.8L637.5 113.8L637.8 114.8L637.9 115.8Z" fill="#fff" stroke="none" fill-rule="nonzero"/>
<path d="M637.9 115.8L637.8 114.8L637.5 113.8L637.0 112.8L636.4 111.9L635.7 111.2L634.9 110.6L634.1 110.3L633.4 110.2L632.8 110.4L632.3 110.8L632.0 111.5L631.9 112.3L632.0 113.3L632.3 114.3L632.8 115.3L633.4 116.2L634.1 116.9L634.9 117.5L635.7 117.8L636.4 117.9L637.0 117.7L637.5 117.2L637.8 116.6Z" fill="#fff" stroke="#000" stroke-width="1.1" stroke-linejoin="round"/>
<path d="M639.9 116.9L639.8 115.7L639.5 114.5L639.1 113.2L638.4 112.0L637.7 110.9L636.8 109.8L635.9 109.0L634.9 108.3L633.9 107.8L633.0 107.6L632.1 107.7L631.4 107.9L630.8 108.4L630.3 109.2L630.0 110.1L629.9 111.2L630.0 112.3L630.3 113.6L630.8 114.8L631.4 116.1L632.1 117.2L633.0 118.3L633.9 119.1L634.9 119.8L635.9 120.3L636.8 120.5L637.7 120.4L638.4 120.1L639.1 119.6L639.5 118.9L639.8 118.0ZM631.4 107.9L626.2 110.9M638.4 120.1L633.2 123.1" fill="none" stroke="#000" stroke-width="2.2" stroke-linejoin="round" stroke-linecap="round"/>
<path d="M634.7 119.9L634.6 118.7L639.8 115.7L639.9 116.9ZM634.6 118.7L634.3 117.5L639.5 114.5L639.8 115.7ZM634.3 117.5L633.9 116.2L639.1 113.2L639.5 114.5ZM633.9 116.2L633.2 115.0L638.4 112.0L639.1 113.2ZM633.2 115.0L632.5 113.9L637.7 110.9L638.4 112.0ZM632.5 113.9L631.6 112.8L636.8 109.8L637.7 110.9ZM631.6 112.8L630.7 112.0L635.9 109.0L636.8 109.8ZM630.7 112.0L629.7 111.3L634.9 108.3L635.9 109.0ZM629.7 111.3L628.7 110.8L633.9 107.8L634.9 108.3ZM628.7 110.8L627.8 110.6L633.0 107.6L633.9 107.8ZM627.8 110.6L626.9 110.7L632.1 107.7L633.0 107.6ZM626.9 110.7L626.2 110.9L631.4 107.9L632.1 107.7ZM631.4 107.9L630.8 108.4L625.6 111.4L626.2 110.9ZM630.8 108.4L630.3 109.2L625.1 112.2L625.6 111.4ZM630.3 109.2L630.0 110.1L624.8 113.1L625.1 112.2ZM630.0 110.1L629.9 111.2L624.7 114.2L624.8 113.1ZM629.9 111.2L630.0 112.3L624.8 115.3L624.7 114.2ZM630.0 112.3L630.3 113.6L625.1 116.6L624.8 115.3ZM630.3 113.6L630.8 114.8L625.6 117.8L625.1 116.6ZM630.8 114.8L631.4 116.1L626.2 119.1L625.6 117.8ZM631.4 116.1L632.1 117.2L626.9 120.2L626.2 119.1ZM632.1 117.2L633.0 118.3L627.8 121.3L626.9 120.2ZM633.0 118.3L633.9 119.1L628.7 122.1L627.8 121.3ZM633.9 119.1L634.9 119.8L629.7 122.8L628.7 122.1ZM634.9 119.8L635.9 120.3L630.7 123.3L629.7 122.8ZM635.9 120.3L636.8 120.5L631.6 123.5L630.7 123.3ZM636.8 120.5L637.7 120.4L632.5 123.4L631.6 123.5ZM637.7 120.4L638.4 120.1L633.2 123.1L632.5 123.4ZM633.2 123.1L633.9 122.6L639.1 119.6L638.4 120.1ZM633.9 122.6L634.3 121.9L639.5 118.9L639.1 119.6ZM634.3 121.9L634.6 121.0L639.8 118.0L639.5 118.9ZM634.6 121.0L634.7 119.9L639.9 116.9L639.8 118.0ZM639.8 118.0L639.5 118.9L639.1 119.6L638.4 120.1L637.7 120.4L636.8 120.5L635.9 120.3L634.9 119.8L633.9 119.1L633.0 118.3L632.1 117.2L631.4 116.1L630.8 114.8L630.3 113.6L630.0 112.3L629.9 111.2L630.0 110.1L630.3 109.2L630.8 108.4L631.4 107.9L632.1 107.7L633.0 107.6L633.9 107.8L634.9 108.3L635.9 109.0L636.8 109.8L637.7 110.9L638.4 112.0L639.1 113.2L639.5 114.5L639.8 115.7L639.9 116.9ZM634.6 121.0L634.3 121.9L633.9 122.6L633.2 123.1L632.5 123.4L631.6 123.5L630.7 123.3L629.7 122.8L628.7 122.1L627.8 121.3L626.9 120.2L626.2 119.1L625.6 117.8L625.1 116.6L624.8 115.3L624.7 114.2L624.8 113.1L625.1 112.2L625.6 111.4L626.2 110.9L626.9 110.7L627.8 110.6L628.7 110.8L629.7 111.3L630.7 112.0L631.6 112.8L632.5 113.9L633.2 115.0L633.9 116.2L634.3 117.5L634.6 118.7L634.7 119.9Z" fill="#fff" stroke="none" fill-rule="nonzero"/>
<path d="M634.7 119.9L634.6 118.7L634.3 117.5L633.9 116.2L633.2 115.0L632.5 113.9L631.6 112.8L630.7 112.0L629.7 111.3L628.7 110.8L627.8 110.6L626.9 110.7L626.2 110.9L625.6 111.4L625.1 112.2L624.8 113.1L624.7 114.2L624.8 115.3L625.1 116.6L625.6 117.8L626.2 119.1L626.9 120.2L627.8 121.3L628.7 122.1L629.7 122.8L630.7 123.3L631.6 123.5L632.5 123.4L633.2 123.1L633.9 122.6L634.3 121.9L634.6 121.0Z" fill="#fff" stroke="#000" stroke-width="1.1" stroke-linejoin="round"/>
<path d="M634.7 119.9L634.6 118.7L634.3 117.5L633.9 116.2L633.2 115.0L632.5 113.9L631.6 112.8L630.7 112.0L629.7 111.3L628.7 110.8L627.8 110.6L626.9 110.7L626.2 110.9L625.6 111.4L625.1 112.2L624.8 113.1L624.7 114.2L624.8 115.3L625.1 116.6L625.6 117.8L626.2 119.1L626.9 120.2L627.8 121.3L628.7 122.1L629.7 122.8L630.7 123.3L631.6 123.5L632.5 123.4L633.2 123.1L633.9 122.6L634.3 121.9L634.6 121.0ZM626.2 110.9L615.8 116.9M633.2 123.1L622.9 129.1" fill="none" stroke="#000" stroke-width="2.2" stroke-linejoin="round" stroke-linecap="round"/>
<path d="M624.3 125.9L624.2 124.7L634.6 118.7L634.7 119.9ZM624.2 124.7L623.9 123.5L634.3 117.5L634.6 118.7ZM623.9 123.5L623.5 122.2L633.9 116.2L634.3 117.5ZM623.5 122.2L622.9 121.0L633.2 115.0L633.9 116.2ZM622.9 121.0L622.1 119.9L632.5 113.9L633.2 115.0ZM622.1 119.9L621.2 118.8L631.6 112.8L632.5 113.9ZM621.2 118.8L620.3 118.0L630.7 112.0L631.6 112.8ZM620.3 118.0L619.3 117.3L629.7 111.3L630.7 112.0ZM619.3 117.3L618.4 116.8L628.7 110.8L629.7 111.3ZM618.4 116.8L617.4 116.6L627.8 110.6L628.7 110.8ZM617.4 116.6L616.6 116.7L626.9 110.7L627.8 110.6ZM616.6 116.7L615.8 116.9L626.2 110.9L626.9 110.7ZM626.2 110.9L625.6 111.4L615.2 117.4L615.8 116.9ZM625.6 111.4L625.1 112.2L614.7 118.2L615.2 117.4ZM625.1 112.2L624.8 113.1L614.4 119.1L614.7 118.2ZM624.8 113.1L624.7 114.2L614.3 120.2L614.4 119.1ZM624.7 114.2L624.8 115.3L614.4 121.3L614.3 120.2ZM624.8 115.3L625.1 116.6L614.7 122.6L614.4 121.3ZM625.1 116.6L625.6 117.8L615.2 123.8L614.7 122.6ZM625.6 117.8L626.2 119.1L615.8 125.1L615.2 123.8ZM626.2 119.1L626.9 120.2L616.6 126.2L615.8 125.1ZM626.9 120.2L627.8 121.3L617.4 127.3L616.6 126.2ZM627.8 121.3L628.7 122.1L618.4 128.1L617.4 127.3ZM628.7 122.1L629.7 122.8L619.3 128.8L618.4 128.1ZM629.7 122.8L630.7 123.3L620.3 129.3L619.3 128.8ZM630.7 123.3L631.6 123.5L621.2 129.5L620.3 129.3ZM631.6 123.5L632.5 123.4L622.1 129.4L621.2 129.5ZM632.5 123.4L633.2 123.1L622.9 129.1L622.1 129.4ZM622.9 129.1L623.5 128.6L633.9 122.6L633.2 123.1ZM623.5 128.6L623.9 127.9L634.3 121.9L633.9 122.6ZM623.9 127.9L624.2 127.0L634.6 121.0L634.3 121.9ZM624.2 127.0L624.3 125.9L634.7 119.9L634.6 121.0ZM634.6 121.0L634.3 121.9L633.9 122.6L633.2 123.1L632.5 123.4L631.6 123.5L630.7 123.3L629.7 122.8L628.7 122.1L627.8 121.3L626.9 120.2L626.2 119.1L625.6 117.8L625.1 116.6L624.8 115.3L624.7 114.2L624.8 113.1L625.1 112.2L625.6 111.4L626.2 110.9L626.9 110.7L627.8 110.6L628.7 110.8L629.7 111.3L630.7 112.0L631.6 112.8L632.5 113.9L633.2 115.0L633.9 116.2L634.3 117.5L634.6 118.7L634.7 119.9ZM624.2 127.0L623.9 127.9L623.5 128.6L622.9 129.1L622.1 129.4L621.2 129.5L620.3 129.3L619.3 128.8L618.4 128.1L617.4 127.3L616.6 126.2L615.8 125.1L615.2 123.8L614.7 122.6L614.4 121.3L614.3 120.2L614.4 119.1L614.7 118.2L615.2 117.4L615.8 116.9L616.6 116.7L617.4 116.6L618.4 116.8L619.3 117.3L620.3 118.0L621.2 118.8L622.1 119.9L622.9 121.0L623.5 122.2L623.9 123.5L624.2 124.7L624.3 125.9Z" fill="#fff" stroke="none" fill-rule="nonzero"/>
<path d="M624.3 125.9L624.2 124.7L623.9 123.5L623.5 122.2L622.9 121.0L622.1 119.9L621.2 118.8L620.3 118.0L619.3 117.3L618.4 116.8L617.4 116.6L616.6 116.7L615.8 116.9L615.2 117.4L614.7 118.2L614.4 119.1L614.3 120.2L614.4 121.3L614.7 122.6L615.2 123.8L615.8 125.1L616.6 126.2L617.4 127.3L618.4 128.1L619.3 128.8L620.3 129.3L621.2 129.5L622.1 129.4L622.9 129.1L623.5 128.6L623.9 127.9L624.2 127.0Z" fill="#fff" stroke="#000" stroke-width="1.1" stroke-linejoin="round"/>
<circle class="k" cx="621.1" cy="127.2" r="0.8"/>
<path d="M661.5 205.1L658.2 204.3L654.5 203.3L650.4 202.0L646.1 200.5L641.5 198.8L636.8 197.0L632.0 195.0L627.2 192.9L622.6 190.7L618.1 188.5L613.9 186.3L610.0 184.1L606.5 182.0L603.5 180.0L601.0 178.2L599.1 176.6L597.7 175.2L596.9 174.0L596.8 173.0L597.3 172.4L598.4 172.0L600.1 171.9L602.4 172.1L605.2 172.6L608.5 173.3L612.2 174.3L616.3 175.6L620.6 177.1L625.2 178.8L629.9 180.7L634.7 182.7L639.5 184.8L644.1 187.0L648.6 189.2L652.8 191.4L656.7 193.6L660.2 195.6L663.2 197.6L665.7 199.4L667.7 201.0L669.0 202.5L669.8 203.7L669.9 204.6L669.4 205.3L668.3 205.7L666.6 205.8L664.3 205.6ZM596.8 173.0L601.3 163.3M669.9 204.6L674.4 194.8" fill="none" stroke="#000" stroke-width="2.6" stroke-linejoin="round" stroke-linecap="round"/>
<path d="M661.5 205.1L658.2 204.3L662.7 194.5L666.0 195.3ZM658.2 204.3L654.5 203.3L659.0 193.5L662.7 194.5ZM654.5 203.3L650.4 202.0L654.9 192.3L659.0 193.5ZM650.4 202.0L646.1 200.5L650.5 190.8L654.9 192.3ZM646.1 200.5L641.5 198.8L646.0 189.1L650.5 190.8ZM641.5 198.8L636.8 197.0L641.2 187.2L646.0 189.1ZM636.8 197.0L632.0 195.0L636.4 185.2L641.2 187.2ZM632.0 195.0L627.2 192.9L631.7 183.1L636.4 185.2ZM627.2 192.9L622.6 190.7L627.0 180.9L631.7 183.1ZM622.6 190.7L618.1 188.5L622.6 178.7L627.0 180.9ZM618.1 188.5L613.9 186.3L618.4 176.5L622.6 178.7ZM613.9 186.3L610.0 184.1L614.5 174.3L618.4 176.5ZM610.0 184.1L606.5 182.0L611.0 172.2L614.5 174.3ZM606.5 182.0L603.5 180.0L608.0 170.3L611.0 172.2ZM603.5 180.0L601.0 178.2L605.5 168.4L608.0 170.3ZM601.0 178.2L599.1 176.6L603.5 166.8L605.5 168.4ZM599.1 176.6L597.7 175.2L602.2 165.4L603.5 166.8ZM597.7 175.2L596.9 174.0L601.4 164.2L602.2 165.4ZM596.9 174.0L596.8 173.0L601.3 163.3L601.4 164.2ZM601.3 163.3L601.8 162.6L597.3 172.4L596.8 173.0ZM601.8 162.6L602.9 162.2L598.4 172.0L597.3 172.4ZM602.9 162.2L604.6 162.1L600.1 171.9L598.4 172.0ZM604.6 162.1L606.9 162.3L602.4 172.1L600.1 171.9ZM606.9 162.3L609.7 162.8L605.2 172.6L602.4 172.1ZM609.7 162.8L612.9 163.5L608.5 173.3L605.2 172.6ZM612.9 163.5L616.7 164.6L612.2 174.3L608.5 173.3ZM616.7 164.6L620.7 165.8L616.3 175.6L612.2 174.3ZM620.7 165.8L625.1 167.3L620.6 177.1L616.3 175.6ZM625.1 167.3L629.7 169.0L625.2 178.8L620.6 177.1ZM629.7 169.0L634.4 170.9L629.9 180.7L625.2 178.8ZM634.4 170.9L639.2 172.9L634.7 182.7L629.9 180.7ZM639.2 172.9L644.0 175.0L639.5 184.8L634.7 182.7ZM644.0 175.0L648.6 177.2L644.1 187.0L639.5 184.8ZM648.6 177.2L653.1 179.4L648.6 189.2L644.1 187.0ZM653.1 179.4L657.3 181.6L652.8 191.4L648.6 189.2ZM657.3 181.6L661.2 183.8L656.7 193.6L652.8 191.4ZM661.2 183.8L664.6 185.9L660.2 195.6L656.7 193.6ZM664.6 185.9L667.7 187.8L663.2 197.6L660.2 195.6ZM667.7 187.8L670.2 189.6L665.7 199.4L663.2 197.6ZM670.2 189.6L672.1 191.3L667.7 201.0L665.7 199.4ZM672.1 191.3L673.5 192.7L669.0 202.5L667.7 201.0ZM673.5 192.7L674.2 193.9L669.8 203.7L669.0 202.5ZM674.2 193.9L674.4 194.8L669.9 204.6L669.8 203.7ZM669.9 204.6L669.4 205.3L673.9 195.5L674.4 194.8ZM669.4 205.3L668.3 205.7L672.8 195.9L673.9 195.5ZM668.3 205.7L666.6 205.8L671.1 196.0L672.8 195.9ZM666.6 205.8L664.3 205.6L668.8 195.8L671.1 196.0ZM664.3 205.6L661.5 205.1L666.0 195.3L668.8 195.8ZM661.5 205.1L658.2 204.3L654.5 203.3L650.4 202.0L646.1 200.5L641.5 198.8L636.8 197.0L632.0 195.0L627.2 192.9L622.6 190.7L618.1 188.5L613.9 186.3L610.0 184.1L606.5 182.0L603.5 180.0L601.0 178.2L599.1 176.6L597.7 175.2L596.9 174.0L596.8 173.0L597.3 172.4L598.4 172.0L600.1 171.9L602.4 172.1L605.2 172.6L608.5 173.3L612.2 174.3L616.3 175.6L620.6 177.1L625.2 178.8L629.9 180.7L634.7 182.7L639.5 184.8L644.1 187.0L648.6 189.2L652.8 191.4L656.7 193.6L660.2 195.6L663.2 197.6L665.7 199.4L667.7 201.0L669.0 202.5L669.8 203.7L669.9 204.6L669.4 205.3L668.3 205.7L666.6 205.8L664.3 205.6ZM666.0 195.3L662.7 194.5L659.0 193.5L654.9 192.3L650.5 190.8L646.0 189.1L641.2 187.2L636.4 185.2L631.7 183.1L627.0 180.9L622.6 178.7L618.4 176.5L614.5 174.3L611.0 172.2L608.0 170.3L605.5 168.4L603.5 166.8L602.2 165.4L601.4 164.2L601.3 163.3L601.8 162.6L602.9 162.2L604.6 162.1L606.9 162.3L609.7 162.8L612.9 163.5L616.7 164.6L620.7 165.8L625.1 167.3L629.7 169.0L634.4 170.9L639.2 172.9L644.0 175.0L648.6 177.2L653.1 179.4L657.3 181.6L661.2 183.8L664.6 185.9L667.7 187.8L670.2 189.6L672.1 191.3L673.5 192.7L674.2 193.9L674.4 194.8L673.9 195.5L672.8 195.9L671.1 196.0L668.8 195.8Z" fill="#fff" stroke="none"/>
<path d="M666.0 195.3L662.7 194.5L659.0 193.5L654.9 192.3L650.5 190.8L646.0 189.1L641.2 187.2L636.4 185.2L631.7 183.1L627.0 180.9L622.6 178.7L618.4 176.5L614.5 174.3L611.0 172.2L608.0 170.3L605.5 168.4L603.5 166.8L602.2 165.4L601.4 164.2L601.3 163.3L601.8 162.6L602.9 162.2L604.6 162.1L606.9 162.3L609.7 162.8L612.9 163.5L616.7 164.6L620.7 165.8L625.1 167.3L629.7 169.0L634.4 170.9L639.2 172.9L644.0 175.0L648.6 177.2L653.1 179.4L657.3 181.6L661.2 183.8L664.6 185.9L667.7 187.8L670.2 189.6L672.1 191.3L673.5 192.7L674.2 193.9L674.4 194.8L673.9 195.5L672.8 195.9L671.1 196.0L668.8 195.8Z" fill="#fff" stroke="#000" stroke-width="1.3" stroke-linejoin="round"/>
<path class="w" d="M680.6 159.0L638.4 183.4L636.0 188.6L659.9 195.6L670.9 198L684.1 190.3C686 188 686.6 186 686.4 183.2C686 175 683.5 168 680.6 159.0Z"/>
<path class="k" d="M659.9 195.4L685.8 181.4"/>
<circle class="k" cx="670.1" cy="193.8" r="1.1"/><circle class="k" cx="683.2" cy="186.2" r="1.1"/>
<path class="w" d="M592.5 163.5L636.0 188.6L638.4 183.4L594.9 158.3Z"/>
<path class="w" d="M637.2 133.9L680.6 159.0L638.4 183.4L594.9 158.3Z"/>
<ellipse class="k" cx="638.3" cy="141.0" rx="1.2" ry="0.8"/>
<ellipse class="k" cx="669.1" cy="158.8" rx="1.2" ry="0.8"/>
<ellipse class="k" cx="612.1" cy="159.6" rx="1.5" ry="1"/>
<ellipse class="k" cx="608.0" cy="159.1" rx="1.1" ry="0.8"/>
<ellipse class="k" cx="636.6" cy="173.8" rx="1.5" ry="1"/>
<ellipse class="k" cx="637.5" cy="176.1" rx="1.1" ry="0.8"/>
<rect class="k" x="599.3" y="164.2" width="1.8" height="1.8"/>
<rect class="k" x="620.1" y="176.2" width="1.8" height="1.8"/>
<path d="M708.3 211.5L705.5 204.1L699.7 200.7L696.8 204.8L699.7 212.3L705.5 215.6ZM699.7 200.7L696.7 202.5M705.5 215.6L702.5 217.3" fill="none" stroke="#000" stroke-width="2.2" stroke-linejoin="round" stroke-linecap="round"/>
<path d="M705.4 213.2L702.5 205.8L705.5 204.1L708.3 211.5ZM702.5 205.8L696.7 202.5L699.7 200.7L705.5 204.1ZM699.7 200.7L696.8 204.8L693.9 206.6L696.7 202.5ZM696.8 204.8L699.7 212.3L696.7 214.0L693.9 206.6ZM699.7 212.3L705.5 215.6L702.5 217.3L696.7 214.0ZM702.5 217.3L705.4 213.2L708.3 211.5L705.5 215.6ZM705.5 215.6L699.7 212.3L696.8 204.8L699.7 200.7L705.5 204.1L708.3 211.5ZM702.5 217.3L696.7 214.0L693.9 206.6L696.7 202.5L702.5 205.8L705.4 213.2Z" fill="#fff" stroke="none" fill-rule="nonzero"/>
<path d="M705.4 213.2L702.5 205.8L696.7 202.5L693.9 206.6L696.7 214.0L702.5 217.3Z" fill="#fff" stroke="#000" stroke-width="1.1" stroke-linejoin="round"/>
<path d="M702.6 211.6L702.5 210.7L702.2 209.6L701.7 208.7L701.1 207.8L700.4 207.0L699.6 206.4L698.8 206.1L698.1 206.0L697.5 206.2L697.0 206.7L696.7 207.3L696.6 208.2L696.7 209.1L697.0 210.1L697.5 211.1L698.1 212.0L698.8 212.8L699.6 213.3L700.4 213.6L701.1 213.7L701.7 213.5L702.2 213.1L702.5 212.4ZM697.5 206.2L690.1 210.5M701.7 213.5L694.3 217.8" fill="none" stroke="#000" stroke-width="2.2" stroke-linejoin="round" stroke-linecap="round"/>
<path d="M695.2 215.9L695.1 214.9L702.5 210.7L702.6 211.6ZM695.1 214.9L694.8 213.9L702.2 209.6L702.5 210.7ZM694.8 213.9L694.3 212.9L701.7 208.7L702.2 209.6ZM694.3 212.9L693.7 212.0L701.1 207.8L701.7 208.7ZM693.7 212.0L693.0 211.3L700.4 207.0L701.1 207.8ZM693.0 211.3L692.2 210.7L699.6 206.4L700.4 207.0ZM692.2 210.7L691.4 210.4L698.8 206.1L699.6 206.4ZM691.4 210.4L690.7 210.3L698.1 206.0L698.8 206.1ZM690.7 210.3L690.1 210.5L697.5 206.2L698.1 206.0ZM697.5 206.2L697.0 206.7L689.6 211.0L690.1 210.5ZM697.0 206.7L696.7 207.3L689.3 211.6L689.6 211.0ZM696.7 207.3L696.6 208.2L689.2 212.4L689.3 211.6ZM696.6 208.2L696.7 209.1L689.3 213.4L689.2 212.4ZM696.7 209.1L697.0 210.1L689.6 214.4L689.3 213.4ZM697.0 210.1L697.5 211.1L690.1 215.4L689.6 214.4ZM697.5 211.1L698.1 212.0L690.7 216.3L690.1 215.4ZM698.1 212.0L698.8 212.8L691.4 217.0L690.7 216.3ZM698.8 212.8L699.6 213.3L692.2 217.6L691.4 217.0ZM699.6 213.3L700.4 213.6L693.0 217.9L692.2 217.6ZM700.4 213.6L701.1 213.7L693.7 218.0L693.0 217.9ZM701.1 213.7L701.7 213.5L694.3 217.8L693.7 218.0ZM694.3 217.8L694.8 217.4L702.2 213.1L701.7 213.5ZM694.8 217.4L695.1 216.7L702.5 212.4L702.2 213.1ZM695.1 216.7L695.2 215.9L702.6 211.6L702.5 212.4ZM702.5 212.4L702.2 213.1L701.7 213.5L701.1 213.7L700.4 213.6L699.6 213.3L698.8 212.8L698.1 212.0L697.5 211.1L697.0 210.1L696.7 209.1L696.6 208.2L696.7 207.3L697.0 206.7L697.5 206.2L698.1 206.0L698.8 206.1L699.6 206.4L700.4 207.0L701.1 207.8L701.7 208.7L702.2 209.6L702.5 210.7L702.6 211.6ZM695.1 216.7L694.8 217.4L694.3 217.8L693.7 218.0L693.0 217.9L692.2 217.6L691.4 217.0L690.7 216.3L690.1 215.4L689.6 214.4L689.3 213.4L689.2 212.4L689.3 211.6L689.6 211.0L690.1 210.5L690.7 210.3L691.4 210.4L692.2 210.7L693.0 211.3L693.7 212.0L694.3 212.9L694.8 213.9L695.1 214.9L695.2 215.9Z" fill="#fff" stroke="none" fill-rule="nonzero"/>
<path d="M695.2 215.9L695.1 214.9L694.8 213.9L694.3 212.9L693.7 212.0L693.0 211.3L692.2 210.7L691.4 210.4L690.7 210.3L690.1 210.5L689.6 211.0L689.3 211.6L689.2 212.4L689.3 213.4L689.6 214.4L690.1 215.4L690.7 216.3L691.4 217.0L692.2 217.6L693.0 217.9L693.7 218.0L694.3 217.8L694.8 217.4L695.1 216.7Z" fill="#fff" stroke="#000" stroke-width="1.1" stroke-linejoin="round"/>
<path d="M697.2 217.0L697.1 215.9L696.8 214.6L696.4 213.4L695.7 212.1L695.0 211.0L694.1 209.9L693.2 209.1L692.2 208.4L691.2 207.9L690.3 207.7L689.4 207.8L688.7 208.1L688.1 208.6L687.6 209.3L687.3 210.2L687.2 211.3L687.3 212.5L687.6 213.7L688.1 215.0L688.7 216.2L689.4 217.3L690.3 218.4L691.2 219.2L692.2 219.9L693.2 220.4L694.1 220.6L695.0 220.5L695.7 220.3L696.4 219.8L696.8 219.0L697.1 218.1ZM688.7 208.1L683.5 211.1M695.7 220.3L690.5 223.3" fill="none" stroke="#000" stroke-width="2.2" stroke-linejoin="round" stroke-linecap="round"/>
<path d="M692.0 220.0L691.9 218.9L697.1 215.9L697.2 217.0ZM691.9 218.9L691.6 217.6L696.8 214.6L697.1 215.9ZM691.6 217.6L691.2 216.4L696.4 213.4L696.8 214.6ZM691.2 216.4L690.5 215.1L695.7 212.1L696.4 213.4ZM690.5 215.1L689.8 214.0L695.0 211.0L695.7 212.1ZM689.8 214.0L688.9 212.9L694.1 209.9L695.0 211.0ZM688.9 212.9L688.0 212.1L693.2 209.1L694.1 209.9ZM688.0 212.1L687.0 211.4L692.2 208.4L693.2 209.1ZM687.0 211.4L686.0 210.9L691.2 207.9L692.2 208.4ZM686.0 210.9L685.1 210.7L690.3 207.7L691.2 207.9ZM685.1 210.7L684.2 210.8L689.4 207.8L690.3 207.7ZM684.2 210.8L683.5 211.1L688.7 208.1L689.4 207.8ZM688.7 208.1L688.1 208.6L682.9 211.6L683.5 211.1ZM688.1 208.6L687.6 209.3L682.4 212.3L682.9 211.6ZM687.6 209.3L687.3 210.2L682.1 213.2L682.4 212.3ZM687.3 210.2L687.2 211.3L682.0 214.3L682.1 213.2ZM687.2 211.3L687.3 212.5L682.1 215.5L682.0 214.3ZM687.3 212.5L687.6 213.7L682.4 216.7L682.1 215.5ZM687.6 213.7L688.1 215.0L682.9 218.0L682.4 216.7ZM688.1 215.0L688.7 216.2L683.5 219.2L682.9 218.0ZM688.7 216.2L689.4 217.3L684.2 220.3L683.5 219.2ZM689.4 217.3L690.3 218.4L685.1 221.4L684.2 220.3ZM690.3 218.4L691.2 219.2L686.0 222.2L685.1 221.4ZM691.2 219.2L692.2 219.9L687.0 222.9L686.0 222.2ZM692.2 219.9L693.2 220.4L688.0 223.4L687.0 222.9ZM693.2 220.4L694.1 220.6L688.9 223.6L688.0 223.4ZM694.1 220.6L695.0 220.5L689.8 223.5L688.9 223.6ZM695.0 220.5L695.7 220.3L690.5 223.3L689.8 223.5ZM690.5 223.3L691.2 222.8L696.4 219.8L695.7 220.3ZM691.2 222.8L691.6 222.0L696.8 219.0L696.4 219.8ZM691.6 222.0L691.9 221.1L697.1 218.1L696.8 219.0ZM691.9 221.1L692.0 220.0L697.2 217.0L697.1 218.1ZM697.1 218.1L696.8 219.0L696.4 219.8L695.7 220.3L695.0 220.5L694.1 220.6L693.2 220.4L692.2 219.9L691.2 219.2L690.3 218.4L689.4 217.3L688.7 216.2L688.1 215.0L687.6 213.7L687.3 212.5L687.2 211.3L687.3 210.2L687.6 209.3L688.1 208.6L688.7 208.1L689.4 207.8L690.3 207.7L691.2 207.9L692.2 208.4L693.2 209.1L694.1 209.9L695.0 211.0L695.7 212.1L696.4 213.4L696.8 214.6L697.1 215.9L697.2 217.0ZM691.9 221.1L691.6 222.0L691.2 222.8L690.5 223.3L689.8 223.5L688.9 223.6L688.0 223.4L687.0 222.9L686.0 222.2L685.1 221.4L684.2 220.3L683.5 219.2L682.9 218.0L682.4 216.7L682.1 215.5L682.0 214.3L682.1 213.2L682.4 212.3L682.9 211.6L683.5 211.1L684.2 210.8L685.1 210.7L686.0 210.9L687.0 211.4L688.0 212.1L688.9 212.9L689.8 214.0L690.5 215.1L691.2 216.4L691.6 217.6L691.9 218.9L692.0 220.0Z" fill="#fff" stroke="none" fill-rule="nonzero"/>
<path d="M692.0 220.0L691.9 218.9L691.6 217.6L691.2 216.4L690.5 215.1L689.8 214.0L688.9 212.9L688.0 212.1L687.0 211.4L686.0 210.9L685.1 210.7L684.2 210.8L683.5 211.1L682.9 211.6L682.4 212.3L682.1 213.2L682.0 214.3L682.1 215.5L682.4 216.7L682.9 218.0L683.5 219.2L684.2 220.3L685.1 221.4L686.0 222.2L687.0 222.9L688.0 223.4L688.9 223.6L689.8 223.5L690.5 223.3L691.2 222.8L691.6 222.0L691.9 221.1Z" fill="#fff" stroke="#000" stroke-width="1.1" stroke-linejoin="round"/>
<path d="M692.0 220.0L691.9 218.9L691.6 217.6L691.2 216.4L690.5 215.1L689.8 214.0L688.9 212.9L688.0 212.1L687.0 211.4L686.0 210.9L685.1 210.7L684.2 210.8L683.5 211.1L682.9 211.6L682.4 212.3L682.1 213.2L682.0 214.3L682.1 215.5L682.4 216.7L682.9 218.0L683.5 219.2L684.2 220.3L685.1 221.4L686.0 222.2L687.0 222.9L688.0 223.4L688.9 223.6L689.8 223.5L690.5 223.3L691.2 222.8L691.6 222.0L691.9 221.1ZM683.5 211.1L673.1 217.1M690.5 223.3L680.1 229.3" fill="none" stroke="#000" stroke-width="2.2" stroke-linejoin="round" stroke-linecap="round"/>
<path d="M681.6 226.0L681.5 224.9L691.9 218.9L692.0 220.0ZM681.5 224.9L681.2 223.6L691.6 217.6L691.9 218.9ZM681.2 223.6L680.8 222.4L691.2 216.4L691.6 217.6ZM680.8 222.4L680.1 221.1L690.5 215.1L691.2 216.4ZM680.1 221.1L679.4 220.0L689.8 214.0L690.5 215.1ZM679.4 220.0L678.5 218.9L688.9 212.9L689.8 214.0ZM678.5 218.9L677.6 218.1L688.0 212.1L688.9 212.9ZM677.6 218.1L676.6 217.4L687.0 211.4L688.0 212.1ZM676.6 217.4L675.6 216.9L686.0 210.9L687.0 211.4ZM675.6 216.9L674.7 216.7L685.1 210.7L686.0 210.9ZM674.7 216.7L673.8 216.8L684.2 210.8L685.1 210.7ZM673.8 216.8L673.1 217.1L683.5 211.1L684.2 210.8ZM683.5 211.1L682.9 211.6L672.5 217.6L673.1 217.1ZM682.9 211.6L682.4 212.3L672.0 218.3L672.5 217.6ZM682.4 212.3L682.1 213.2L671.7 219.2L672.0 218.3ZM682.1 213.2L682.0 214.3L671.6 220.3L671.7 219.2ZM682.0 214.3L682.1 215.5L671.7 221.5L671.6 220.3ZM682.1 215.5L682.4 216.7L672.0 222.7L671.7 221.5ZM682.4 216.7L682.9 218.0L672.5 224.0L672.0 222.7ZM682.9 218.0L683.5 219.2L673.1 225.2L672.5 224.0ZM683.5 219.2L684.2 220.3L673.8 226.3L673.1 225.2ZM684.2 220.3L685.1 221.4L674.7 227.4L673.8 226.3ZM685.1 221.4L686.0 222.2L675.6 228.2L674.7 227.4ZM686.0 222.2L687.0 222.9L676.6 228.9L675.6 228.2ZM687.0 222.9L688.0 223.4L677.6 229.4L676.6 228.9ZM688.0 223.4L688.9 223.6L678.5 229.6L677.6 229.4ZM688.9 223.6L689.8 223.5L679.4 229.5L678.5 229.6ZM689.8 223.5L690.5 223.3L680.1 229.3L679.4 229.5ZM680.1 229.3L680.8 228.8L691.2 222.8L690.5 223.3ZM680.8 228.8L681.2 228.0L691.6 222.0L691.2 222.8ZM681.2 228.0L681.5 227.1L691.9 221.1L691.6 222.0ZM681.5 227.1L681.6 226.0L692.0 220.0L691.9 221.1ZM691.9 221.1L691.6 222.0L691.2 222.8L690.5 223.3L689.8 223.5L688.9 223.6L688.0 223.4L687.0 222.9L686.0 222.2L685.1 221.4L684.2 220.3L683.5 219.2L682.9 218.0L682.4 216.7L682.1 215.5L682.0 214.3L682.1 213.2L682.4 212.3L682.9 211.6L683.5 211.1L684.2 210.8L685.1 210.7L686.0 210.9L687.0 211.4L688.0 212.1L688.9 212.9L689.8 214.0L690.5 215.1L691.2 216.4L691.6 217.6L691.9 218.9L692.0 220.0ZM681.5 227.1L681.2 228.0L680.8 228.8L680.1 229.3L679.4 229.5L678.5 229.6L677.6 229.4L676.6 228.9L675.6 228.2L674.7 227.4L673.8 226.3L673.1 225.2L672.5 224.0L672.0 222.7L671.7 221.5L671.6 220.3L671.7 219.2L672.0 218.3L672.5 217.6L673.1 217.1L673.8 216.8L674.7 216.7L675.6 216.9L676.6 217.4L677.6 218.1L678.5 218.9L679.4 220.0L680.1 221.1L680.8 222.4L681.2 223.6L681.5 224.9L681.6 226.0Z" fill="#fff" stroke="none" fill-rule="nonzero"/>
<path d="M681.6 226.0L681.5 224.9L681.2 223.6L680.8 222.4L680.1 221.1L679.4 220.0L678.5 218.9L677.6 218.1L676.6 217.4L675.6 216.9L674.7 216.7L673.8 216.8L673.1 217.1L672.5 217.6L672.0 218.3L671.7 219.2L671.6 220.3L671.7 221.5L672.0 222.7L672.5 224.0L673.1 225.2L673.8 226.3L674.7 227.4L675.6 228.2L676.6 228.9L677.6 229.4L678.5 229.6L679.4 229.5L680.1 229.3L680.8 228.8L681.2 228.0L681.5 227.1Z" fill="#fff" stroke="#000" stroke-width="1.1" stroke-linejoin="round"/>
<circle class="k" cx="678.4" cy="227.4" r="0.8"/>
</g>
<g id="front">
<path class="d" d="M230.5 390.3H269.7M230.5 472.8H273.5M237.9 394V418.5M237.9 444.5V469"/>
<path class="d" d="M283 478.8V515.9M365.5 485.9V515.9M267.9 507.6H279M369.5 507.6H380.9"/>
<path class="d" d="M233.5 361.8H248.2L279.5 387.5"/>
<path class="a" d="M237.9 390.3L236.4 396.6H239.4ZM237.9 472.8L236.4 466.5H239.4ZM283 507.6L276.7 506.1V509.1ZM365.5 507.6L371.8 506.1V509.1ZM281.5 389L276 386.8L278 384.3Z"/>
<path d="M283 398V466M274 472.8H357.5M270 390.3H293" fill="none" stroke="#9a9a9a" stroke-width="0.9"/>
<path d="M274.2 431.4H370.6" fill="none" stroke="#333" stroke-width="0.7" stroke-dasharray="33 2.5 5 2.5"/>
<path d="M324.6 381.5V481.5" fill="none" stroke="#333" stroke-width="0.7" stroke-dasharray="38 2.5 5 2.5"/>
<path class="k" d="M274.9 393.3 C278.5 398.5 283.6 402.5 283.4 408.5 C279.5 415.5 277.5 423.5 277.5 431.4 C277.5 439 279.5 446 281.9 449.4 C283.6 453.5 284.3 458.5 282.6 460.4 C278.2 463.4 274.2 467.5 273.8 473.4 C273.8 478.5 277.8 482.1 282.8 482.1 C288.5 482.1 292.2 477.2 296.6 473.6 C299.5 471.6 303 472.3 306.2 474.2 C312 477.2 318 478.8 324.6 478.8 C331.5 478.8 338 476.8 343.4 473.4 C346.5 471.6 350.3 471.6 352.9 474 C356.6 478.1 361 482.5 366.2 482.5 C372 482.3 376.5 475.5 380.1 469.3 L385.7 460.1 L362.9 449.8 M365.1 445.4 L387.5 456 C389.2 452.5 390.3 448.5 390.1 445.5 C389.9 441.5 387.5 439.3 382.5 437.2 C378 435.2 373.5 434 372.1 430.5 C371.8 405.5 351 384.6 324.6 384.6 C315 384.6 308 387.5 302.5 390 C298.5 391.4 294.5 390 290.6 385.2"/>
<path d="M373.5 449.9L380.1 453L378.2 457.2L371.6 454.1Z" fill="#000"/>
<circle class="k2" cx="324.6" cy="431.4" r="40.6"/>
<circle class="k" cx="307.1" cy="401.7" r="4"/>
<circle class="k" cx="341.8" cy="401.7" r="4"/>
<path class="k" d="M294.4 406.1H354.8"/>
<path class="k2" d="M291.2 409.1H358"/>
<circle class="w" cx="311.5" cy="408.5" r="1.4"/>
<circle class="w" cx="337.5" cy="408.5" r="1.4"/>
<path class="k" d="M284.4 425.9 C287.5 417 304 409.6 324.6 409.6 C345 409.6 361.8 417 364.8 425.9"/>
<ellipse class="k" cx="324.6" cy="436.5" rx="39.6" ry="18.8"/>
<path class="k" d="M298.3 439.5 C299 434.5 305 430.2 312.2 427.3"/>
<path class="k" d="M350.9 439.5 C350.2 434.5 344.2 430.2 337 427.3"/>
<path d="M298.6 439.5 C301 444.5 311 447.6 324.6 447.6 C338 447.6 348.2 444.5 350.6 439.5" fill="none" stroke="#000" stroke-width="1.9" stroke-linecap="round"/>
<path class="k" d="M298.2 440.5 C299.5 446.5 311 450.4 324.6 450.4 C338 450.4 349.7 446.5 351 440.5"/>
<path class="k" d="M298.8 443.5 C302 449.5 312 452.6 324.6 452.6 C337 452.6 347.2 449.5 350.4 443.5"/>
<circle class="w" cx="300.5" cy="439.6" r="1.1"/>
<circle class="w" cx="324.6" cy="431.4" r="13.1"/>
<path d="M314.6 431.4H334.6M324.6 421.4V441.4" fill="none" stroke="#333" stroke-width="0.7" stroke-dasharray="6.2 1.6 4.4 1.6 6.2"/>
<ellipse class="w" cx="306.8" cy="423.5" rx="2.7" ry="1.5"/>
<ellipse class="w" cx="342.1" cy="423.5" rx="2.7" ry="1.5"/>
<ellipse class="w" cx="288.9" cy="440.8" rx="2.7" ry="1.5"/>
<ellipse class="w" cx="359.9" cy="440.8" rx="2.7" ry="1.5"/>
<ellipse class="w" cx="306.8" cy="458" rx="2.7" ry="1.5"/>
<ellipse class="w" cx="342.1" cy="458" rx="2.7" ry="1.5"/>
<path class="k2" d="M300.7 462.3 A6.2 6.2 0 0 0 313.1 463.2"/>
<circle class="k2" cx="306.9" cy="463" r="2.9"/>
<circle class="k" cx="342.1" cy="463.6" r="3.6"/>
<path class="k" d="M313 463.6 L338.5 462.6 M345.5 461.5 L354.5 457.5 M289 452 L300.5 461.5"/>
<circle cx="282.7" cy="390" r="7.9" fill="none" stroke="#000" stroke-width="1.9"/>
<circle class="k" cx="287.8" cy="391.8" r="1.1"/>
<path d="M279.5 390.3H286M282.6 387V393.5" fill="none" stroke="#666" stroke-width="0.8"/>
<circle cx="283.2" cy="472.8" r="3.9" fill="#000"/>
<path d="M281.6 471.2l3.2 3.2m0 -3.2l-3.2 3.2" stroke="#999" stroke-width="0.7" fill="none"/>
<path d="M365.3 463.7 L369.5 465.6 M361.2 465.6 L365.3 463.7 M361.5 480.3 L365.4 482 L369.3 480.3" fill="none" stroke="#000" stroke-width="1.6" stroke-linejoin="round" stroke-linecap="round"/><circle cx="365.4" cy="472.9" r="7.7" fill="none" stroke="#000" stroke-width="1.9"/>
<circle class="k" cx="361" cy="473.5" r="1.5"/>
<path d="M362.4 472.9H368.6M365.4 469.9V476" fill="none" stroke="#555" stroke-width="0.8"/>
<text transform="translate(163.80 355.30) scale(0.8340 1.0174)" font-size="10" xml:space="preserve">2X</text>
<text transform="translate(135.20 364.60) scale(0.9653 1.0174)" font-size="10" xml:space="preserve">1/4"-100 PITCH</text>
<text transform="translate(107.00 374.70) scale(0.8997 1.0174)" font-size="10" xml:space="preserve">FINE ADJUSTMENT SCREWS</text>
<rect x="214" y="420" width="48" height="23.5" fill="#fff"/>
<text transform="translate(219.50 431.20) scale(1.0244 1.0174)" font-size="10" xml:space="preserve">69.9mm</text>
<text class="br" transform="translate(215.00 431.07) scale(0.9353 1.3612)" font-size="10">[</text><text class="br" transform="translate(258.50 431.07) scale(0.9353 1.3612)" font-size="10">]</text>
<text transform="translate(221.70 441.80) scale(0.9784 1.0174)" font-size="10" xml:space="preserve">2.750in</text>
<text transform="translate(305.50 507.00) scale(1.0520 1.0174)" font-size="10" xml:space="preserve">69.9mm</text>
<text class="br" transform="translate(300.90 506.87) scale(0.9353 1.3612)" font-size="10">[</text><text class="br" transform="translate(345.50 506.87) scale(0.9353 1.3612)" font-size="10">]</text>
<text transform="translate(308.20 518.00) scale(0.9936 1.0174)" font-size="10" xml:space="preserve">2.750in</text>

</g>
<g id="side">
<path class="d" d="M533.8 421.3V529.3M715.2 474.9V529.3M537.5 522.1H593.1M654.9 522.1H711.5M760 360.6H744.1L717.5 394.3"/>
<path class="a" d="M533.8 522.1L540.3 520.6V523.6ZM715.2 522.1L708.7 520.6V523.6ZM715.6 397L717.3 390.8L720.2 393Z"/>
<path d="M543 411V406.3H604V452.5" fill="none" stroke="#000" stroke-width="1.4" stroke-linejoin="round"/>
<path class="k" d="M566.9 426.4H603.6M581.6 436.3H603.6"/>
<path class="k" d="M604 410.7H614M604 452.5H614"/>
<path class="w" d="M539.7 408.8L533.1 417.6L600.8 463.5L607.1 454.3Z"/>
<path class="k" d="M581.6 429.6L583.2 431.3L581.6 433.0L580.0 431.3Z"/>
<path class="k" d="M600.4 429.6L602.0 431.3L600.4 433.0L598.8 431.3Z"/>
<path class="t" d="M606 438L607.6 440L606 442L604.6 440Z"/>
<path class="k" d="M606.5 454.8H613.2V465M606.3 457.5H611.5V464.6M611.5 457.5V464.6M603 460.5V464.6"/>
<path d="M614.1 398.2V464.6" fill="none" stroke="#000" stroke-width="1.5"/>
<path d="M624.9 382.6V481" fill="none" stroke="#000" stroke-width="2.1"/>
<rect class="w" x="591.5" y="382.7" width="14.8" height="15.6" rx="1.2"/>
<rect class="w" x="606.3" y="382.9" width="7.6" height="15.4" rx="0.6"/>
<rect class="w" x="613.9" y="386.4" width="10.6" height="8.6"/>
<rect class="w" x="591.5" y="464.7" width="14.8" height="15.6" rx="1.2"/>
<rect class="w" x="606.3" y="464.9" width="7.6" height="15.4" rx="0.6"/>
<rect class="w" x="613.9" y="468.4" width="10.6" height="8.8"/>
<rect class="w" x="628.8" y="383.8" width="11.4" height="96.0"/>
<rect class="w" x="629.2" y="380.4" width="10.8" height="3.4" rx="1.2"/>
<rect class="w" x="629.2" y="479.7" width="10.8" height="3.1" rx="1.2"/>
<path class="k" d="M628.8 428.2h11.4M628.8 434.5h11.4M628.8 448.1h11.4M628.8 456.4h11.4M628.8 460.6h11.4"/>
<ellipse cx="634.5" cy="438.6" rx="4.4" ry="2" fill="#000"/>
<ellipse cx="634.5" cy="438.8" rx="1.1" ry="0.9" fill="#fff"/>
<path d="M629.5999999999999 437.2Q634.5 434.8 639.4 437.2" fill="none" stroke="#000" stroke-width="0.8"/>
<rect class="w" x="700.1" y="383.8" width="11.4" height="96.0"/>
<rect class="w" x="700.5" y="380.4" width="10.8" height="3.4" rx="1.2"/>
<rect class="w" x="700.5" y="479.7" width="10.8" height="3.1" rx="1.2"/>
<path class="k" d="M700.1 428.2h11.4M700.1 434.5h11.4M700.1 448.1h11.4M700.1 456.4h11.4M700.1 460.6h11.4"/>
<ellipse cx="705.8000000000001" cy="438.6" rx="4.4" ry="2" fill="#000"/>
<ellipse cx="705.8000000000001" cy="438.8" rx="1.1" ry="0.9" fill="#fff"/>
<path d="M700.9 437.2Q705.8000000000001 434.8 710.7 437.2" fill="none" stroke="#000" stroke-width="0.8"/>
<path class="k" d="M625 382.6H629M625 386.6H628.8M625 390.4H628.8M627.6 390.4V464.6"/>
<path d="M624.9 383H628.8" fill="none" stroke="#000" stroke-width="1.8"/>
<rect class="w" x="624.3" y="464.6" width="4.3" height="16.6" rx="0.8"/>
<path class="k" d="M624.3 468.5h4.3M624.3 477h4.3"/>
<path class="w" d="M640.2 383.2Q640.2 382.4 641 382.4H642.6L643.8 384.0V397.7L642.6 399.3H641Q640.2 399.3 640.2 398.5Z"/>
<path class="k" d="M640.2 386.0H643.8M640.2 395.7H643.8"/>
<rect class="w" x="644.2" y="385.0" width="2.3" height="11.8" rx="0.6"/>
<rect class="w" x="647.5" y="386.8" width="7.0" height="8.2" rx="0.5"/>
<rect x="654.4" y="387.05" width="3.6" height="7.6" fill="#666"/>
<path class="w" d="M640.2 465.40000000000003Q640.2 464.6 641 464.6H642.6L643.8 466.20000000000005V479.59999999999997L642.6 481.2H641Q640.2 481.2 640.2 480.4Z"/>
<path class="k" d="M640.2 468.20000000000005H643.8M640.2 477.59999999999997H643.8"/>
<rect class="w" x="644.2" y="467.0" width="2.3" height="11.8" rx="0.6"/>
<rect class="w" x="647.5" y="468.8" width="7.0" height="8.2" rx="0.5"/>
<rect x="654.4" y="469.09999999999997" width="3.6" height="7.6" fill="#666"/>
<path class="w" d="M658.8 384.2H672.9L674 385.3L675.1 384.2H700.1V396.3H675.1L674 395.3L672.9 396.3H658.8Q658.2 396.3 658.2 395.6V384.9Q658.2 384.2 658.8 384.2Z"/>
<rect class="w" x="658.4" y="466.5" width="41.7" height="11.7" rx="0.6"/>
<circle class="k" cx="674" cy="472.9" r="1.5"/>
<path d="M644.5 464.2L660 465L675.5 465.4M644.5 481.4L660 480.8L675.5 479.8" fill="none" stroke="#111" stroke-width="1.6" stroke-dasharray="2.2 1.5"/>
<path class="k" d="M640.2 408.7H648.6M640.2 454.3H648.6M688.8 408.7H700.1M688.8 454.3H700.1"/>
<path class="k" d="M648.4 401.6Q648.4 400.2 650.5 400.2H652.5Q654.6 400.2 654.6 401.6M648.4 461Q648.4 462.4 650.5 462.4H652.5Q654.6 462.4 654.6 461M654.6 401.6Q654.6 400.2 656.5 400.2H658.5Q660.4 400.2 660.4 401.6M654.6 461Q654.6 462.4 656.5 462.4H658.5Q660.4 462.4 660.4 461M660.4 401.6Q660.4 400.2 662.3499999999999 400.2H664.3499999999999Q666.3 400.2 666.3 401.6M660.4 461Q660.4 462.4 662.3499999999999 462.4H664.3499999999999Q666.3 462.4 666.3 461M666.3 401.6Q666.3 400.2 668.05 400.2H670.05Q671.8 400.2 671.8 401.6M666.3 461Q666.3 462.4 668.05 462.4H670.05Q671.8 462.4 671.8 461M671.8 401.6Q671.8 400.2 673.5999999999999 400.2H675.5999999999999Q677.4 400.2 677.4 401.6M671.8 461Q671.8 462.4 673.5999999999999 462.4H675.5999999999999Q677.4 462.4 677.4 461M677.4 401.6Q677.4 400.2 679.15 400.2H681.15Q682.9 400.2 682.9 401.6M677.4 461Q677.4 462.4 679.15 462.4H681.15Q682.9 462.4 682.9 461M682.9 401.6Q682.9 400.2 684.8499999999999 400.2H686.8499999999999Q688.8 400.2 688.8 401.6M682.9 461Q682.9 462.4 684.8499999999999 462.4H686.8499999999999Q688.8 462.4 688.8 461"/>
<path d="M648.6 401.5V461.3" fill="none" stroke="#888" stroke-width="1"/>
<path d="M654.6 401.4V461.4" fill="none" stroke="#000" stroke-width="1.5"/>
<path d="M660.4 401.4V461.4" fill="none" stroke="#000" stroke-width="1.5"/>
<path d="M666.3 401.4V461.4" fill="none" stroke="#000" stroke-width="1.5"/>
<path d="M671.8 401.4V461.4" fill="none" stroke="#000" stroke-width="1.5"/>
<path d="M677.4 401.4V461.4" fill="none" stroke="#000" stroke-width="1.5"/>
<path d="M682.9 401.4V461.4" fill="none" stroke="#000" stroke-width="1.5"/>
<path d="M688.8 401.4V461.4" fill="none" stroke="#000" stroke-width="1.5"/>
<path class="k" d="M711.5 390.1H713.6Q714.9 390.1 714.9 391.6V472.4H711.5"/>
<text transform="translate(603.00 521.00) scale(1.0557 1.0174)" font-size="10" xml:space="preserve">153.7mm</text>
<text class="br" transform="translate(598.30 520.87) scale(0.9353 1.3612)" font-size="10">[</text><text class="br" transform="translate(648.50 520.87) scale(0.9353 1.3612)" font-size="10">]</text>
<text transform="translate(608.10 532.40) scale(0.9845 1.0174)" font-size="10" xml:space="preserve">6.052in</text>
<text transform="translate(761.40 358.80) scale(0.9850 1.0174)" font-size="10" xml:space="preserve">2-3/4" CONFLAT FLANGE</text>
<text transform="translate(785.90 368.20) scale(0.9923 1.0174)" font-size="10" xml:space="preserve">CONNECTION</text>

</g>
</svg>
</body></html>
